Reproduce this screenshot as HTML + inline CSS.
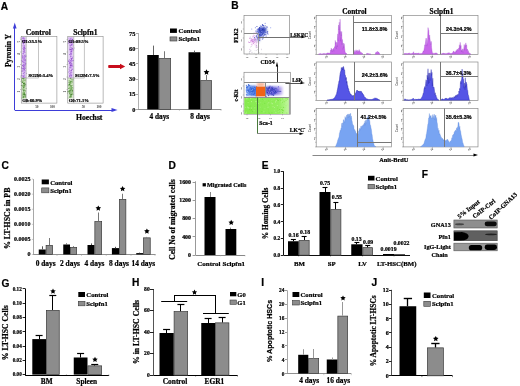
<!DOCTYPE html>
<html><head><meta charset="utf-8"><style>
html,body{margin:0;padding:0;background:#fff;}
body{width:520px;height:386px;overflow:hidden;}
svg{display:block;}
</style></head><body>
<svg width="520" height="386" viewBox="0 0 520 386">
<rect width="520" height="386" fill="#fff"/>
<defs><filter id="gb" x="0" y="0" width="100%" height="100%"><feGaussianBlur stdDeviation="0.45"/></filter></defs><g filter="url(#gb)">
<text x="0.8" y="9.6" font-family="'Liberation Sans', sans-serif" font-size="10.2" font-weight="bold" text-anchor="start" fill="#000" stroke="#000" stroke-width="0.22">A</text>
<text x="231.2" y="9.3" font-family="'Liberation Sans', sans-serif" font-size="10.2" font-weight="bold" text-anchor="start" fill="#000" stroke="#000" stroke-width="0.22">B</text>
<text x="1.6" y="168.8" font-family="'Liberation Sans', sans-serif" font-size="10.2" font-weight="bold" text-anchor="start" fill="#000" stroke="#000" stroke-width="0.22">C</text>
<text x="168.6" y="168.8" font-family="'Liberation Sans', sans-serif" font-size="10.2" font-weight="bold" text-anchor="start" fill="#000" stroke="#000" stroke-width="0.22">D</text>
<text x="261.8" y="168.8" font-family="'Liberation Sans', sans-serif" font-size="10.2" font-weight="bold" text-anchor="start" fill="#000" stroke="#000" stroke-width="0.22">E</text>
<text x="421.8" y="177.6" font-family="'Liberation Sans', sans-serif" font-size="10.2" font-weight="bold" text-anchor="start" fill="#000" stroke="#000" stroke-width="0.22">F</text>
<text x="1.6" y="287.2" font-family="'Liberation Sans', sans-serif" font-size="10.2" font-weight="bold" text-anchor="start" fill="#000" stroke="#000" stroke-width="0.22">G</text>
<text x="132" y="286.4" font-family="'Liberation Sans', sans-serif" font-size="10.2" font-weight="bold" text-anchor="start" fill="#000" stroke="#000" stroke-width="0.22">H</text>
<text x="261.2" y="285.8" font-family="'Liberation Sans', sans-serif" font-size="10.2" font-weight="bold" text-anchor="start" fill="#000" stroke="#000" stroke-width="0.22">I</text>
<text x="371.6" y="286.4" font-family="'Liberation Sans', sans-serif" font-size="10.2" font-weight="bold" text-anchor="start" fill="#000" stroke="#000" stroke-width="0.22">J</text>
<line x1="14.5" y1="110" x2="14.5" y2="27" stroke="#3c3cd8" stroke-width="1"/>
<polygon points="14.75,22.5 12.9,28.5 16.6,28.5" fill="#3c3cd8"/>
<line x1="14.75" y1="110.5" x2="112" y2="110.5" stroke="#3c3cd8" stroke-width="1"/>
<polygon points="117.5,110 111.5,108.1 111.5,111.9" fill="#3c3cd8"/>
<text x="10.8" y="50.5" font-family="'Liberation Serif', serif" font-size="7.6" font-weight="bold" text-anchor="middle" fill="#000" transform="rotate(-90 10.8 50.5)" stroke="#000" stroke-width="0.22">Pyronin Y</text>
<text x="89.2" y="120.4" font-family="'Liberation Serif', serif" font-size="7.7" font-weight="bold" text-anchor="middle" fill="#000" stroke="#000" stroke-width="0.22">Hoechst</text>
<text x="38.3" y="34.6" font-family="'Liberation Serif', serif" font-size="7.6" font-weight="bold" text-anchor="middle" fill="#000" stroke="#000" stroke-width="0.22">Control</text>
<text x="85.4" y="34.6" font-family="'Liberation Serif', serif" font-size="7.6" font-weight="bold" text-anchor="middle" fill="#000" stroke="#000" stroke-width="0.22">Sclpfn1</text>
<rect x="21.75" y="37.2" width="4.3" height="40.8" fill="#e4d0f4"/>
<rect x="21.75" y="78" width="4.3" height="20.5" fill="#d4e6c8"/>
<circle cx="24.68" cy="50.62" r="0.5" fill="#a060d8"/>
<circle cx="25.05" cy="70.76" r="0.5" fill="#a060d8"/>
<circle cx="24.97" cy="52.31" r="0.5" fill="#a060d8"/>
<circle cx="24.22" cy="40.98" r="0.5" fill="#c8a0ec"/>
<circle cx="24.72" cy="40.33" r="0.5" fill="#a060d8"/>
<circle cx="24.37" cy="75.87" r="0.5" fill="#a060d8"/>
<circle cx="21.35" cy="60.87" r="0.5" fill="#a060d8"/>
<circle cx="25.57" cy="60.04" r="0.5" fill="#b880e4"/>
<circle cx="24.09" cy="49.23" r="0.5" fill="#8840c0"/>
<circle cx="24.18" cy="60.19" r="0.5" fill="#b880e4"/>
<circle cx="23.11" cy="41.67" r="0.5" fill="#a060d8"/>
<circle cx="23.44" cy="59.68" r="0.5" fill="#a060d8"/>
<circle cx="22.81" cy="60.36" r="0.5" fill="#c8a0ec"/>
<circle cx="22.87" cy="68.98" r="0.5" fill="#c8a0ec"/>
<circle cx="22.86" cy="61.22" r="0.5" fill="#b880e4"/>
<circle cx="24.02" cy="65.81" r="0.5" fill="#b880e4"/>
<circle cx="23.35" cy="40.82" r="0.5" fill="#8840c0"/>
<circle cx="24.97" cy="67.04" r="0.5" fill="#8840c0"/>
<circle cx="24.93" cy="62.16" r="0.5" fill="#b880e4"/>
<circle cx="24.33" cy="68.16" r="0.5" fill="#b880e4"/>
<circle cx="21.27" cy="75.3" r="0.5" fill="#a060d8"/>
<circle cx="25.08" cy="68.47" r="0.5" fill="#8840c0"/>
<circle cx="22.99" cy="51.27" r="0.5" fill="#c8a0ec"/>
<circle cx="24.79" cy="40.28" r="0.5" fill="#a060d8"/>
<circle cx="22.15" cy="75.76" r="0.5" fill="#a060d8"/>
<circle cx="24.01" cy="67.11" r="0.5" fill="#8840c0"/>
<circle cx="25.79" cy="63.71" r="0.5" fill="#8840c0"/>
<circle cx="23.66" cy="66.52" r="0.5" fill="#8840c0"/>
<circle cx="23.1" cy="38.41" r="0.5" fill="#a060d8"/>
<circle cx="23.91" cy="57.49" r="0.5" fill="#b880e4"/>
<circle cx="24.32" cy="68.61" r="0.5" fill="#c8a0ec"/>
<circle cx="24.35" cy="74.63" r="0.5" fill="#c8a0ec"/>
<circle cx="22.43" cy="40.76" r="0.5" fill="#b880e4"/>
<circle cx="24.19" cy="70.68" r="0.5" fill="#8840c0"/>
<circle cx="25.41" cy="66.11" r="0.5" fill="#c8a0ec"/>
<circle cx="23.61" cy="76.29" r="0.5" fill="#b880e4"/>
<circle cx="24.69" cy="40.86" r="0.5" fill="#a060d8"/>
<circle cx="25.06" cy="57.14" r="0.5" fill="#b880e4"/>
<circle cx="24.9" cy="48.14" r="0.5" fill="#8840c0"/>
<circle cx="23.78" cy="62.2" r="0.5" fill="#8840c0"/>
<circle cx="23.27" cy="76.1" r="0.5" fill="#a060d8"/>
<circle cx="22.52" cy="55.99" r="0.5" fill="#c8a0ec"/>
<circle cx="22.76" cy="53.62" r="0.5" fill="#c8a0ec"/>
<circle cx="24.53" cy="40.02" r="0.5" fill="#a060d8"/>
<circle cx="23.26" cy="77.38" r="0.5" fill="#a060d8"/>
<circle cx="23.94" cy="41.65" r="0.5" fill="#b880e4"/>
<circle cx="25.19" cy="59.23" r="0.5" fill="#a060d8"/>
<circle cx="23.27" cy="72.91" r="0.5" fill="#c8a0ec"/>
<circle cx="23.74" cy="43.52" r="0.5" fill="#8840c0"/>
<circle cx="24.77" cy="56.7" r="0.5" fill="#a060d8"/>
<circle cx="24.98" cy="71.88" r="0.5" fill="#c8a0ec"/>
<circle cx="23.7" cy="50.13" r="0.5" fill="#b880e4"/>
<circle cx="23.28" cy="41.64" r="0.5" fill="#b880e4"/>
<circle cx="24.47" cy="58.41" r="0.5" fill="#b880e4"/>
<circle cx="23.14" cy="76.01" r="0.5" fill="#a060d8"/>
<circle cx="23.64" cy="68.2" r="0.5" fill="#8840c0"/>
<circle cx="24.86" cy="77.13" r="0.5" fill="#8840c0"/>
<circle cx="22.46" cy="58.5" r="0.5" fill="#b880e4"/>
<circle cx="23.98" cy="51.91" r="0.5" fill="#8840c0"/>
<circle cx="25.1" cy="63.28" r="0.5" fill="#b880e4"/>
<circle cx="24.5" cy="70.15" r="0.5" fill="#b880e4"/>
<circle cx="22.11" cy="45.6" r="0.5" fill="#c8a0ec"/>
<circle cx="24.01" cy="51.9" r="0.5" fill="#8840c0"/>
<circle cx="23.8" cy="56.63" r="0.5" fill="#b880e4"/>
<circle cx="24.9" cy="65.55" r="0.5" fill="#8840c0"/>
<circle cx="23.43" cy="76.18" r="0.5" fill="#8840c0"/>
<circle cx="24.74" cy="40.76" r="0.5" fill="#8840c0"/>
<circle cx="24.49" cy="45.78" r="0.5" fill="#a060d8"/>
<circle cx="22.62" cy="56.92" r="0.5" fill="#a060d8"/>
<circle cx="22.13" cy="71.3" r="0.5" fill="#a060d8"/>
<circle cx="24.12" cy="74.35" r="0.5" fill="#c8a0ec"/>
<circle cx="21.96" cy="73.5" r="0.5" fill="#c8a0ec"/>
<circle cx="22.77" cy="69.46" r="0.5" fill="#c8a0ec"/>
<circle cx="25.47" cy="56.26" r="0.5" fill="#a060d8"/>
<circle cx="24.03" cy="66.85" r="0.5" fill="#b880e4"/>
<circle cx="24.25" cy="61.43" r="0.5" fill="#c8a0ec"/>
<circle cx="25" cy="70.16" r="0.5" fill="#c8a0ec"/>
<circle cx="25.39" cy="64.12" r="0.5" fill="#8840c0"/>
<circle cx="23.53" cy="43.81" r="0.5" fill="#a060d8"/>
<circle cx="23.68" cy="58.83" r="0.5" fill="#b880e4"/>
<circle cx="25.17" cy="55.07" r="0.5" fill="#b880e4"/>
<circle cx="22.27" cy="38.63" r="0.5" fill="#b880e4"/>
<circle cx="23.84" cy="49.37" r="0.5" fill="#8840c0"/>
<circle cx="25.21" cy="59.55" r="0.5" fill="#b880e4"/>
<circle cx="23.6" cy="39.97" r="0.5" fill="#c8a0ec"/>
<circle cx="21.41" cy="71" r="0.5" fill="#b880e4"/>
<circle cx="23.54" cy="59.04" r="0.5" fill="#c8a0ec"/>
<circle cx="23.72" cy="68.95" r="0.5" fill="#a060d8"/>
<circle cx="24.11" cy="68.93" r="0.5" fill="#a060d8"/>
<circle cx="24.24" cy="60.04" r="0.5" fill="#8840c0"/>
<circle cx="22.51" cy="65.13" r="0.5" fill="#a060d8"/>
<circle cx="23.51" cy="73.27" r="0.5" fill="#a060d8"/>
<circle cx="23.43" cy="47.56" r="0.5" fill="#c8a0ec"/>
<circle cx="25.62" cy="60.25" r="0.5" fill="#a060d8"/>
<circle cx="22.76" cy="55.45" r="0.5" fill="#b880e4"/>
<circle cx="22.9" cy="65.56" r="0.5" fill="#c8a0ec"/>
<circle cx="24.21" cy="58.08" r="0.5" fill="#b880e4"/>
<circle cx="22.52" cy="65.82" r="0.5" fill="#8840c0"/>
<circle cx="24.33" cy="74.87" r="0.5" fill="#c8a0ec"/>
<circle cx="23.29" cy="43.05" r="0.5" fill="#a060d8"/>
<circle cx="23.09" cy="53.39" r="0.5" fill="#c8a0ec"/>
<circle cx="25.25" cy="40.46" r="0.5" fill="#8840c0"/>
<circle cx="24.26" cy="69.25" r="0.5" fill="#8840c0"/>
<circle cx="23.37" cy="43.29" r="0.5" fill="#b880e4"/>
<circle cx="24.27" cy="76.69" r="0.5" fill="#c8a0ec"/>
<circle cx="26.42" cy="73.34" r="0.5" fill="#b880e4"/>
<circle cx="24.07" cy="77.59" r="0.5" fill="#c8a0ec"/>
<circle cx="23.18" cy="77.76" r="0.5" fill="#c8a0ec"/>
<circle cx="24.07" cy="51.23" r="0.5" fill="#8840c0"/>
<circle cx="24.66" cy="38.29" r="0.5" fill="#c8a0ec"/>
<circle cx="24.73" cy="55.34" r="0.5" fill="#8840c0"/>
<circle cx="23.86" cy="58.25" r="0.5" fill="#a060d8"/>
<circle cx="24.44" cy="42.07" r="0.5" fill="#a060d8"/>
<circle cx="23.36" cy="40.9" r="0.5" fill="#8840c0"/>
<circle cx="23.91" cy="39.1" r="0.5" fill="#b880e4"/>
<circle cx="22.89" cy="70.7" r="0.5" fill="#8840c0"/>
<circle cx="22.46" cy="53.94" r="0.5" fill="#c8a0ec"/>
<circle cx="23.45" cy="65.87" r="0.5" fill="#a060d8"/>
<circle cx="23.96" cy="48.8" r="0.5" fill="#a060d8"/>
<circle cx="23.08" cy="48.39" r="0.5" fill="#a060d8"/>
<circle cx="23.9" cy="63.19" r="0.5" fill="#b880e4"/>
<circle cx="23.31" cy="40.2" r="0.5" fill="#a060d8"/>
<circle cx="23.01" cy="55.88" r="0.5" fill="#8840c0"/>
<circle cx="24.93" cy="62.68" r="0.5" fill="#a060d8"/>
<circle cx="23.79" cy="58.84" r="0.5" fill="#b880e4"/>
<circle cx="24.28" cy="48.11" r="0.5" fill="#b880e4"/>
<circle cx="23.39" cy="45.67" r="0.5" fill="#b880e4"/>
<circle cx="24.62" cy="49.24" r="0.5" fill="#b880e4"/>
<circle cx="24.92" cy="48.46" r="0.5" fill="#a060d8"/>
<circle cx="20.4" cy="38.12" r="0.5" fill="#b880e4"/>
<circle cx="23.78" cy="58.33" r="0.5" fill="#c8a0ec"/>
<circle cx="24.95" cy="64.09" r="0.5" fill="#c8a0ec"/>
<circle cx="23.48" cy="76.8" r="0.5" fill="#b880e4"/>
<circle cx="24.47" cy="51.38" r="0.5" fill="#b880e4"/>
<circle cx="23.54" cy="53.89" r="0.5" fill="#b880e4"/>
<circle cx="24.05" cy="38.08" r="0.5" fill="#8840c0"/>
<circle cx="25.28" cy="54.94" r="0.5" fill="#c8a0ec"/>
<circle cx="24.31" cy="72.76" r="0.5" fill="#8840c0"/>
<circle cx="23.63" cy="61.75" r="0.5" fill="#b880e4"/>
<circle cx="23.44" cy="43.88" r="0.5" fill="#c8a0ec"/>
<circle cx="23.1" cy="37.65" r="0.5" fill="#8840c0"/>
<circle cx="24.49" cy="47.4" r="0.5" fill="#8840c0"/>
<circle cx="24.16" cy="46.32" r="0.5" fill="#a060d8"/>
<circle cx="24.66" cy="56.72" r="0.5" fill="#b880e4"/>
<circle cx="23.83" cy="47.55" r="0.5" fill="#a060d8"/>
<circle cx="23.28" cy="43.33" r="0.5" fill="#a060d8"/>
<circle cx="23.27" cy="53.46" r="0.5" fill="#a060d8"/>
<circle cx="25.23" cy="61.22" r="0.5" fill="#b880e4"/>
<circle cx="23.27" cy="64.13" r="0.5" fill="#c8a0ec"/>
<circle cx="21.54" cy="68.45" r="0.5" fill="#c8a0ec"/>
<circle cx="23.49" cy="43.55" r="0.5" fill="#a060d8"/>
<circle cx="22.19" cy="70.91" r="0.5" fill="#c8a0ec"/>
<circle cx="23.98" cy="67.22" r="0.5" fill="#a060d8"/>
<circle cx="23.19" cy="70.97" r="0.5" fill="#b880e4"/>
<circle cx="25.26" cy="40.95" r="0.5" fill="#a060d8"/>
<circle cx="24.16" cy="52.75" r="0.5" fill="#c8a0ec"/>
<circle cx="22.68" cy="60.12" r="0.5" fill="#b880e4"/>
<circle cx="22.64" cy="57.32" r="0.5" fill="#a060d8"/>
<circle cx="26.06" cy="56.01" r="0.5" fill="#a060d8"/>
<circle cx="24.84" cy="64.2" r="0.5" fill="#a060d8"/>
<circle cx="21.77" cy="67.7" r="0.5" fill="#8840c0"/>
<circle cx="24.08" cy="47.01" r="0.5" fill="#b880e4"/>
<circle cx="23.03" cy="46.84" r="0.5" fill="#c8a0ec"/>
<circle cx="22.76" cy="40.61" r="0.5" fill="#8840c0"/>
<circle cx="22.58" cy="68.56" r="0.5" fill="#a060d8"/>
<circle cx="22.69" cy="61.79" r="0.5" fill="#8840c0"/>
<circle cx="23.71" cy="47.78" r="0.5" fill="#b880e4"/>
<circle cx="22.81" cy="38.01" r="0.5" fill="#a060d8"/>
<circle cx="24.25" cy="57.17" r="0.5" fill="#b880e4"/>
<circle cx="23.66" cy="64.87" r="0.5" fill="#8840c0"/>
<circle cx="23.48" cy="92.32" r="0.5" fill="#5a9a40"/>
<circle cx="24.95" cy="97.87" r="0.5" fill="#88b870"/>
<circle cx="24.82" cy="84.58" r="0.5" fill="#3f7a2a"/>
<circle cx="24.39" cy="87.45" r="0.5" fill="#a8cc90"/>
<circle cx="21.89" cy="97.88" r="0.5" fill="#88b870"/>
<circle cx="25.35" cy="79.95" r="0.5" fill="#5a9a40"/>
<circle cx="21.06" cy="81.26" r="0.5" fill="#88b870"/>
<circle cx="23.34" cy="90.27" r="0.5" fill="#3f7a2a"/>
<circle cx="23.52" cy="95.79" r="0.5" fill="#a8cc90"/>
<circle cx="22.99" cy="86.18" r="0.5" fill="#88b870"/>
<circle cx="22.55" cy="78.57" r="0.5" fill="#3f7a2a"/>
<circle cx="23.81" cy="92.68" r="0.5" fill="#a8cc90"/>
<circle cx="22.9" cy="85.21" r="0.5" fill="#5a9a40"/>
<circle cx="25.68" cy="84.83" r="0.5" fill="#3f7a2a"/>
<circle cx="25.58" cy="94.86" r="0.5" fill="#5a9a40"/>
<circle cx="25.47" cy="96.08" r="0.5" fill="#3f7a2a"/>
<circle cx="24.75" cy="83.44" r="0.5" fill="#5a9a40"/>
<circle cx="24.18" cy="85.53" r="0.5" fill="#a8cc90"/>
<circle cx="24.29" cy="93.24" r="0.5" fill="#5a9a40"/>
<circle cx="23.04" cy="94.78" r="0.5" fill="#3f7a2a"/>
<circle cx="25.49" cy="90.88" r="0.5" fill="#a8cc90"/>
<circle cx="26.11" cy="88.46" r="0.5" fill="#88b870"/>
<circle cx="24" cy="93.58" r="0.5" fill="#5a9a40"/>
<circle cx="22.62" cy="94.33" r="0.5" fill="#a8cc90"/>
<circle cx="25.04" cy="96.31" r="0.5" fill="#5a9a40"/>
<circle cx="23.24" cy="79.46" r="0.5" fill="#a8cc90"/>
<circle cx="23.78" cy="87.29" r="0.5" fill="#3f7a2a"/>
<circle cx="22.17" cy="87.97" r="0.5" fill="#88b870"/>
<circle cx="22.98" cy="81.83" r="0.5" fill="#3f7a2a"/>
<circle cx="24.21" cy="92.91" r="0.5" fill="#3f7a2a"/>
<circle cx="23.84" cy="86.42" r="0.5" fill="#a8cc90"/>
<circle cx="25.01" cy="80.83" r="0.5" fill="#88b870"/>
<circle cx="21.74" cy="79.97" r="0.5" fill="#88b870"/>
<circle cx="23.74" cy="87.33" r="0.5" fill="#3f7a2a"/>
<circle cx="23.18" cy="97.93" r="0.5" fill="#88b870"/>
<circle cx="23.94" cy="83.26" r="0.5" fill="#88b870"/>
<circle cx="24.43" cy="85.17" r="0.5" fill="#3f7a2a"/>
<circle cx="24.19" cy="94.28" r="0.5" fill="#88b870"/>
<circle cx="23.75" cy="95.8" r="0.5" fill="#a8cc90"/>
<circle cx="22.61" cy="93.04" r="0.5" fill="#88b870"/>
<circle cx="23.54" cy="85.85" r="0.5" fill="#3f7a2a"/>
<circle cx="24.08" cy="89.7" r="0.5" fill="#3f7a2a"/>
<circle cx="22.2" cy="80.95" r="0.5" fill="#88b870"/>
<circle cx="23.72" cy="80.31" r="0.5" fill="#88b870"/>
<circle cx="23.04" cy="86" r="0.5" fill="#3f7a2a"/>
<circle cx="22.82" cy="95.05" r="0.5" fill="#5a9a40"/>
<circle cx="22.08" cy="80.98" r="0.5" fill="#a8cc90"/>
<circle cx="24.6" cy="97.38" r="0.5" fill="#a8cc90"/>
<circle cx="21.8" cy="78.5" r="0.5" fill="#a8cc90"/>
<circle cx="25.33" cy="97.46" r="0.5" fill="#88b870"/>
<circle cx="23.85" cy="93.77" r="0.5" fill="#5a9a40"/>
<circle cx="24.37" cy="96.86" r="0.5" fill="#a8cc90"/>
<circle cx="23.76" cy="80.16" r="0.5" fill="#88b870"/>
<circle cx="23.69" cy="83.04" r="0.5" fill="#5a9a40"/>
<circle cx="23.56" cy="91.09" r="0.5" fill="#3f7a2a"/>
<circle cx="24.29" cy="88.8" r="0.5" fill="#a8cc90"/>
<circle cx="24.07" cy="92.12" r="0.5" fill="#88b870"/>
<circle cx="24.02" cy="86.07" r="0.5" fill="#88b870"/>
<circle cx="25.12" cy="93.91" r="0.5" fill="#a8cc90"/>
<circle cx="23.76" cy="83.93" r="0.5" fill="#3f7a2a"/>
<circle cx="24.68" cy="91.07" r="0.5" fill="#88b870"/>
<circle cx="22.92" cy="89.17" r="0.5" fill="#5a9a40"/>
<circle cx="23.48" cy="97.23" r="0.5" fill="#5a9a40"/>
<circle cx="22.85" cy="82.29" r="0.5" fill="#a8cc90"/>
<circle cx="23.91" cy="80.08" r="0.5" fill="#3f7a2a"/>
<circle cx="24.89" cy="82.92" r="0.5" fill="#5a9a40"/>
<circle cx="23.54" cy="92.07" r="0.5" fill="#a8cc90"/>
<circle cx="22.73" cy="82.36" r="0.5" fill="#3f7a2a"/>
<circle cx="23" cy="92.91" r="0.5" fill="#88b870"/>
<circle cx="23.73" cy="84.58" r="0.5" fill="#88b870"/>
<circle cx="24.08" cy="83" r="0.5" fill="#3f7a2a"/>
<circle cx="25.58" cy="80.63" r="0.5" fill="#a8cc90"/>
<circle cx="24.76" cy="90.4" r="0.5" fill="#5a9a40"/>
<circle cx="22.98" cy="97" r="0.5" fill="#88b870"/>
<circle cx="23.98" cy="96.48" r="0.5" fill="#88b870"/>
<circle cx="23.83" cy="86.6" r="0.5" fill="#5a9a40"/>
<circle cx="22.1" cy="82.09" r="0.5" fill="#3f7a2a"/>
<circle cx="24.29" cy="92.79" r="0.5" fill="#5a9a40"/>
<circle cx="23.41" cy="96.67" r="0.5" fill="#a8cc90"/>
<circle cx="24.37" cy="79.12" r="0.5" fill="#a8cc90"/>
<circle cx="24.93" cy="94.86" r="0.5" fill="#5a9a40"/>
<circle cx="23.64" cy="78.56" r="0.5" fill="#3f7a2a"/>
<circle cx="21.74" cy="80.07" r="0.5" fill="#88b870"/>
<circle cx="24.85" cy="85.91" r="0.5" fill="#3f7a2a"/>
<circle cx="23.43" cy="94.53" r="0.5" fill="#a8cc90"/>
<circle cx="23.89" cy="82.32" r="0.5" fill="#a8cc90"/>
<circle cx="22.21" cy="82.26" r="0.5" fill="#5a9a40"/>
<circle cx="25.52" cy="90.82" r="0.5" fill="#88b870"/>
<circle cx="23.78" cy="94.33" r="0.5" fill="#5a9a40"/>
<circle cx="23.43" cy="87.55" r="0.5" fill="#5a9a40"/>
<circle cx="23.71" cy="83.51" r="0.5" fill="#3f7a2a"/>
<circle cx="21.4" cy="85.58" r="0.5" fill="#3f7a2a"/>
<circle cx="23.11" cy="97.17" r="0.5" fill="#3f7a2a"/>
<circle cx="23.17" cy="96.52" r="0.5" fill="#3f7a2a"/>
<circle cx="23.84" cy="78.57" r="0.5" fill="#5a9a40"/>
<circle cx="21.3" cy="78.97" r="0.5" fill="#88b870"/>
<circle cx="23.49" cy="80.59" r="0.5" fill="#a8cc90"/>
<circle cx="22.55" cy="93.9" r="0.5" fill="#a8cc90"/>
<circle cx="24.62" cy="94.39" r="0.5" fill="#5a9a40"/>
<circle cx="24.7" cy="94.15" r="0.5" fill="#3f7a2a"/>
<circle cx="23.96" cy="94.54" r="0.5" fill="#3f7a2a"/>
<circle cx="22.26" cy="95.29" r="0.5" fill="#a8cc90"/>
<circle cx="23.84" cy="85.56" r="0.5" fill="#88b870"/>
<circle cx="23.31" cy="86.14" r="0.5" fill="#88b870"/>
<circle cx="24.02" cy="83.32" r="0.5" fill="#3f7a2a"/>
<circle cx="23.86" cy="81.63" r="0.5" fill="#a8cc90"/>
<circle cx="24.61" cy="95.73" r="0.5" fill="#5a9a40"/>
<circle cx="23.68" cy="82.56" r="0.5" fill="#a8cc90"/>
<circle cx="23.45" cy="88.22" r="0.5" fill="#88b870"/>
<circle cx="22.59" cy="81.09" r="0.5" fill="#a8cc90"/>
<rect x="21.25" y="36.5" width="35.65" height="66.6" fill="none" stroke="#8a8a8a" stroke-width="0.6"/>
<line x1="26.25" y1="36.5" x2="26.25" y2="103.1" stroke="#8a8a8a" stroke-width="0.5"/>
<line x1="21.25" y1="78" x2="38.5" y2="78" stroke="#8a8a8a" stroke-width="0.5"/>
<line x1="38.5" y1="36.5" x2="38.5" y2="78" stroke="#8a8a8a" stroke-width="0.5"/>
<text x="21.95" y="43.2" font-family="'Liberation Serif', serif" font-size="4.6" font-weight="bold" text-anchor="start" fill="#000" stroke="#000" stroke-width="0.22">G1:35.5%</text>
<text x="28.45" y="76.5" font-family="'Liberation Serif', serif" font-size="4.6" font-weight="bold" text-anchor="start" fill="#000" stroke="#000" stroke-width="0.22">SG2M:3.4%</text>
<text x="22.25" y="102.2" font-family="'Liberation Serif', serif" font-size="4.6" font-weight="bold" text-anchor="start" fill="#000" stroke="#000" stroke-width="0.22">G0:60.9%</text>
<line x1="20.05" y1="39.5" x2="21.25" y2="39.5" stroke="#777" stroke-width="0.4"/>
<text x="19.65" y="40.7" font-family="'Liberation Serif', serif" font-size="3.4" font-weight="bold" text-anchor="end" fill="#444" transform="rotate(-90 19.65 40.7)">5</text>
<line x1="20.05" y1="52" x2="21.25" y2="52" stroke="#777" stroke-width="0.4"/>
<text x="19.65" y="53.2" font-family="'Liberation Serif', serif" font-size="3.4" font-weight="bold" text-anchor="end" fill="#444" transform="rotate(-90 19.65 53.2)">4</text>
<line x1="20.05" y1="64.5" x2="21.25" y2="64.5" stroke="#777" stroke-width="0.4"/>
<text x="19.65" y="65.7" font-family="'Liberation Serif', serif" font-size="3.4" font-weight="bold" text-anchor="end" fill="#444" transform="rotate(-90 19.65 65.7)">3</text>
<line x1="20.05" y1="77" x2="21.25" y2="77" stroke="#777" stroke-width="0.4"/>
<text x="19.65" y="78.2" font-family="'Liberation Serif', serif" font-size="3.4" font-weight="bold" text-anchor="end" fill="#444" transform="rotate(-90 19.65 78.2)">2</text>
<line x1="20.05" y1="89.5" x2="21.25" y2="89.5" stroke="#777" stroke-width="0.4"/>
<text x="19.65" y="90.7" font-family="'Liberation Serif', serif" font-size="3.4" font-weight="bold" text-anchor="end" fill="#444" transform="rotate(-90 19.65 90.7)">1</text>
<text x="36.85" y="107.8" font-family="'Liberation Serif', serif" font-size="3.4" font-weight="bold" text-anchor="middle" fill="#444">50</text>
<text x="52.45" y="107.8" font-family="'Liberation Serif', serif" font-size="3.4" font-weight="bold" text-anchor="middle" fill="#444">100</text>
<rect x="68.25" y="37.2" width="5.3" height="40.8" fill="#e4d0f4"/>
<rect x="68.25" y="78" width="5.3" height="20.5" fill="#d4e6c8"/>
<circle cx="69.91" cy="62.62" r="0.5" fill="#a060d8"/>
<circle cx="69.13" cy="69.08" r="0.5" fill="#8840c0"/>
<circle cx="69.78" cy="49.4" r="0.5" fill="#8840c0"/>
<circle cx="70.32" cy="45.57" r="0.5" fill="#b880e4"/>
<circle cx="70.83" cy="45.02" r="0.5" fill="#b880e4"/>
<circle cx="71.64" cy="50.72" r="0.5" fill="#c8a0ec"/>
<circle cx="70.78" cy="47.69" r="0.5" fill="#a060d8"/>
<circle cx="72.09" cy="63.96" r="0.5" fill="#a060d8"/>
<circle cx="68.74" cy="41.64" r="0.5" fill="#c8a0ec"/>
<circle cx="71.07" cy="74.53" r="0.5" fill="#a060d8"/>
<circle cx="70.79" cy="73.01" r="0.5" fill="#b880e4"/>
<circle cx="71.1" cy="75.17" r="0.5" fill="#8840c0"/>
<circle cx="71.41" cy="58.26" r="0.5" fill="#a060d8"/>
<circle cx="72.09" cy="41.78" r="0.5" fill="#8840c0"/>
<circle cx="70.34" cy="46.31" r="0.5" fill="#b880e4"/>
<circle cx="71.2" cy="77.99" r="0.5" fill="#a060d8"/>
<circle cx="70.32" cy="61.78" r="0.5" fill="#a060d8"/>
<circle cx="70.15" cy="70.66" r="0.5" fill="#c8a0ec"/>
<circle cx="71.13" cy="64.97" r="0.5" fill="#b880e4"/>
<circle cx="71.62" cy="38.77" r="0.5" fill="#c8a0ec"/>
<circle cx="71.22" cy="59.7" r="0.5" fill="#c8a0ec"/>
<circle cx="70.95" cy="64.39" r="0.5" fill="#b880e4"/>
<circle cx="71.3" cy="63.39" r="0.5" fill="#8840c0"/>
<circle cx="71.11" cy="54.1" r="0.5" fill="#8840c0"/>
<circle cx="70.44" cy="64.55" r="0.5" fill="#8840c0"/>
<circle cx="70.93" cy="54.27" r="0.5" fill="#a060d8"/>
<circle cx="71.8" cy="72.5" r="0.5" fill="#b880e4"/>
<circle cx="70.73" cy="53.32" r="0.5" fill="#c8a0ec"/>
<circle cx="73.12" cy="45.75" r="0.5" fill="#c8a0ec"/>
<circle cx="70.84" cy="42.1" r="0.5" fill="#a060d8"/>
<circle cx="71.66" cy="53.95" r="0.5" fill="#b880e4"/>
<circle cx="69.93" cy="42.76" r="0.5" fill="#a060d8"/>
<circle cx="69.22" cy="59.84" r="0.5" fill="#a060d8"/>
<circle cx="68.88" cy="60.7" r="0.5" fill="#8840c0"/>
<circle cx="71.23" cy="67.36" r="0.5" fill="#b880e4"/>
<circle cx="71.65" cy="58.61" r="0.5" fill="#a060d8"/>
<circle cx="68.77" cy="41.91" r="0.5" fill="#b880e4"/>
<circle cx="70.87" cy="49.72" r="0.5" fill="#a060d8"/>
<circle cx="70.39" cy="77.01" r="0.5" fill="#c8a0ec"/>
<circle cx="70.79" cy="40.99" r="0.5" fill="#b880e4"/>
<circle cx="71.7" cy="63.43" r="0.5" fill="#b880e4"/>
<circle cx="69.55" cy="71.08" r="0.5" fill="#b880e4"/>
<circle cx="73.26" cy="60.4" r="0.5" fill="#b880e4"/>
<circle cx="71.42" cy="53.03" r="0.5" fill="#a060d8"/>
<circle cx="72.74" cy="43.55" r="0.5" fill="#b880e4"/>
<circle cx="70.38" cy="39.16" r="0.5" fill="#a060d8"/>
<circle cx="70.26" cy="64.55" r="0.5" fill="#c8a0ec"/>
<circle cx="71.73" cy="59.78" r="0.5" fill="#8840c0"/>
<circle cx="70.45" cy="63.79" r="0.5" fill="#c8a0ec"/>
<circle cx="71.53" cy="64.18" r="0.5" fill="#c8a0ec"/>
<circle cx="70.79" cy="57.89" r="0.5" fill="#c8a0ec"/>
<circle cx="70.83" cy="56.34" r="0.5" fill="#c8a0ec"/>
<circle cx="70.98" cy="68.42" r="0.5" fill="#b880e4"/>
<circle cx="69.55" cy="70.33" r="0.5" fill="#c8a0ec"/>
<circle cx="71.56" cy="41.84" r="0.5" fill="#a060d8"/>
<circle cx="71.59" cy="69.99" r="0.5" fill="#a060d8"/>
<circle cx="72.45" cy="39.15" r="0.5" fill="#8840c0"/>
<circle cx="72.56" cy="68.99" r="0.5" fill="#a060d8"/>
<circle cx="69.68" cy="39.7" r="0.5" fill="#b880e4"/>
<circle cx="70.72" cy="38.55" r="0.5" fill="#a060d8"/>
<circle cx="70.52" cy="77.84" r="0.5" fill="#b880e4"/>
<circle cx="68.74" cy="42.83" r="0.5" fill="#c8a0ec"/>
<circle cx="71.48" cy="49.16" r="0.5" fill="#b880e4"/>
<circle cx="68.93" cy="40.15" r="0.5" fill="#8840c0"/>
<circle cx="70.74" cy="62.22" r="0.5" fill="#8840c0"/>
<circle cx="71.72" cy="74.16" r="0.5" fill="#c8a0ec"/>
<circle cx="68.28" cy="43.31" r="0.5" fill="#b880e4"/>
<circle cx="70.72" cy="61.47" r="0.5" fill="#b880e4"/>
<circle cx="71.43" cy="50.42" r="0.5" fill="#b880e4"/>
<circle cx="70.91" cy="63.28" r="0.5" fill="#8840c0"/>
<circle cx="71.28" cy="65.03" r="0.5" fill="#8840c0"/>
<circle cx="70.34" cy="42.16" r="0.5" fill="#a060d8"/>
<circle cx="69.33" cy="63.27" r="0.5" fill="#a060d8"/>
<circle cx="72.47" cy="47.71" r="0.5" fill="#c8a0ec"/>
<circle cx="70.01" cy="67.39" r="0.5" fill="#8840c0"/>
<circle cx="71.52" cy="60.88" r="0.5" fill="#8840c0"/>
<circle cx="71.44" cy="50.9" r="0.5" fill="#a060d8"/>
<circle cx="71.14" cy="49.5" r="0.5" fill="#8840c0"/>
<circle cx="72.92" cy="50.06" r="0.5" fill="#8840c0"/>
<circle cx="70.28" cy="67.19" r="0.5" fill="#a060d8"/>
<circle cx="70.36" cy="46.48" r="0.5" fill="#c8a0ec"/>
<circle cx="72.24" cy="58.26" r="0.5" fill="#a060d8"/>
<circle cx="70.98" cy="42.85" r="0.5" fill="#a060d8"/>
<circle cx="72.33" cy="39.7" r="0.5" fill="#8840c0"/>
<circle cx="69.4" cy="49.8" r="0.5" fill="#c8a0ec"/>
<circle cx="70.55" cy="61.14" r="0.5" fill="#b880e4"/>
<circle cx="69.86" cy="45.77" r="0.5" fill="#b880e4"/>
<circle cx="69.87" cy="38.07" r="0.5" fill="#b880e4"/>
<circle cx="70.37" cy="66.15" r="0.5" fill="#b880e4"/>
<circle cx="70.87" cy="72.79" r="0.5" fill="#8840c0"/>
<circle cx="70.74" cy="53.78" r="0.5" fill="#8840c0"/>
<circle cx="70.92" cy="61.59" r="0.5" fill="#c8a0ec"/>
<circle cx="69.48" cy="61.88" r="0.5" fill="#b880e4"/>
<circle cx="70.61" cy="74.09" r="0.5" fill="#a060d8"/>
<circle cx="71.45" cy="39.99" r="0.5" fill="#b880e4"/>
<circle cx="70.86" cy="39.86" r="0.5" fill="#a060d8"/>
<circle cx="68.27" cy="38" r="0.5" fill="#b880e4"/>
<circle cx="69.93" cy="54.23" r="0.5" fill="#c8a0ec"/>
<circle cx="71.18" cy="70.44" r="0.5" fill="#8840c0"/>
<circle cx="71.59" cy="62.85" r="0.5" fill="#c8a0ec"/>
<circle cx="72.87" cy="66.47" r="0.5" fill="#c8a0ec"/>
<circle cx="70.83" cy="40.76" r="0.5" fill="#c8a0ec"/>
<circle cx="71.61" cy="44.6" r="0.5" fill="#a060d8"/>
<circle cx="70.73" cy="42.49" r="0.5" fill="#8840c0"/>
<circle cx="70.61" cy="66.32" r="0.5" fill="#c8a0ec"/>
<circle cx="72.14" cy="65.27" r="0.5" fill="#8840c0"/>
<circle cx="72.85" cy="49.47" r="0.5" fill="#a060d8"/>
<circle cx="69.74" cy="73.14" r="0.5" fill="#a060d8"/>
<circle cx="72.49" cy="44.38" r="0.5" fill="#b880e4"/>
<circle cx="69.56" cy="75.76" r="0.5" fill="#8840c0"/>
<circle cx="69.61" cy="45.27" r="0.5" fill="#c8a0ec"/>
<circle cx="71.71" cy="74.26" r="0.5" fill="#c8a0ec"/>
<circle cx="70.63" cy="56.62" r="0.5" fill="#a060d8"/>
<circle cx="70.73" cy="55.21" r="0.5" fill="#b880e4"/>
<circle cx="70.48" cy="60.6" r="0.5" fill="#a060d8"/>
<circle cx="71.46" cy="60.39" r="0.5" fill="#b880e4"/>
<circle cx="71.27" cy="43.36" r="0.5" fill="#b880e4"/>
<circle cx="70.84" cy="51.47" r="0.5" fill="#b880e4"/>
<circle cx="71.34" cy="65.88" r="0.5" fill="#a060d8"/>
<circle cx="70.87" cy="65.73" r="0.5" fill="#a060d8"/>
<circle cx="69.87" cy="40.16" r="0.5" fill="#a060d8"/>
<circle cx="70.19" cy="73.13" r="0.5" fill="#c8a0ec"/>
<circle cx="70.9" cy="41.84" r="0.5" fill="#a060d8"/>
<circle cx="71.27" cy="75.94" r="0.5" fill="#a060d8"/>
<circle cx="70.14" cy="70.91" r="0.5" fill="#a060d8"/>
<circle cx="70.08" cy="42.87" r="0.5" fill="#b880e4"/>
<circle cx="70.31" cy="49.43" r="0.5" fill="#8840c0"/>
<circle cx="71.48" cy="47.9" r="0.5" fill="#8840c0"/>
<circle cx="70.9" cy="39.46" r="0.5" fill="#c8a0ec"/>
<circle cx="68.34" cy="71.98" r="0.5" fill="#a060d8"/>
<circle cx="72.05" cy="69.46" r="0.5" fill="#a060d8"/>
<circle cx="71.01" cy="51.54" r="0.5" fill="#a060d8"/>
<circle cx="71.21" cy="59.28" r="0.5" fill="#a060d8"/>
<circle cx="72.89" cy="60.77" r="0.5" fill="#8840c0"/>
<circle cx="71.49" cy="44.4" r="0.5" fill="#a060d8"/>
<circle cx="70.76" cy="37.68" r="0.5" fill="#c8a0ec"/>
<circle cx="70.06" cy="41.38" r="0.5" fill="#c8a0ec"/>
<circle cx="68.82" cy="61.5" r="0.5" fill="#8840c0"/>
<circle cx="71.85" cy="60.91" r="0.5" fill="#b880e4"/>
<circle cx="72.45" cy="57.68" r="0.5" fill="#a060d8"/>
<circle cx="70.88" cy="75.52" r="0.5" fill="#a060d8"/>
<circle cx="69.48" cy="62.93" r="0.5" fill="#8840c0"/>
<circle cx="72.84" cy="41.35" r="0.5" fill="#a060d8"/>
<circle cx="69.74" cy="54.6" r="0.5" fill="#a060d8"/>
<circle cx="70.37" cy="52.56" r="0.5" fill="#b880e4"/>
<circle cx="71.85" cy="52.86" r="0.5" fill="#b880e4"/>
<circle cx="71.78" cy="75.73" r="0.5" fill="#a060d8"/>
<circle cx="71.81" cy="51.61" r="0.5" fill="#8840c0"/>
<circle cx="71.56" cy="58.63" r="0.5" fill="#8840c0"/>
<circle cx="69.86" cy="44.37" r="0.5" fill="#c8a0ec"/>
<circle cx="70.71" cy="65.41" r="0.5" fill="#8840c0"/>
<circle cx="71.55" cy="56.21" r="0.5" fill="#b880e4"/>
<circle cx="70.55" cy="58.06" r="0.5" fill="#b880e4"/>
<circle cx="72.58" cy="66.8" r="0.5" fill="#b880e4"/>
<circle cx="69.94" cy="66.79" r="0.5" fill="#b880e4"/>
<circle cx="70.14" cy="50.79" r="0.5" fill="#b880e4"/>
<circle cx="74.18" cy="47.98" r="0.5" fill="#b880e4"/>
<circle cx="69.75" cy="76.48" r="0.5" fill="#a060d8"/>
<circle cx="71.11" cy="45.41" r="0.5" fill="#8840c0"/>
<circle cx="71.26" cy="67.2" r="0.5" fill="#c8a0ec"/>
<circle cx="72.62" cy="48.59" r="0.5" fill="#8840c0"/>
<circle cx="72.29" cy="45.86" r="0.5" fill="#c8a0ec"/>
<circle cx="72.9" cy="56.29" r="0.5" fill="#c8a0ec"/>
<circle cx="70.92" cy="65.58" r="0.5" fill="#8840c0"/>
<circle cx="71.69" cy="56.26" r="0.5" fill="#c8a0ec"/>
<circle cx="71.91" cy="37.72" r="0.5" fill="#b880e4"/>
<circle cx="69.45" cy="74.27" r="0.5" fill="#c8a0ec"/>
<circle cx="71.36" cy="71.76" r="0.5" fill="#b880e4"/>
<circle cx="69.99" cy="65.02" r="0.5" fill="#8840c0"/>
<circle cx="69.81" cy="48.02" r="0.5" fill="#a060d8"/>
<circle cx="70.8" cy="95.95" r="0.5" fill="#88b870"/>
<circle cx="71.86" cy="83.38" r="0.5" fill="#a8cc90"/>
<circle cx="72.91" cy="87.91" r="0.5" fill="#88b870"/>
<circle cx="71.02" cy="95.94" r="0.5" fill="#3f7a2a"/>
<circle cx="69.77" cy="93.67" r="0.5" fill="#5a9a40"/>
<circle cx="71.57" cy="79.24" r="0.5" fill="#88b870"/>
<circle cx="71.27" cy="81.64" r="0.5" fill="#3f7a2a"/>
<circle cx="68.19" cy="80.47" r="0.5" fill="#a8cc90"/>
<circle cx="70.48" cy="89.05" r="0.5" fill="#3f7a2a"/>
<circle cx="69.46" cy="88.67" r="0.5" fill="#a8cc90"/>
<circle cx="67.52" cy="92.97" r="0.5" fill="#88b870"/>
<circle cx="71.65" cy="86.15" r="0.5" fill="#5a9a40"/>
<circle cx="69.57" cy="92.72" r="0.5" fill="#3f7a2a"/>
<circle cx="69.72" cy="83.85" r="0.5" fill="#a8cc90"/>
<circle cx="72.93" cy="79.7" r="0.5" fill="#3f7a2a"/>
<circle cx="71.86" cy="89.81" r="0.5" fill="#5a9a40"/>
<circle cx="70.61" cy="82.88" r="0.5" fill="#88b870"/>
<circle cx="68.14" cy="97.89" r="0.5" fill="#a8cc90"/>
<circle cx="72.05" cy="87.51" r="0.5" fill="#5a9a40"/>
<circle cx="72.93" cy="94.29" r="0.5" fill="#88b870"/>
<circle cx="70.02" cy="87.65" r="0.5" fill="#88b870"/>
<circle cx="70.45" cy="85.39" r="0.5" fill="#a8cc90"/>
<circle cx="70.37" cy="87.63" r="0.5" fill="#88b870"/>
<circle cx="72.08" cy="93.71" r="0.5" fill="#a8cc90"/>
<circle cx="71.26" cy="85.42" r="0.5" fill="#a8cc90"/>
<circle cx="70.05" cy="91.91" r="0.5" fill="#a8cc90"/>
<circle cx="68.77" cy="91.74" r="0.5" fill="#3f7a2a"/>
<circle cx="70.98" cy="85.48" r="0.5" fill="#3f7a2a"/>
<circle cx="69.22" cy="84.75" r="0.5" fill="#5a9a40"/>
<circle cx="70.9" cy="91.36" r="0.5" fill="#3f7a2a"/>
<circle cx="70.39" cy="81.48" r="0.5" fill="#5a9a40"/>
<circle cx="71.77" cy="94.64" r="0.5" fill="#3f7a2a"/>
<circle cx="72.07" cy="93.79" r="0.5" fill="#5a9a40"/>
<circle cx="72.35" cy="91.32" r="0.5" fill="#88b870"/>
<circle cx="70.29" cy="97.06" r="0.5" fill="#5a9a40"/>
<circle cx="70.06" cy="89.78" r="0.5" fill="#88b870"/>
<circle cx="68.91" cy="82.12" r="0.5" fill="#88b870"/>
<circle cx="71.32" cy="96.13" r="0.5" fill="#88b870"/>
<circle cx="69.6" cy="90.39" r="0.5" fill="#5a9a40"/>
<circle cx="67.95" cy="91.53" r="0.5" fill="#3f7a2a"/>
<circle cx="70.27" cy="82.35" r="0.5" fill="#a8cc90"/>
<circle cx="69.48" cy="91.59" r="0.5" fill="#5a9a40"/>
<circle cx="70.68" cy="89.32" r="0.5" fill="#88b870"/>
<circle cx="71.55" cy="87.73" r="0.5" fill="#5a9a40"/>
<circle cx="72.17" cy="87.95" r="0.5" fill="#88b870"/>
<circle cx="69.79" cy="88.21" r="0.5" fill="#5a9a40"/>
<circle cx="70.02" cy="81.63" r="0.5" fill="#a8cc90"/>
<circle cx="72.28" cy="91.47" r="0.5" fill="#a8cc90"/>
<circle cx="68.31" cy="85.81" r="0.5" fill="#5a9a40"/>
<circle cx="72.12" cy="82.02" r="0.5" fill="#3f7a2a"/>
<circle cx="72.23" cy="90.9" r="0.5" fill="#3f7a2a"/>
<circle cx="71.02" cy="94.27" r="0.5" fill="#5a9a40"/>
<circle cx="68.41" cy="88.46" r="0.5" fill="#5a9a40"/>
<circle cx="70.98" cy="82.66" r="0.5" fill="#a8cc90"/>
<circle cx="69.59" cy="90.69" r="0.5" fill="#3f7a2a"/>
<circle cx="72.61" cy="85.16" r="0.5" fill="#88b870"/>
<circle cx="70.29" cy="84.04" r="0.5" fill="#5a9a40"/>
<circle cx="71.45" cy="94.62" r="0.5" fill="#3f7a2a"/>
<circle cx="69.76" cy="85.43" r="0.5" fill="#3f7a2a"/>
<circle cx="70.79" cy="95.52" r="0.5" fill="#3f7a2a"/>
<circle cx="69.65" cy="97.51" r="0.5" fill="#3f7a2a"/>
<circle cx="69.14" cy="82.25" r="0.5" fill="#3f7a2a"/>
<circle cx="71.21" cy="80.99" r="0.5" fill="#5a9a40"/>
<circle cx="70.67" cy="86.28" r="0.5" fill="#a8cc90"/>
<circle cx="71.63" cy="89.14" r="0.5" fill="#5a9a40"/>
<circle cx="71.04" cy="79.4" r="0.5" fill="#a8cc90"/>
<circle cx="69.69" cy="90.37" r="0.5" fill="#a8cc90"/>
<circle cx="69.12" cy="90.53" r="0.5" fill="#5a9a40"/>
<circle cx="70.14" cy="82.64" r="0.5" fill="#88b870"/>
<circle cx="69.69" cy="80.48" r="0.5" fill="#88b870"/>
<circle cx="70.3" cy="95.45" r="0.5" fill="#5a9a40"/>
<circle cx="70.99" cy="85.69" r="0.5" fill="#88b870"/>
<circle cx="69.96" cy="93.84" r="0.5" fill="#3f7a2a"/>
<circle cx="70.43" cy="82.1" r="0.5" fill="#5a9a40"/>
<circle cx="69.32" cy="84.71" r="0.5" fill="#5a9a40"/>
<circle cx="71.42" cy="88.21" r="0.5" fill="#5a9a40"/>
<circle cx="70.92" cy="94.58" r="0.5" fill="#a8cc90"/>
<circle cx="69.61" cy="87.21" r="0.5" fill="#5a9a40"/>
<circle cx="67.86" cy="91.76" r="0.5" fill="#88b870"/>
<circle cx="68.82" cy="87.77" r="0.5" fill="#a8cc90"/>
<circle cx="71.83" cy="89.2" r="0.5" fill="#88b870"/>
<circle cx="71.37" cy="90.72" r="0.5" fill="#a8cc90"/>
<circle cx="70.52" cy="78.59" r="0.5" fill="#5a9a40"/>
<circle cx="70.24" cy="82.76" r="0.5" fill="#5a9a40"/>
<circle cx="72.49" cy="81.01" r="0.5" fill="#88b870"/>
<circle cx="70.95" cy="87.29" r="0.5" fill="#88b870"/>
<circle cx="69.54" cy="96.49" r="0.5" fill="#88b870"/>
<circle cx="72.11" cy="92.73" r="0.5" fill="#5a9a40"/>
<circle cx="69.54" cy="84.22" r="0.5" fill="#3f7a2a"/>
<circle cx="70.29" cy="96.31" r="0.5" fill="#5a9a40"/>
<circle cx="70.94" cy="92.49" r="0.5" fill="#5a9a40"/>
<circle cx="70.76" cy="86.08" r="0.5" fill="#3f7a2a"/>
<circle cx="71.85" cy="92.72" r="0.5" fill="#a8cc90"/>
<circle cx="72.64" cy="90.37" r="0.5" fill="#3f7a2a"/>
<circle cx="69.7" cy="85.67" r="0.5" fill="#88b870"/>
<circle cx="70.21" cy="81.33" r="0.5" fill="#5a9a40"/>
<circle cx="69.8" cy="85.58" r="0.5" fill="#a8cc90"/>
<circle cx="69.53" cy="87.8" r="0.5" fill="#a8cc90"/>
<circle cx="71.06" cy="96.93" r="0.5" fill="#3f7a2a"/>
<circle cx="69.36" cy="83.96" r="0.5" fill="#3f7a2a"/>
<circle cx="70.72" cy="95.46" r="0.5" fill="#88b870"/>
<circle cx="70.56" cy="90.22" r="0.5" fill="#3f7a2a"/>
<circle cx="71.57" cy="89.9" r="0.5" fill="#a8cc90"/>
<circle cx="70.63" cy="91.85" r="0.5" fill="#88b870"/>
<circle cx="70.74" cy="94.25" r="0.5" fill="#3f7a2a"/>
<circle cx="70.81" cy="83.73" r="0.5" fill="#88b870"/>
<circle cx="71.68" cy="89.94" r="0.5" fill="#5a9a40"/>
<circle cx="68.65" cy="84.13" r="0.5" fill="#88b870"/>
<circle cx="71.71" cy="94.33" r="0.5" fill="#3f7a2a"/>
<circle cx="69.69" cy="97.52" r="0.5" fill="#a8cc90"/>
<rect x="67.75" y="36.5" width="35.35" height="66.6" fill="none" stroke="#8a8a8a" stroke-width="0.6"/>
<line x1="73.75" y1="36.5" x2="73.75" y2="103.1" stroke="#8a8a8a" stroke-width="0.5"/>
<line x1="67.75" y1="78" x2="84.4" y2="78" stroke="#8a8a8a" stroke-width="0.5"/>
<line x1="84.4" y1="36.5" x2="84.4" y2="78" stroke="#8a8a8a" stroke-width="0.5"/>
<text x="68.45" y="43.2" font-family="'Liberation Serif', serif" font-size="4.6" font-weight="bold" text-anchor="start" fill="#000" stroke="#000" stroke-width="0.22">G1:09.5%</text>
<text x="74.95" y="76.5" font-family="'Liberation Serif', serif" font-size="4.6" font-weight="bold" text-anchor="start" fill="#000" stroke="#000" stroke-width="0.22">SG2M:7.5%</text>
<text x="68.75" y="102.2" font-family="'Liberation Serif', serif" font-size="4.6" font-weight="bold" text-anchor="start" fill="#000" stroke="#000" stroke-width="0.22">G0:71.1%</text>
<line x1="66.55" y1="39.5" x2="67.75" y2="39.5" stroke="#777" stroke-width="0.4"/>
<text x="66.15" y="40.7" font-family="'Liberation Serif', serif" font-size="3.4" font-weight="bold" text-anchor="end" fill="#444" transform="rotate(-90 66.15 40.7)">5</text>
<line x1="66.55" y1="52" x2="67.75" y2="52" stroke="#777" stroke-width="0.4"/>
<text x="66.15" y="53.2" font-family="'Liberation Serif', serif" font-size="3.4" font-weight="bold" text-anchor="end" fill="#444" transform="rotate(-90 66.15 53.2)">4</text>
<line x1="66.55" y1="64.5" x2="67.75" y2="64.5" stroke="#777" stroke-width="0.4"/>
<text x="66.15" y="65.7" font-family="'Liberation Serif', serif" font-size="3.4" font-weight="bold" text-anchor="end" fill="#444" transform="rotate(-90 66.15 65.7)">3</text>
<line x1="66.55" y1="77" x2="67.75" y2="77" stroke="#777" stroke-width="0.4"/>
<text x="66.15" y="78.2" font-family="'Liberation Serif', serif" font-size="3.4" font-weight="bold" text-anchor="end" fill="#444" transform="rotate(-90 66.15 78.2)">2</text>
<line x1="66.55" y1="89.5" x2="67.75" y2="89.5" stroke="#777" stroke-width="0.4"/>
<text x="66.15" y="90.7" font-family="'Liberation Serif', serif" font-size="3.4" font-weight="bold" text-anchor="end" fill="#444" transform="rotate(-90 66.15 90.7)">1</text>
<text x="83.35" y="107.8" font-family="'Liberation Serif', serif" font-size="3.4" font-weight="bold" text-anchor="middle" fill="#444">50</text>
<text x="98.95" y="107.8" font-family="'Liberation Serif', serif" font-size="3.4" font-weight="bold" text-anchor="middle" fill="#444">100</text>
<rect x="108.2" y="65.0" width="12.5" height="3.0" rx="0.8" fill="#c8101a"/>
<polygon points="125.2,66.5 120,63.8 120,69.2" fill="#c8101a"/>
<line x1="138.5" y1="33" x2="138.5" y2="109.4" stroke="#b0b0b0" stroke-width="1"/>
<line x1="136.5" y1="109.5" x2="221.3" y2="109.5" stroke="#909090" stroke-width="1"/>
<line x1="135.8" y1="109.5" x2="138" y2="109.5" stroke="#aaa" stroke-width="1"/>
<text x="135.3" y="111.5" font-family="'Liberation Serif', serif" font-size="6.3" font-weight="bold" text-anchor="end" fill="#000" stroke="#000" stroke-width="0.22">0</text>
<line x1="135.8" y1="94.5" x2="138" y2="94.5" stroke="#aaa" stroke-width="1"/>
<text x="135.3" y="96.32" font-family="'Liberation Serif', serif" font-size="6.3" font-weight="bold" text-anchor="end" fill="#000" stroke="#000" stroke-width="0.22">15</text>
<line x1="135.8" y1="79.5" x2="138" y2="79.5" stroke="#aaa" stroke-width="1"/>
<text x="135.3" y="81.14" font-family="'Liberation Serif', serif" font-size="6.3" font-weight="bold" text-anchor="end" fill="#000" stroke="#000" stroke-width="0.22">30</text>
<line x1="135.8" y1="63.5" x2="138" y2="63.5" stroke="#aaa" stroke-width="1"/>
<text x="135.3" y="65.96" font-family="'Liberation Serif', serif" font-size="6.3" font-weight="bold" text-anchor="end" fill="#000" stroke="#000" stroke-width="0.22">45</text>
<line x1="135.8" y1="48.5" x2="138" y2="48.5" stroke="#aaa" stroke-width="1"/>
<text x="135.3" y="50.78" font-family="'Liberation Serif', serif" font-size="6.3" font-weight="bold" text-anchor="end" fill="#000" stroke="#000" stroke-width="0.22">60</text>
<line x1="135.8" y1="33.5" x2="138" y2="33.5" stroke="#aaa" stroke-width="1"/>
<text x="135.3" y="35.6" font-family="'Liberation Serif', serif" font-size="6.3" font-weight="bold" text-anchor="end" fill="#000" stroke="#000" stroke-width="0.22">75</text>
<line x1="179.4" y1="109.4" x2="179.4" y2="110.8" stroke="#999" stroke-width="0.5"/>
<line x1="221" y1="109.4" x2="221" y2="110.8" stroke="#999" stroke-width="0.5"/>
<rect x="147.25" y="55" width="11.5" height="54.4" fill="#000"/>
<line x1="153.5" y1="55" x2="153.5" y2="45.6" stroke="#666" stroke-width="1"/>
<rect x="159.1" y="58.45" width="11.55" height="50.95" fill="#8c8c8c" stroke="#3a3a3a" stroke-width="0.7"/>
<line x1="164.5" y1="58.1" x2="164.5" y2="51.25" stroke="#777" stroke-width="1"/>
<rect x="188.5" y="52.25" width="11.9" height="57.15" fill="#000"/>
<line x1="194.5" y1="52.25" x2="194.5" y2="50.6" stroke="#666" stroke-width="1"/>
<rect x="200.75" y="80.6" width="10.8" height="28.8" fill="#8c8c8c" stroke="#3a3a3a" stroke-width="0.7"/>
<line x1="206.5" y1="80.25" x2="206.5" y2="75" stroke="#777" stroke-width="1"/>
<polygon points="206.5,69.18 207.39,70.98 209.38,71.27 207.94,72.67 208.28,74.65 206.5,73.71 204.72,74.65 205.06,72.67 203.62,71.27 205.61,70.98" fill="#000"/>
<rect x="170" y="28.5" width="6.9" height="4.4" fill="#000"/>
<rect x="170" y="36.9" width="6.9" height="4.1" fill="#8c8c8c" stroke="#3a3a3a" stroke-width="0.6"/>
<text x="178.6" y="33.4" font-family="'Liberation Serif', serif" font-size="6.7" font-weight="bold" text-anchor="start" fill="#000" stroke="#000" stroke-width="0.22">Control</text>
<text x="178.6" y="40.8" font-family="'Liberation Serif', serif" font-size="6.7" font-weight="bold" text-anchor="start" fill="#000" stroke="#000" stroke-width="0.22">Sclpfn1</text>
<text x="159.3" y="119.3" font-family="'Liberation Serif', serif" font-size="7.3" font-weight="bold" text-anchor="middle" fill="#000" stroke="#000" stroke-width="0.22">4 days</text>
<text x="200.1" y="119.3" font-family="'Liberation Serif', serif" font-size="7.3" font-weight="bold" text-anchor="middle" fill="#000" stroke="#000" stroke-width="0.22">8 days</text>
<defs><filter id="bl1" x="-50%" y="-50%" width="200%" height="200%"><feGaussianBlur stdDeviation="0.9"/></filter><filter id="bl2" x="-50%" y="-50%" width="200%" height="200%"><feGaussianBlur stdDeviation="0.5"/></filter><linearGradient id="gg" x1="0" y1="0" x2="1" y2="0"><stop offset="0" stop-color="#86ea4e"/><stop offset="0.75" stop-color="#92ee5c"/><stop offset="1" stop-color="#c8f6a8"/></linearGradient><linearGradient id="pp" x1="0" y1="0" x2="1" y2="0"><stop offset="0" stop-color="#3848c0"/><stop offset="0.45" stop-color="#5a58d8"/><stop offset="0.8" stop-color="#a898ec"/><stop offset="1" stop-color="#e8e0fa"/></linearGradient><linearGradient id="lb" x1="0" y1="0" x2="1" y2="0"><stop offset="0" stop-color="#8cb0f0"/><stop offset="0.35" stop-color="#4a7ae2"/><stop offset="1" stop-color="#3a68d8"/></linearGradient></defs>
<g filter="url(#bl2)">
<circle cx="253.4" cy="41.61" r="0.5" fill="#c098e0"/>
<circle cx="251.56" cy="40.8" r="0.5" fill="#e8b0ec"/>
<circle cx="253.69" cy="41.53" r="0.5" fill="#d8a8e4"/>
<circle cx="252.34" cy="40.97" r="0.5" fill="#cc78d8"/>
<circle cx="253.71" cy="40.27" r="0.5" fill="#d8a8e4"/>
<circle cx="252.96" cy="40.84" r="0.5" fill="#cc78d8"/>
<circle cx="254.25" cy="38.19" r="0.5" fill="#c098e0"/>
<circle cx="252.08" cy="40.17" r="0.5" fill="#c098e0"/>
<circle cx="252.72" cy="43.93" r="0.5" fill="#e8b0ec"/>
<circle cx="254.61" cy="42.44" r="0.5" fill="#e8b0ec"/>
<circle cx="254.71" cy="38.01" r="0.5" fill="#c098e0"/>
<circle cx="251.67" cy="39.22" r="0.5" fill="#c098e0"/>
<circle cx="255.17" cy="38.62" r="0.5" fill="#d8a8e4"/>
<circle cx="253.17" cy="41.58" r="0.5" fill="#d8a8e4"/>
<circle cx="254.34" cy="38.69" r="0.5" fill="#c098e0"/>
<circle cx="255.99" cy="40.99" r="0.5" fill="#c098e0"/>
<circle cx="254.65" cy="40.61" r="0.5" fill="#c098e0"/>
<circle cx="250.78" cy="40.86" r="0.5" fill="#cc78d8"/>
<circle cx="255.81" cy="39.33" r="0.5" fill="#d888d8"/>
<circle cx="258.03" cy="38.7" r="0.5" fill="#c098e0"/>
<circle cx="255.86" cy="39.94" r="0.5" fill="#d888d8"/>
<circle cx="249.72" cy="49.27" r="0.5" fill="#d8a8e4"/>
<circle cx="254.7" cy="41.02" r="0.5" fill="#c098e0"/>
<circle cx="251.33" cy="44.16" r="0.5" fill="#d8a8e4"/>
<circle cx="259.19" cy="38.21" r="0.5" fill="#d888d8"/>
<circle cx="256.33" cy="37.03" r="0.5" fill="#d888d8"/>
<circle cx="253.71" cy="39.16" r="0.5" fill="#cc78d8"/>
<circle cx="250.71" cy="38.7" r="0.5" fill="#c098e0"/>
<circle cx="251.87" cy="42.67" r="0.5" fill="#e8b0ec"/>
<circle cx="252.74" cy="42.2" r="0.5" fill="#e8b0ec"/>
<circle cx="256.8" cy="47.23" r="0.5" fill="#cc78d8"/>
<circle cx="256.95" cy="41.98" r="0.5" fill="#d888d8"/>
<circle cx="254.4" cy="39.65" r="0.5" fill="#c098e0"/>
<circle cx="253.09" cy="36.03" r="0.5" fill="#d8a8e4"/>
<circle cx="255.31" cy="41.11" r="0.5" fill="#d888d8"/>
<circle cx="257.49" cy="38.71" r="0.5" fill="#cc78d8"/>
<circle cx="251.72" cy="38.65" r="0.5" fill="#d888d8"/>
<circle cx="251.63" cy="41.06" r="0.5" fill="#d8a8e4"/>
<circle cx="256.04" cy="43.08" r="0.5" fill="#e8b0ec"/>
<circle cx="249.77" cy="42.59" r="0.5" fill="#d888d8"/>
<circle cx="248.59" cy="41.92" r="0.5" fill="#d888d8"/>
<circle cx="256.61" cy="45.55" r="0.5" fill="#d888d8"/>
<circle cx="258.59" cy="37.91" r="0.5" fill="#e8b0ec"/>
<circle cx="255.11" cy="32.57" r="0.5" fill="#d8a8e4"/>
<circle cx="255.93" cy="36.73" r="0.5" fill="#d8a8e4"/>
<circle cx="256.17" cy="40.01" r="0.5" fill="#e8b0ec"/>
<circle cx="250.52" cy="41.13" r="0.5" fill="#e8b0ec"/>
<circle cx="251.99" cy="45.05" r="0.5" fill="#e8b0ec"/>
<circle cx="253.28" cy="36.54" r="0.5" fill="#e8b0ec"/>
<circle cx="252.68" cy="41.18" r="0.5" fill="#d8a8e4"/>
<circle cx="252.76" cy="41.48" r="0.5" fill="#cc78d8"/>
<circle cx="252.11" cy="39.34" r="0.5" fill="#e8b0ec"/>
<circle cx="253.92" cy="42.04" r="0.5" fill="#d8a8e4"/>
<circle cx="255.01" cy="39.6" r="0.5" fill="#c098e0"/>
<circle cx="258.97" cy="42.88" r="0.5" fill="#e8b0ec"/>
<circle cx="249.58" cy="38.26" r="0.5" fill="#d888d8"/>
<circle cx="253.92" cy="42.64" r="0.5" fill="#cc78d8"/>
<circle cx="252.23" cy="41.53" r="0.5" fill="#e8b0ec"/>
<circle cx="255.01" cy="39.84" r="0.5" fill="#cc78d8"/>
<circle cx="252.72" cy="41.46" r="0.5" fill="#cc78d8"/>
<circle cx="256.2" cy="44.1" r="0.5" fill="#d8a8e4"/>
<circle cx="254.8" cy="37.76" r="0.5" fill="#e8b0ec"/>
<circle cx="249.87" cy="42.48" r="0.5" fill="#c098e0"/>
<circle cx="253.46" cy="43.45" r="0.5" fill="#d888d8"/>
<circle cx="255.49" cy="39.32" r="0.5" fill="#c098e0"/>
<circle cx="256.03" cy="46.09" r="0.5" fill="#c098e0"/>
<circle cx="254.51" cy="35.5" r="0.5" fill="#e8b0ec"/>
<circle cx="250.21" cy="36.95" r="0.5" fill="#c098e0"/>
<circle cx="253.49" cy="35.12" r="0.5" fill="#e8b0ec"/>
<circle cx="254.94" cy="44.74" r="0.5" fill="#e8b0ec"/>
<circle cx="252.54" cy="39.43" r="0.5" fill="#d888d8"/>
<circle cx="252.93" cy="36.88" r="0.5" fill="#d888d8"/>
<circle cx="251.7" cy="40.16" r="0.5" fill="#cc78d8"/>
<circle cx="256.73" cy="35.14" r="0.5" fill="#d8a8e4"/>
<circle cx="256.16" cy="42.27" r="0.5" fill="#d8a8e4"/>
<circle cx="250.73" cy="50.99" r="0.45" fill="#c0c0c8"/>
<circle cx="251.42" cy="52.24" r="0.45" fill="#d8c8e0"/>
<circle cx="249.48" cy="51.27" r="0.45" fill="#b8b8c8"/>
<circle cx="256.73" cy="46.03" r="0.45" fill="#b8b8c8"/>
<circle cx="261.12" cy="53.27" r="0.45" fill="#c0c0c8"/>
<circle cx="250.57" cy="51.36" r="0.45" fill="#d8c8e0"/>
<circle cx="259.13" cy="52.51" r="0.45" fill="#b8b8c8"/>
<circle cx="258.77" cy="46.46" r="0.45" fill="#c0c0c8"/>
<circle cx="261.4" cy="49.71" r="0.45" fill="#b8b8c8"/>
<circle cx="249.33" cy="52.03" r="0.45" fill="#c0c0c8"/>
<circle cx="249.27" cy="53.26" r="0.45" fill="#c0c0c8"/>
<circle cx="257.05" cy="47.26" r="0.45" fill="#d8c8e0"/>
<circle cx="252.26" cy="52.13" r="0.45" fill="#c0c0c8"/>
<circle cx="249.25" cy="52.95" r="0.45" fill="#b8b8c8"/>
<circle cx="251.54" cy="46.13" r="0.45" fill="#b8b8c8"/>
<circle cx="257.28" cy="49.48" r="0.45" fill="#c0c0c8"/>
<circle cx="258.13" cy="46.77" r="0.45" fill="#c0c0c8"/>
<circle cx="258.32" cy="46.34" r="0.45" fill="#c0c0c8"/>
<circle cx="255.04" cy="50.39" r="0.45" fill="#d8c8e0"/>
<circle cx="250.43" cy="46.91" r="0.45" fill="#c0c0c8"/>
<circle cx="256.04" cy="47.71" r="0.45" fill="#c0c0c8"/>
<circle cx="250.91" cy="50.3" r="0.45" fill="#b8b8c8"/>
<circle cx="254.16" cy="53.11" r="0.45" fill="#c0c0c8"/>
<circle cx="261.19" cy="48.92" r="0.45" fill="#d8c8e0"/>
<circle cx="256.76" cy="50.52" r="0.45" fill="#c0c0c8"/>
</g>
<g filter="url(#bl1)">
<ellipse cx="262.3" cy="30.6" rx="4.6" ry="3.2" transform="rotate(-25 262.3 30.6)" fill="#3a4cc0" fill-opacity="0.85"/>
<ellipse cx="259" cy="37.5" rx="1.6" ry="4" transform="rotate(15 259 37.5)" fill="#5060c8" fill-opacity="0.8"/>
<ellipse cx="262.6" cy="30.2" rx="2.8" ry="2.0" transform="rotate(-25 262.6 30.2)" fill="#1c2a90" fill-opacity="0.8"/>
</g>
<g filter="url(#bl2)">
<circle cx="256.22" cy="35.86" r="0.5" fill="#3444b8"/>
<circle cx="260.4" cy="33.39" r="0.5" fill="#3444b8"/>
<circle cx="260.34" cy="25.86" r="0.5" fill="#8090e8"/>
<circle cx="263.57" cy="25.26" r="0.5" fill="#6070d8"/>
<circle cx="262.03" cy="30.69" r="0.5" fill="#8090e8"/>
<circle cx="264.06" cy="35.11" r="0.5" fill="#3444b8"/>
<circle cx="261.51" cy="34.64" r="0.5" fill="#2a38a8"/>
<circle cx="259.23" cy="34.28" r="0.5" fill="#2a38a8"/>
<circle cx="260.66" cy="33.29" r="0.5" fill="#2a38a8"/>
<circle cx="261.95" cy="34.6" r="0.5" fill="#6070d8"/>
<circle cx="262.59" cy="24.55" r="0.5" fill="#2a38a8"/>
<circle cx="263.62" cy="25.7" r="0.5" fill="#2a38a8"/>
<circle cx="265.42" cy="32.42" r="0.5" fill="#3444b8"/>
<circle cx="264.9" cy="29.43" r="0.5" fill="#8090e8"/>
<circle cx="261.76" cy="30.74" r="0.5" fill="#2a38a8"/>
<circle cx="261.49" cy="35.14" r="0.5" fill="#6070d8"/>
<circle cx="261.57" cy="32.35" r="0.5" fill="#2a38a8"/>
<circle cx="260.12" cy="35.57" r="0.5" fill="#2a38a8"/>
<circle cx="268.08" cy="34.31" r="0.5" fill="#8090e8"/>
<circle cx="262.46" cy="30.77" r="0.5" fill="#8090e8"/>
<circle cx="259.95" cy="31.14" r="0.5" fill="#2a38a8"/>
<circle cx="255.69" cy="31.04" r="0.5" fill="#6070d8"/>
<circle cx="259.52" cy="30.38" r="0.5" fill="#2a38a8"/>
<circle cx="261.36" cy="29.04" r="0.5" fill="#6070d8"/>
<circle cx="258.7" cy="29.02" r="0.5" fill="#6070d8"/>
<circle cx="262.83" cy="36" r="0.5" fill="#6070d8"/>
<circle cx="263.35" cy="29.9" r="0.5" fill="#6070d8"/>
<circle cx="259.13" cy="32" r="0.5" fill="#4050c8"/>
<circle cx="260.59" cy="33.18" r="0.5" fill="#8090e8"/>
<circle cx="258.74" cy="34.17" r="0.5" fill="#2a38a8"/>
<circle cx="262.98" cy="30.68" r="0.5" fill="#4050c8"/>
<circle cx="260.39" cy="33.88" r="0.5" fill="#3444b8"/>
<circle cx="259.7" cy="40.17" r="0.5" fill="#3444b8"/>
<circle cx="262.05" cy="31.72" r="0.5" fill="#8090e8"/>
<circle cx="266.68" cy="33.98" r="0.5" fill="#6070d8"/>
<circle cx="259.65" cy="28.47" r="0.5" fill="#6070d8"/>
<circle cx="258.61" cy="35.54" r="0.5" fill="#8090e8"/>
<circle cx="262.6" cy="39" r="0.5" fill="#4050c8"/>
<circle cx="257.9" cy="33.73" r="0.5" fill="#4050c8"/>
<circle cx="259.75" cy="27.8" r="0.5" fill="#3444b8"/>
<circle cx="262.96" cy="28.23" r="0.5" fill="#6070d8"/>
<circle cx="261.04" cy="35.71" r="0.5" fill="#4050c8"/>
<circle cx="260.38" cy="32.23" r="0.5" fill="#6070d8"/>
<circle cx="261.87" cy="27.54" r="0.5" fill="#6070d8"/>
<circle cx="254.45" cy="37.17" r="0.5" fill="#4050c8"/>
<circle cx="257.24" cy="34.09" r="0.5" fill="#8090e8"/>
<circle cx="259.36" cy="29.67" r="0.5" fill="#6070d8"/>
<circle cx="260.69" cy="29.19" r="0.5" fill="#3444b8"/>
<circle cx="260.76" cy="34.38" r="0.5" fill="#8090e8"/>
<circle cx="258.16" cy="29.05" r="0.5" fill="#2a38a8"/>
<circle cx="262.76" cy="25.82" r="0.5" fill="#6070d8"/>
<circle cx="259.77" cy="33.23" r="0.5" fill="#8090e8"/>
<circle cx="260.98" cy="33.08" r="0.5" fill="#8090e8"/>
<circle cx="260.04" cy="33.02" r="0.5" fill="#3444b8"/>
<circle cx="259.09" cy="36.67" r="0.5" fill="#4050c8"/>
<circle cx="263.33" cy="30.98" r="0.5" fill="#6070d8"/>
<circle cx="266.93" cy="26.77" r="0.5" fill="#2a38a8"/>
<circle cx="264.95" cy="32.64" r="0.5" fill="#6070d8"/>
<circle cx="260.43" cy="35.04" r="0.5" fill="#3444b8"/>
<circle cx="251.78" cy="28.93" r="0.5" fill="#8090e8"/>
<circle cx="263.57" cy="27.2" r="0.5" fill="#6070d8"/>
<circle cx="259.48" cy="33.31" r="0.5" fill="#8090e8"/>
<circle cx="260.12" cy="28.55" r="0.5" fill="#2a38a8"/>
<circle cx="259.98" cy="28.22" r="0.5" fill="#2a38a8"/>
<circle cx="258.72" cy="33.4" r="0.5" fill="#8090e8"/>
<circle cx="262.96" cy="30.75" r="0.5" fill="#4050c8"/>
<circle cx="264.65" cy="30.73" r="0.5" fill="#6070d8"/>
<circle cx="262.15" cy="25.11" r="0.5" fill="#8090e8"/>
<circle cx="259.6" cy="34.57" r="0.5" fill="#2a38a8"/>
<circle cx="262.67" cy="33.81" r="0.5" fill="#2a38a8"/>
<circle cx="263.04" cy="28.31" r="0.5" fill="#2a38a8"/>
<circle cx="260.2" cy="29.42" r="0.5" fill="#3444b8"/>
<circle cx="265.15" cy="23.25" r="0.5" fill="#6070d8"/>
<circle cx="259.18" cy="28.82" r="0.5" fill="#8090e8"/>
<circle cx="263.05" cy="37.62" r="0.5" fill="#6070d8"/>
<circle cx="263.13" cy="35.36" r="0.5" fill="#8090e8"/>
<circle cx="264.35" cy="33.92" r="0.5" fill="#2a38a8"/>
<circle cx="261.35" cy="31.09" r="0.5" fill="#2a38a8"/>
<circle cx="260" cy="35.81" r="0.5" fill="#2a38a8"/>
<circle cx="263.94" cy="30" r="0.5" fill="#2a38a8"/>
<circle cx="257.94" cy="29.2" r="0.5" fill="#4050c8"/>
<circle cx="263.67" cy="36.08" r="0.5" fill="#8090e8"/>
<circle cx="261.09" cy="35.81" r="0.5" fill="#8090e8"/>
<circle cx="259.95" cy="31.35" r="0.5" fill="#4050c8"/>
<circle cx="260.29" cy="32.31" r="0.5" fill="#4050c8"/>
<circle cx="258.18" cy="31.09" r="0.5" fill="#2a38a8"/>
<circle cx="262.88" cy="32.58" r="0.5" fill="#8090e8"/>
<circle cx="258.36" cy="31.7" r="0.5" fill="#6070d8"/>
<circle cx="261.85" cy="30.49" r="0.5" fill="#2a38a8"/>
<circle cx="260.03" cy="27.88" r="0.5" fill="#4050c8"/>
<circle cx="260.94" cy="28.76" r="0.5" fill="#4050c8"/>
<circle cx="265.36" cy="32.37" r="0.5" fill="#8090e8"/>
<circle cx="263.19" cy="32.25" r="0.5" fill="#8090e8"/>
<circle cx="260.79" cy="32.16" r="0.5" fill="#6070d8"/>
<circle cx="255.34" cy="27.73" r="0.5" fill="#6070d8"/>
<circle cx="263.45" cy="32.24" r="0.5" fill="#4050c8"/>
<circle cx="267.73" cy="33.39" r="0.5" fill="#4050c8"/>
<circle cx="259.13" cy="37.4" r="0.5" fill="#6070d8"/>
<circle cx="260.24" cy="35.35" r="0.5" fill="#6070d8"/>
<circle cx="262.54" cy="31.36" r="0.5" fill="#6070d8"/>
<circle cx="259.81" cy="27.96" r="0.5" fill="#6070d8"/>
<circle cx="259.42" cy="37.2" r="0.5" fill="#6070d8"/>
<circle cx="267.08" cy="32.35" r="0.5" fill="#2a38a8"/>
<circle cx="262.72" cy="34.01" r="0.5" fill="#4050c8"/>
<circle cx="267.29" cy="31.8" r="0.5" fill="#6070d8"/>
<circle cx="260.22" cy="30.94" r="0.5" fill="#8090e8"/>
<circle cx="263.25" cy="29.54" r="0.5" fill="#2a38a8"/>
<circle cx="264.35" cy="30.74" r="0.5" fill="#3444b8"/>
<circle cx="258.89" cy="30.51" r="0.5" fill="#6070d8"/>
<circle cx="261.07" cy="33.66" r="0.5" fill="#2a38a8"/>
<circle cx="261.38" cy="32.17" r="0.5" fill="#4050c8"/>
<circle cx="261.58" cy="33.08" r="0.5" fill="#4050c8"/>
<circle cx="260.84" cy="37.15" r="0.5" fill="#4050c8"/>
<circle cx="258.54" cy="30.36" r="0.5" fill="#4050c8"/>
<circle cx="262.91" cy="33.86" r="0.5" fill="#6070d8"/>
<circle cx="256.45" cy="36.79" r="0.5" fill="#4050c8"/>
<circle cx="260.57" cy="34.76" r="0.5" fill="#4050c8"/>
<circle cx="261.94" cy="34.76" r="0.5" fill="#4050c8"/>
<circle cx="270.7" cy="27.75" r="0.5" fill="#8090e8"/>
<circle cx="264.51" cy="29.15" r="0.5" fill="#3444b8"/>
<circle cx="258.72" cy="30.84" r="0.5" fill="#8090e8"/>
<circle cx="262.82" cy="37.42" r="0.5" fill="#2a38a8"/>
<circle cx="260.96" cy="30.32" r="0.5" fill="#3444b8"/>
<circle cx="261.08" cy="26.42" r="0.5" fill="#2a38a8"/>
<circle cx="259.51" cy="28.25" r="0.5" fill="#3444b8"/>
<circle cx="265.89" cy="31.94" r="0.5" fill="#4050c8"/>
<circle cx="261.83" cy="29.35" r="0.5" fill="#4050c8"/>
<circle cx="260.8" cy="30.27" r="0.5" fill="#8090e8"/>
<circle cx="265.84" cy="28.7" r="0.5" fill="#3444b8"/>
<circle cx="263.07" cy="35.97" r="0.5" fill="#2a38a8"/>
<circle cx="261.71" cy="33.04" r="0.5" fill="#6070d8"/>
<circle cx="260.93" cy="34.49" r="0.5" fill="#6070d8"/>
<circle cx="262.41" cy="25.36" r="0.5" fill="#4050c8"/>
<circle cx="263.11" cy="30.78" r="0.5" fill="#3444b8"/>
<circle cx="259.73" cy="27.5" r="0.5" fill="#3444b8"/>
<circle cx="262.01" cy="31.09" r="0.5" fill="#6070d8"/>
<circle cx="261.55" cy="37.31" r="0.5" fill="#3444b8"/>
<circle cx="262.55" cy="30.74" r="0.5" fill="#3444b8"/>
<circle cx="266.13" cy="35.89" r="0.5" fill="#4050c8"/>
<circle cx="261.31" cy="30.66" r="0.5" fill="#2a38a8"/>
<circle cx="259.19" cy="29.49" r="0.5" fill="#3444b8"/>
<circle cx="264.05" cy="35.58" r="0.5" fill="#8090e8"/>
<circle cx="260.01" cy="35.47" r="0.5" fill="#4050c8"/>
<circle cx="259.65" cy="30.65" r="0.5" fill="#6070d8"/>
<circle cx="261.05" cy="29.25" r="0.5" fill="#6070d8"/>
<circle cx="259.74" cy="28.06" r="0.5" fill="#2a38a8"/>
<circle cx="265.13" cy="34.79" r="0.5" fill="#3444b8"/>
<circle cx="266.14" cy="27.94" r="0.5" fill="#8090e8"/>
<circle cx="260.82" cy="30.92" r="0.5" fill="#4050c8"/>
<circle cx="261.18" cy="30.75" r="0.5" fill="#3444b8"/>
<circle cx="263.04" cy="37.95" r="0.5" fill="#2a38a8"/>
<circle cx="257.49" cy="33.96" r="0.5" fill="#8090e8"/>
<circle cx="262.58" cy="29.35" r="0.5" fill="#2a38a8"/>
<circle cx="257.51" cy="37.46" r="0.5" fill="#6070d8"/>
<circle cx="265.39" cy="29.55" r="0.5" fill="#6070d8"/>
<circle cx="257.3" cy="31.25" r="0.5" fill="#4050c8"/>
<circle cx="258.48" cy="33.06" r="0.5" fill="#4050c8"/>
<circle cx="259.69" cy="31.63" r="0.5" fill="#8090e8"/>
<circle cx="261.25" cy="35.26" r="0.5" fill="#4050c8"/>
<circle cx="259.46" cy="30.88" r="0.5" fill="#2a38a8"/>
<circle cx="262.77" cy="33.91" r="0.5" fill="#2a38a8"/>
<circle cx="262.23" cy="33.97" r="0.5" fill="#4050c8"/>
<circle cx="260.24" cy="28.31" r="0.5" fill="#6070d8"/>
<circle cx="261.66" cy="33.73" r="0.5" fill="#8090e8"/>
<circle cx="260.96" cy="30" r="0.5" fill="#3444b8"/>
<circle cx="261.02" cy="29.98" r="0.5" fill="#4050c8"/>
<circle cx="259.73" cy="30.34" r="0.5" fill="#2a38a8"/>
<circle cx="256.98" cy="29.99" r="0.5" fill="#4050c8"/>
<circle cx="260.78" cy="29.94" r="0.5" fill="#6070d8"/>
<circle cx="263.02" cy="28.91" r="0.5" fill="#4050c8"/>
<circle cx="263.24" cy="33.13" r="0.5" fill="#3444b8"/>
<circle cx="260.67" cy="31.58" r="0.5" fill="#3444b8"/>
<circle cx="261.05" cy="32.87" r="0.5" fill="#3444b8"/>
<circle cx="260.2" cy="31.97" r="0.5" fill="#3444b8"/>
<circle cx="258.08" cy="32.82" r="0.5" fill="#3444b8"/>
<circle cx="262.03" cy="32.51" r="0.5" fill="#2a38a8"/>
<circle cx="253.83" cy="33.15" r="0.5" fill="#6070d8"/>
<circle cx="265.34" cy="33.9" r="0.5" fill="#8090e8"/>
<circle cx="261.14" cy="35.8" r="0.5" fill="#6070d8"/>
<circle cx="256.61" cy="31.88" r="0.5" fill="#3444b8"/>
<circle cx="267.78" cy="31.85" r="0.5" fill="#3444b8"/>
<circle cx="256.95" cy="26.45" r="0.5" fill="#3444b8"/>
<circle cx="260.85" cy="30.51" r="0.5" fill="#2a38a8"/>
<circle cx="264.27" cy="31.98" r="0.5" fill="#4050c8"/>
<circle cx="260.99" cy="33.34" r="0.5" fill="#8090e8"/>
<circle cx="265.12" cy="25.85" r="0.5" fill="#4050c8"/>
<circle cx="265.07" cy="34.36" r="0.5" fill="#3444b8"/>
<circle cx="261.38" cy="28.83" r="0.5" fill="#4050c8"/>
<circle cx="259.92" cy="29.25" r="0.5" fill="#4050c8"/>
<circle cx="259.1" cy="34.29" r="0.5" fill="#3444b8"/>
<circle cx="262.62" cy="29.55" r="0.5" fill="#2a38a8"/>
<circle cx="265" cy="32.49" r="0.5" fill="#6070d8"/>
<circle cx="267.08" cy="27.45" r="0.5" fill="#6070d8"/>
<circle cx="257.48" cy="33.76" r="0.5" fill="#3444b8"/>
<circle cx="258.36" cy="28.97" r="0.5" fill="#4050c8"/>
<circle cx="260.86" cy="29.84" r="0.5" fill="#6070d8"/>
<circle cx="259.65" cy="29.2" r="0.5" fill="#2a38a8"/>
<circle cx="263.39" cy="28.74" r="0.5" fill="#4050c8"/>
<circle cx="261.46" cy="31.28" r="0.5" fill="#8090e8"/>
<circle cx="264.53" cy="27.34" r="0.5" fill="#6070d8"/>
</g>
<rect x="244" y="15.6" width="45.4" height="38.4" fill="none" stroke="#8a8a8a" stroke-width="0.7"/>
<line x1="244" y1="33.5" x2="258.2" y2="33.5" stroke="#8a8a8a" stroke-width="1"/>
<line x1="258.5" y1="33.3" x2="258.5" y2="54" stroke="#a0a0a0" stroke-width="1"/>
<line x1="258.2" y1="37.5" x2="302" y2="37.5" stroke="#707070" stroke-width="1"/>
<polygon points="306,37 301.5,35.7 301.5,38.3" fill="#000"/>
<text x="290.3" y="36.8" font-family="'Liberation Serif', serif" font-size="5.3" font-weight="bold" text-anchor="start" fill="#000" stroke="#000" stroke-width="0.22">LSKFC</text>
<text x="238.2" y="35.6" font-family="'Liberation Serif', serif" font-size="5.6" font-weight="bold" text-anchor="middle" fill="#000" transform="rotate(-90 238.2 35.6)" stroke="#000" stroke-width="0.22">FLK2</text>
<line x1="242.8" y1="20" x2="244" y2="20" stroke="#777" stroke-width="0.4"/>
<text x="241.8" y="21" font-family="'Liberation Serif', serif" font-size="2.8" font-weight="bold" text-anchor="end" fill="#555" transform="rotate(-90 241.8 21)">10</text>
<line x1="242.8" y1="29" x2="244" y2="29" stroke="#777" stroke-width="0.4"/>
<text x="241.8" y="30" font-family="'Liberation Serif', serif" font-size="2.8" font-weight="bold" text-anchor="end" fill="#555" transform="rotate(-90 241.8 30)">10</text>
<line x1="242.8" y1="38" x2="244" y2="38" stroke="#777" stroke-width="0.4"/>
<text x="241.8" y="39" font-family="'Liberation Serif', serif" font-size="2.8" font-weight="bold" text-anchor="end" fill="#555" transform="rotate(-90 241.8 39)">10</text>
<line x1="242.8" y1="47" x2="244" y2="47" stroke="#777" stroke-width="0.4"/>
<text x="241.8" y="48" font-family="'Liberation Serif', serif" font-size="2.8" font-weight="bold" text-anchor="end" fill="#555" transform="rotate(-90 241.8 48)">10</text>
<line x1="247" y1="54" x2="247" y2="55.2" stroke="#777" stroke-width="0.4"/>
<text x="247" y="58.2" font-family="'Liberation Serif', serif" font-size="2.8" font-weight="bold" text-anchor="middle" fill="#555">10</text>
<line x1="256" y1="54" x2="256" y2="55.2" stroke="#777" stroke-width="0.4"/>
<text x="256" y="58.2" font-family="'Liberation Serif', serif" font-size="2.8" font-weight="bold" text-anchor="middle" fill="#555">10</text>
<line x1="266" y1="54" x2="266" y2="55.2" stroke="#777" stroke-width="0.4"/>
<text x="266" y="58.2" font-family="'Liberation Serif', serif" font-size="2.8" font-weight="bold" text-anchor="middle" fill="#555">10</text>
<line x1="277" y1="54" x2="277" y2="55.2" stroke="#777" stroke-width="0.4"/>
<text x="277" y="58.2" font-family="'Liberation Serif', serif" font-size="2.8" font-weight="bold" text-anchor="middle" fill="#555">10</text>
<line x1="287" y1="54" x2="287" y2="55.2" stroke="#777" stroke-width="0.4"/>
<text x="287" y="58.2" font-family="'Liberation Serif', serif" font-size="2.8" font-weight="bold" text-anchor="middle" fill="#555">10</text>
<text x="267.5" y="64.2" font-family="'Liberation Serif', serif" font-size="5.8" font-weight="bold" text-anchor="middle" fill="#000" stroke="#000" stroke-width="0.22">CD34</text>
<line x1="277.5" y1="83" x2="277.5" y2="66" stroke="#333" stroke-width="1"/>
<polygon points="277,61.8 275.8,66.5 278.2,66.5" fill="#000"/>
<rect x="244" y="72.3" width="46.6" height="41.9" fill="none" stroke="#8a8a8a" stroke-width="0.7"/>
<rect x="244.3" y="97.5" width="45.5" height="16.5" fill="url(#gg)"/>
<g filter="url(#bl2)">
<circle cx="251.16" cy="99.58" r="0.55" fill="#78e040"/>
<circle cx="267.13" cy="104.82" r="0.55" fill="#8ae850"/>
<circle cx="247.7" cy="98.63" r="0.55" fill="#a0f070"/>
<circle cx="283.87" cy="100.97" r="0.55" fill="#8ae850"/>
<circle cx="245.18" cy="110.56" r="0.55" fill="#8ae850"/>
<circle cx="269.4" cy="105.53" r="0.55" fill="#8ae850"/>
<circle cx="267.22" cy="104.93" r="0.55" fill="#a0f070"/>
<circle cx="286.9" cy="112.93" r="0.55" fill="#78e040"/>
<circle cx="279.88" cy="99.4" r="0.55" fill="#8ae850"/>
<circle cx="271.19" cy="102.96" r="0.55" fill="#b8f490"/>
<circle cx="285.97" cy="105.71" r="0.55" fill="#a0f070"/>
<circle cx="257.87" cy="103.65" r="0.55" fill="#78e040"/>
<circle cx="281.47" cy="101.84" r="0.55" fill="#b8f490"/>
<circle cx="274.73" cy="100.7" r="0.55" fill="#8ae850"/>
<circle cx="268.86" cy="112.65" r="0.55" fill="#8ae850"/>
<circle cx="267.79" cy="106.97" r="0.55" fill="#b8f490"/>
<circle cx="256.23" cy="101.91" r="0.55" fill="#a0f070"/>
<circle cx="268.57" cy="100.18" r="0.55" fill="#8ae850"/>
<circle cx="272.94" cy="101.31" r="0.55" fill="#8ae850"/>
<circle cx="275.49" cy="101.9" r="0.55" fill="#b8f490"/>
<circle cx="254.74" cy="107.09" r="0.55" fill="#78e040"/>
<circle cx="276.63" cy="112.14" r="0.55" fill="#78e040"/>
<circle cx="281.62" cy="108.69" r="0.55" fill="#b8f490"/>
<circle cx="250.77" cy="106.05" r="0.55" fill="#78e040"/>
<circle cx="271.94" cy="112.91" r="0.55" fill="#78e040"/>
<circle cx="264.78" cy="108.79" r="0.55" fill="#a0f070"/>
<circle cx="286.62" cy="101.37" r="0.55" fill="#b8f490"/>
<circle cx="278.32" cy="100.55" r="0.55" fill="#78e040"/>
<circle cx="262.39" cy="99.21" r="0.55" fill="#78e040"/>
<circle cx="245.65" cy="107.41" r="0.55" fill="#a0f070"/>
<circle cx="264.77" cy="100.31" r="0.55" fill="#a0f070"/>
<circle cx="263.32" cy="111.83" r="0.55" fill="#a0f070"/>
<circle cx="269.21" cy="112.26" r="0.55" fill="#8ae850"/>
<circle cx="252.22" cy="109.68" r="0.55" fill="#8ae850"/>
<circle cx="279.58" cy="109.54" r="0.55" fill="#78e040"/>
<circle cx="280.5" cy="100.34" r="0.55" fill="#8ae850"/>
<circle cx="267.07" cy="106.37" r="0.55" fill="#8ae850"/>
<circle cx="276.04" cy="99.15" r="0.55" fill="#8ae850"/>
<circle cx="249.28" cy="106.73" r="0.55" fill="#78e040"/>
<circle cx="246.47" cy="112.15" r="0.55" fill="#a0f070"/>
<circle cx="255.95" cy="101.4" r="0.55" fill="#b8f490"/>
<circle cx="245.92" cy="113.33" r="0.55" fill="#b8f490"/>
<circle cx="249.88" cy="98.81" r="0.55" fill="#78e040"/>
<circle cx="248.17" cy="102.38" r="0.55" fill="#a0f070"/>
<circle cx="268.83" cy="102.85" r="0.55" fill="#b8f490"/>
<circle cx="280.96" cy="107.32" r="0.55" fill="#8ae850"/>
<circle cx="268.15" cy="108.84" r="0.55" fill="#8ae850"/>
<circle cx="285.8" cy="98.71" r="0.55" fill="#8ae850"/>
<circle cx="287.76" cy="105.81" r="0.55" fill="#b8f490"/>
<circle cx="282.54" cy="110.51" r="0.55" fill="#78e040"/>
<circle cx="248.21" cy="107.81" r="0.55" fill="#b8f490"/>
<circle cx="281.25" cy="113.01" r="0.55" fill="#b8f490"/>
<circle cx="261.92" cy="111.6" r="0.55" fill="#78e040"/>
<circle cx="260.52" cy="106.42" r="0.55" fill="#8ae850"/>
<circle cx="283.44" cy="107.34" r="0.55" fill="#78e040"/>
<circle cx="254.09" cy="110.79" r="0.55" fill="#b8f490"/>
<circle cx="259.25" cy="105.53" r="0.55" fill="#8ae850"/>
<circle cx="258.52" cy="103.53" r="0.55" fill="#b8f490"/>
<circle cx="259.35" cy="98.81" r="0.55" fill="#b8f490"/>
<circle cx="282.68" cy="107.63" r="0.55" fill="#a0f070"/>
<circle cx="276.26" cy="100.65" r="0.55" fill="#b8f490"/>
<circle cx="256.75" cy="106" r="0.55" fill="#8ae850"/>
<circle cx="260.34" cy="107.1" r="0.55" fill="#a0f070"/>
<circle cx="287.66" cy="99.01" r="0.55" fill="#78e040"/>
<circle cx="282.51" cy="110.11" r="0.55" fill="#78e040"/>
<circle cx="260.61" cy="102.72" r="0.55" fill="#a0f070"/>
<circle cx="282.53" cy="112.58" r="0.55" fill="#78e040"/>
<circle cx="258.07" cy="109.95" r="0.55" fill="#8ae850"/>
<circle cx="266.88" cy="108.03" r="0.55" fill="#8ae850"/>
<circle cx="282.53" cy="109.24" r="0.55" fill="#8ae850"/>
<circle cx="247.6" cy="103.56" r="0.55" fill="#8ae850"/>
<circle cx="283" cy="110.24" r="0.55" fill="#8ae850"/>
<circle cx="283.45" cy="110.64" r="0.55" fill="#8ae850"/>
<circle cx="251.48" cy="101.58" r="0.55" fill="#b8f490"/>
<circle cx="262.41" cy="104.44" r="0.55" fill="#8ae850"/>
<circle cx="284.97" cy="107.3" r="0.55" fill="#a0f070"/>
<circle cx="257.96" cy="103.13" r="0.55" fill="#8ae850"/>
<circle cx="248.16" cy="101.35" r="0.55" fill="#78e040"/>
<circle cx="270.15" cy="103.06" r="0.55" fill="#8ae850"/>
<circle cx="287.46" cy="103.85" r="0.55" fill="#b8f490"/>
<circle cx="276.01" cy="112.33" r="0.55" fill="#b8f490"/>
<circle cx="258.73" cy="101.13" r="0.55" fill="#8ae850"/>
<circle cx="268.5" cy="109.88" r="0.55" fill="#8ae850"/>
<circle cx="255.19" cy="98.8" r="0.55" fill="#78e040"/>
<circle cx="262.18" cy="101.51" r="0.55" fill="#8ae850"/>
<circle cx="282.16" cy="108.22" r="0.55" fill="#a0f070"/>
<circle cx="255.39" cy="99.35" r="0.55" fill="#a0f070"/>
<circle cx="270.84" cy="99.69" r="0.55" fill="#8ae850"/>
<circle cx="275.92" cy="98.58" r="0.55" fill="#8ae850"/>
<circle cx="268.09" cy="111.63" r="0.55" fill="#8ae850"/>
<circle cx="284.68" cy="101.68" r="0.55" fill="#8ae850"/>
<circle cx="282.31" cy="98.91" r="0.55" fill="#b8f490"/>
<circle cx="262.43" cy="108.68" r="0.55" fill="#8ae850"/>
<circle cx="252.5" cy="111.45" r="0.55" fill="#78e040"/>
<circle cx="248.75" cy="107.69" r="0.55" fill="#b8f490"/>
<circle cx="287.48" cy="104.49" r="0.55" fill="#b8f490"/>
<circle cx="282.55" cy="98.89" r="0.55" fill="#8ae850"/>
<circle cx="269.26" cy="113.31" r="0.55" fill="#78e040"/>
<circle cx="262.85" cy="109.15" r="0.55" fill="#8ae850"/>
<circle cx="251.74" cy="98.78" r="0.55" fill="#a0f070"/>
<circle cx="251.13" cy="110.01" r="0.55" fill="#78e040"/>
<circle cx="260.39" cy="103.93" r="0.55" fill="#8ae850"/>
<circle cx="268.16" cy="107.33" r="0.55" fill="#a0f070"/>
<circle cx="273.27" cy="107.52" r="0.55" fill="#8ae850"/>
<circle cx="254.89" cy="107.78" r="0.55" fill="#b8f490"/>
<circle cx="277.82" cy="110.14" r="0.55" fill="#8ae850"/>
<circle cx="273.02" cy="106.74" r="0.55" fill="#b8f490"/>
<circle cx="269.05" cy="103.92" r="0.55" fill="#8ae850"/>
<circle cx="250.67" cy="98.64" r="0.55" fill="#b8f490"/>
<circle cx="249.29" cy="110.64" r="0.55" fill="#8ae850"/>
<circle cx="251.48" cy="107.93" r="0.55" fill="#b8f490"/>
<circle cx="277.53" cy="99.85" r="0.55" fill="#78e040"/>
<circle cx="271.86" cy="100.33" r="0.55" fill="#a0f070"/>
<circle cx="268.88" cy="101.23" r="0.55" fill="#8ae850"/>
<circle cx="276.72" cy="112.04" r="0.55" fill="#a0f070"/>
<circle cx="267.73" cy="103.76" r="0.55" fill="#a0f070"/>
<circle cx="263.99" cy="111.4" r="0.55" fill="#a0f070"/>
<circle cx="272.35" cy="103.66" r="0.55" fill="#b8f490"/>
<circle cx="264.78" cy="103.36" r="0.55" fill="#78e040"/>
<circle cx="249.64" cy="109.5" r="0.55" fill="#78e040"/>
<circle cx="279.69" cy="112.2" r="0.55" fill="#8ae850"/>
<circle cx="247.58" cy="106.96" r="0.55" fill="#b8f490"/>
<circle cx="284" cy="104.13" r="0.55" fill="#a0f070"/>
<circle cx="246.32" cy="98.81" r="0.55" fill="#b8f490"/>
<circle cx="255.4" cy="103.81" r="0.55" fill="#8ae850"/>
<circle cx="277.64" cy="108.14" r="0.55" fill="#8ae850"/>
<circle cx="282.82" cy="105.98" r="0.55" fill="#a0f070"/>
<circle cx="265.53" cy="112.51" r="0.55" fill="#8ae850"/>
<circle cx="286.03" cy="100.55" r="0.55" fill="#8ae850"/>
<circle cx="257.15" cy="103.47" r="0.55" fill="#b8f490"/>
<circle cx="282.5" cy="102.25" r="0.55" fill="#8ae850"/>
<circle cx="274.36" cy="107.46" r="0.55" fill="#b8f490"/>
<circle cx="254.12" cy="99.28" r="0.55" fill="#a0f070"/>
<circle cx="281.61" cy="109.53" r="0.55" fill="#78e040"/>
<circle cx="278.53" cy="111.45" r="0.55" fill="#a0f070"/>
<circle cx="263.7" cy="100.6" r="0.55" fill="#8ae850"/>
<circle cx="274.46" cy="110.58" r="0.55" fill="#a0f070"/>
<circle cx="286.9" cy="98.64" r="0.55" fill="#8ae850"/>
<circle cx="251.48" cy="109.54" r="0.55" fill="#78e040"/>
<circle cx="277.31" cy="105.47" r="0.55" fill="#b8f490"/>
</g>
<g filter="url(#bl1)">
<rect x="247.2" y="85.8" width="9.3" height="10" fill="url(#lb)"/>
<rect x="265.8" y="86.6" width="17.2" height="8.4" fill="url(#pp)"/>
<rect x="257" y="82.8" width="7.5" height="3.7" fill="#f8b090"/>
</g>
<g filter="url(#bl2)">
<circle cx="246.99" cy="87.69" r="0.55" fill="#7aa0f0"/>
<circle cx="255.7" cy="95.72" r="0.55" fill="#4070e0"/>
<circle cx="252.44" cy="91.9" r="0.55" fill="#4070e0"/>
<circle cx="246.42" cy="94.28" r="0.55" fill="#3a62d0"/>
<circle cx="252.55" cy="87.21" r="0.55" fill="#4070e0"/>
<circle cx="246.53" cy="88.98" r="0.55" fill="#3060d0"/>
<circle cx="246.71" cy="95.82" r="0.55" fill="#5a88f0"/>
<circle cx="251.78" cy="94.97" r="0.55" fill="#4070e0"/>
<circle cx="247.97" cy="90.22" r="0.55" fill="#3a62d0"/>
<circle cx="251.51" cy="89.45" r="0.55" fill="#4070e0"/>
<circle cx="251.83" cy="94.28" r="0.55" fill="#4070e0"/>
<circle cx="249.84" cy="85.28" r="0.55" fill="#5a88f0"/>
<circle cx="255.38" cy="92.62" r="0.55" fill="#4070e0"/>
<circle cx="249" cy="90.48" r="0.55" fill="#5a88f0"/>
<circle cx="246.17" cy="89.99" r="0.55" fill="#5a88f0"/>
<circle cx="250.49" cy="88.49" r="0.55" fill="#4070e0"/>
<circle cx="249.58" cy="89.94" r="0.55" fill="#4070e0"/>
<circle cx="253.18" cy="87.64" r="0.55" fill="#7aa0f0"/>
<circle cx="256.81" cy="89.91" r="0.55" fill="#3060d0"/>
<circle cx="250.39" cy="89.67" r="0.55" fill="#5a88f0"/>
<circle cx="250.26" cy="93.26" r="0.55" fill="#7aa0f0"/>
<circle cx="255.7" cy="92.64" r="0.55" fill="#4070e0"/>
<circle cx="248.63" cy="85.56" r="0.55" fill="#3a62d0"/>
<circle cx="256.19" cy="90.7" r="0.55" fill="#7aa0f0"/>
<circle cx="256.9" cy="94.37" r="0.55" fill="#5a88f0"/>
<circle cx="253.3" cy="93.9" r="0.55" fill="#4070e0"/>
<circle cx="255.99" cy="92.68" r="0.55" fill="#4070e0"/>
<circle cx="250.46" cy="87.11" r="0.55" fill="#7aa0f0"/>
<circle cx="252.04" cy="89.38" r="0.55" fill="#3060d0"/>
<circle cx="251.01" cy="88.2" r="0.55" fill="#7aa0f0"/>
<circle cx="251.61" cy="89.42" r="0.55" fill="#3a62d0"/>
<circle cx="252.01" cy="87.26" r="0.55" fill="#7aa0f0"/>
<circle cx="249.91" cy="94.13" r="0.55" fill="#4070e0"/>
<circle cx="250.33" cy="87.27" r="0.55" fill="#3060d0"/>
<circle cx="246.79" cy="90.21" r="0.55" fill="#3a62d0"/>
<circle cx="253.31" cy="94.73" r="0.55" fill="#3060d0"/>
<circle cx="256" cy="88.76" r="0.55" fill="#7aa0f0"/>
<circle cx="255.43" cy="88.8" r="0.55" fill="#3a62d0"/>
<circle cx="248.43" cy="93.64" r="0.55" fill="#5a88f0"/>
<circle cx="246.72" cy="90.91" r="0.55" fill="#5a88f0"/>
<circle cx="251.8" cy="88.33" r="0.55" fill="#3060d0"/>
<circle cx="248.63" cy="93.06" r="0.55" fill="#7aa0f0"/>
<circle cx="247.95" cy="95.07" r="0.55" fill="#4070e0"/>
<circle cx="249.54" cy="87.45" r="0.55" fill="#7aa0f0"/>
<circle cx="247.35" cy="94.76" r="0.55" fill="#5a88f0"/>
<circle cx="253.73" cy="89.05" r="0.55" fill="#3a62d0"/>
<circle cx="251.73" cy="92.55" r="0.55" fill="#7aa0f0"/>
<circle cx="253.28" cy="90.46" r="0.55" fill="#7aa0f0"/>
<circle cx="253.65" cy="92.93" r="0.55" fill="#7aa0f0"/>
<circle cx="252.98" cy="90.61" r="0.55" fill="#3a62d0"/>
<circle cx="247.65" cy="89.2" r="0.55" fill="#5a88f0"/>
<circle cx="250.04" cy="88.9" r="0.55" fill="#3060d0"/>
<circle cx="251.76" cy="90.55" r="0.55" fill="#7aa0f0"/>
<circle cx="248.78" cy="90.7" r="0.55" fill="#3060d0"/>
<circle cx="246.64" cy="90.76" r="0.55" fill="#5a88f0"/>
<circle cx="249.37" cy="85.23" r="0.55" fill="#3060d0"/>
<circle cx="248.66" cy="89.19" r="0.55" fill="#7aa0f0"/>
<circle cx="247" cy="87.43" r="0.55" fill="#5a88f0"/>
<circle cx="247.41" cy="86.92" r="0.55" fill="#3060d0"/>
<circle cx="252.8" cy="90.26" r="0.55" fill="#7aa0f0"/>
<circle cx="250.13" cy="91.36" r="0.55" fill="#4070e0"/>
<circle cx="253.84" cy="90.05" r="0.55" fill="#3a62d0"/>
<circle cx="254.92" cy="93.36" r="0.55" fill="#3060d0"/>
<circle cx="248.62" cy="91.6" r="0.55" fill="#3a62d0"/>
<circle cx="248.11" cy="89.69" r="0.55" fill="#3a62d0"/>
<circle cx="250.1" cy="89.62" r="0.55" fill="#4070e0"/>
<circle cx="246.88" cy="88.79" r="0.55" fill="#7aa0f0"/>
<circle cx="250.17" cy="87.79" r="0.55" fill="#4070e0"/>
<circle cx="247.19" cy="90.31" r="0.55" fill="#3a62d0"/>
<circle cx="251.09" cy="85.97" r="0.55" fill="#7aa0f0"/>
<circle cx="256.94" cy="91.97" r="0.55" fill="#5a88f0"/>
<circle cx="255.79" cy="87.99" r="0.55" fill="#3a62d0"/>
<circle cx="254.28" cy="91.92" r="0.55" fill="#4070e0"/>
<circle cx="253.37" cy="90.64" r="0.55" fill="#4070e0"/>
<circle cx="256.18" cy="88.17" r="0.55" fill="#3060d0"/>
<circle cx="252.09" cy="91.34" r="0.55" fill="#4070e0"/>
<circle cx="246.99" cy="86.38" r="0.55" fill="#4070e0"/>
<circle cx="252.28" cy="93.83" r="0.55" fill="#5a88f0"/>
<circle cx="252.21" cy="91.1" r="0.55" fill="#4070e0"/>
<circle cx="255.06" cy="91.53" r="0.55" fill="#4070e0"/>
<circle cx="252.05" cy="93.04" r="0.55" fill="#7aa0f0"/>
<circle cx="255.28" cy="92.49" r="0.55" fill="#4070e0"/>
<circle cx="255.59" cy="92.85" r="0.55" fill="#5a88f0"/>
<circle cx="249.53" cy="93.51" r="0.55" fill="#5a88f0"/>
<circle cx="249.02" cy="90.63" r="0.55" fill="#3060d0"/>
<circle cx="253.3" cy="93.05" r="0.55" fill="#3060d0"/>
<circle cx="252.11" cy="88.09" r="0.55" fill="#4070e0"/>
<circle cx="249.38" cy="90.61" r="0.55" fill="#5a88f0"/>
<circle cx="255.53" cy="92.44" r="0.55" fill="#3060d0"/>
<circle cx="249.35" cy="85.95" r="0.55" fill="#5a88f0"/>
<circle cx="246.57" cy="88.35" r="0.55" fill="#7aa0f0"/>
<circle cx="253.22" cy="90.22" r="0.55" fill="#3a62d0"/>
<circle cx="247.55" cy="92.95" r="0.55" fill="#7aa0f0"/>
<circle cx="256.11" cy="89.79" r="0.55" fill="#3a62d0"/>
<circle cx="253.3" cy="90.76" r="0.55" fill="#4070e0"/>
<circle cx="250.5" cy="90.46" r="0.55" fill="#3a62d0"/>
<circle cx="255.06" cy="92.59" r="0.55" fill="#7aa0f0"/>
<circle cx="249.21" cy="91.2" r="0.55" fill="#5a88f0"/>
<circle cx="254.83" cy="88.4" r="0.55" fill="#7aa0f0"/>
<circle cx="248.24" cy="89.23" r="0.55" fill="#5a88f0"/>
<circle cx="246.63" cy="87.4" r="0.55" fill="#4070e0"/>
<circle cx="247.51" cy="92.3" r="0.55" fill="#4070e0"/>
<circle cx="254.96" cy="90.36" r="0.55" fill="#3a62d0"/>
<circle cx="254.11" cy="90.81" r="0.55" fill="#5a88f0"/>
<circle cx="251.48" cy="89.01" r="0.55" fill="#3060d0"/>
<circle cx="254.82" cy="87.34" r="0.55" fill="#3a62d0"/>
<circle cx="255.22" cy="94.34" r="0.55" fill="#5a88f0"/>
<circle cx="251.68" cy="95.41" r="0.55" fill="#7aa0f0"/>
<circle cx="247.05" cy="92.16" r="0.55" fill="#7aa0f0"/>
<circle cx="248.46" cy="84.56" r="0.55" fill="#3060d0"/>
<circle cx="253.77" cy="88.24" r="0.55" fill="#4070e0"/>
<circle cx="256.16" cy="91.77" r="0.55" fill="#5a88f0"/>
<circle cx="246.46" cy="91.92" r="0.55" fill="#5a88f0"/>
<circle cx="255.62" cy="88.94" r="0.55" fill="#3060d0"/>
<circle cx="253.78" cy="90.37" r="0.55" fill="#3060d0"/>
<circle cx="249.57" cy="88.6" r="0.55" fill="#5a88f0"/>
<circle cx="247.67" cy="93.02" r="0.55" fill="#7aa0f0"/>
<circle cx="249.6" cy="92" r="0.55" fill="#3a62d0"/>
<circle cx="253.64" cy="92.59" r="0.55" fill="#5a88f0"/>
<circle cx="251.11" cy="90.42" r="0.55" fill="#7aa0f0"/>
<circle cx="247.26" cy="88.07" r="0.55" fill="#3060d0"/>
<circle cx="256.33" cy="86.78" r="0.55" fill="#3a62d0"/>
<circle cx="246.8" cy="90.31" r="0.55" fill="#7aa0f0"/>
<circle cx="255.78" cy="90.83" r="0.55" fill="#4070e0"/>
<circle cx="248.21" cy="90.39" r="0.55" fill="#3a62d0"/>
<circle cx="251.95" cy="92.97" r="0.55" fill="#4070e0"/>
<circle cx="248.21" cy="86.43" r="0.55" fill="#5a88f0"/>
<circle cx="252.37" cy="91.62" r="0.55" fill="#3060d0"/>
<circle cx="246.36" cy="85.27" r="0.55" fill="#3060d0"/>
<circle cx="248.14" cy="86.84" r="0.55" fill="#5a88f0"/>
<circle cx="253.22" cy="93.03" r="0.55" fill="#7aa0f0"/>
<circle cx="251.29" cy="91.52" r="0.55" fill="#3060d0"/>
<circle cx="254.17" cy="92.78" r="0.55" fill="#3060d0"/>
<circle cx="254.9" cy="94.93" r="0.55" fill="#3a62d0"/>
<circle cx="251" cy="90.78" r="0.55" fill="#5a88f0"/>
<circle cx="252.55" cy="89.53" r="0.55" fill="#7aa0f0"/>
<circle cx="271.25" cy="90.95" r="0.55" fill="#9a88e8"/>
<circle cx="275.32" cy="92.7" r="0.55" fill="#4848c8"/>
<circle cx="276.44" cy="92.51" r="0.55" fill="#4848c8"/>
<circle cx="270.38" cy="90.92" r="0.55" fill="#2838a8"/>
<circle cx="268.85" cy="92.49" r="0.55" fill="#3040b0"/>
<circle cx="271.63" cy="90.01" r="0.55" fill="#2838a8"/>
<circle cx="269.28" cy="93.65" r="0.55" fill="#6a5ad8"/>
<circle cx="267.36" cy="91.08" r="0.55" fill="#9a88e8"/>
<circle cx="273.34" cy="91.26" r="0.55" fill="#4848c8"/>
<circle cx="268.8" cy="93.66" r="0.55" fill="#4848c8"/>
<circle cx="276.08" cy="88.78" r="0.55" fill="#9a88e8"/>
<circle cx="280.73" cy="91.32" r="0.55" fill="#2838a8"/>
<circle cx="271.81" cy="87.35" r="0.55" fill="#4848c8"/>
<circle cx="268.78" cy="89.26" r="0.55" fill="#4848c8"/>
<circle cx="272.01" cy="92.28" r="0.55" fill="#3040b0"/>
<circle cx="274.51" cy="92.7" r="0.55" fill="#3040b0"/>
<circle cx="275.1" cy="92.33" r="0.55" fill="#4848c8"/>
<circle cx="270.31" cy="94.77" r="0.55" fill="#9a88e8"/>
<circle cx="269.61" cy="90" r="0.55" fill="#4848c8"/>
<circle cx="273.66" cy="91.72" r="0.55" fill="#3040b0"/>
<circle cx="276.04" cy="91.62" r="0.55" fill="#4848c8"/>
<circle cx="271.63" cy="88.87" r="0.55" fill="#2838a8"/>
<circle cx="267.6" cy="90" r="0.55" fill="#6a5ad8"/>
<circle cx="274.31" cy="89.93" r="0.55" fill="#2838a8"/>
<circle cx="277.77" cy="91.62" r="0.55" fill="#4848c8"/>
<circle cx="269.31" cy="87.35" r="0.55" fill="#4848c8"/>
<circle cx="272.28" cy="87.03" r="0.55" fill="#4848c8"/>
<circle cx="271.01" cy="92.33" r="0.55" fill="#6a5ad8"/>
<circle cx="269.57" cy="89.97" r="0.55" fill="#3040b0"/>
<circle cx="271.33" cy="88.26" r="0.55" fill="#2838a8"/>
<circle cx="266.02" cy="90.47" r="0.55" fill="#3040b0"/>
<circle cx="270.06" cy="87.53" r="0.55" fill="#4848c8"/>
<circle cx="270.97" cy="90.25" r="0.55" fill="#6a5ad8"/>
<circle cx="270.45" cy="89.81" r="0.55" fill="#6a5ad8"/>
<circle cx="266.51" cy="90.84" r="0.55" fill="#6a5ad8"/>
<circle cx="276.15" cy="88.66" r="0.55" fill="#9a88e8"/>
<circle cx="272.27" cy="92.75" r="0.55" fill="#9a88e8"/>
<circle cx="266.53" cy="96.38" r="0.55" fill="#9a88e8"/>
<circle cx="266.43" cy="88.11" r="0.55" fill="#3040b0"/>
<circle cx="277.76" cy="90" r="0.55" fill="#6a5ad8"/>
<circle cx="270.04" cy="86.34" r="0.55" fill="#4848c8"/>
<circle cx="271.6" cy="93.21" r="0.55" fill="#4848c8"/>
<circle cx="274.23" cy="88.71" r="0.55" fill="#3040b0"/>
<circle cx="271.85" cy="87.44" r="0.55" fill="#6a5ad8"/>
<circle cx="272.11" cy="88.71" r="0.55" fill="#3040b0"/>
<circle cx="270.91" cy="94.2" r="0.55" fill="#6a5ad8"/>
<circle cx="266.56" cy="91.67" r="0.55" fill="#6a5ad8"/>
<circle cx="269.18" cy="90.83" r="0.55" fill="#3040b0"/>
<circle cx="273.69" cy="88.99" r="0.55" fill="#2838a8"/>
<circle cx="266.06" cy="89.24" r="0.55" fill="#6a5ad8"/>
<circle cx="268.2" cy="90.53" r="0.55" fill="#2838a8"/>
<circle cx="273.5" cy="88.15" r="0.55" fill="#6a5ad8"/>
<circle cx="273.63" cy="95.26" r="0.55" fill="#2838a8"/>
<circle cx="274.95" cy="93.2" r="0.55" fill="#3040b0"/>
<circle cx="266.89" cy="92.12" r="0.55" fill="#4848c8"/>
<circle cx="267.92" cy="92.05" r="0.55" fill="#9a88e8"/>
<circle cx="278.44" cy="86.85" r="0.55" fill="#6a5ad8"/>
<circle cx="273.15" cy="94.82" r="0.55" fill="#4848c8"/>
<circle cx="269.53" cy="91" r="0.55" fill="#4848c8"/>
<circle cx="272.69" cy="91.85" r="0.55" fill="#9a88e8"/>
<circle cx="271.25" cy="89.17" r="0.55" fill="#6a5ad8"/>
<circle cx="269.27" cy="86.97" r="0.55" fill="#2838a8"/>
<circle cx="274.98" cy="93.69" r="0.55" fill="#6a5ad8"/>
<circle cx="269.1" cy="90.01" r="0.55" fill="#9a88e8"/>
<circle cx="268.27" cy="92.38" r="0.55" fill="#6a5ad8"/>
<circle cx="267.05" cy="89.15" r="0.55" fill="#9a88e8"/>
<circle cx="270.57" cy="90.05" r="0.55" fill="#2838a8"/>
<circle cx="279.12" cy="91.33" r="0.55" fill="#3040b0"/>
<circle cx="270.06" cy="85.96" r="0.55" fill="#9a88e8"/>
<circle cx="270" cy="90.19" r="0.55" fill="#6a5ad8"/>
<circle cx="269.47" cy="90.83" r="0.55" fill="#6a5ad8"/>
<circle cx="273.68" cy="93.21" r="0.55" fill="#9a88e8"/>
<circle cx="272.77" cy="93.52" r="0.55" fill="#6a5ad8"/>
<circle cx="267.67" cy="89.57" r="0.55" fill="#9a88e8"/>
<circle cx="275.6" cy="91.27" r="0.55" fill="#2838a8"/>
<circle cx="268.04" cy="88.79" r="0.55" fill="#6a5ad8"/>
<circle cx="268.68" cy="89.07" r="0.55" fill="#4848c8"/>
<circle cx="272.64" cy="88.47" r="0.55" fill="#3040b0"/>
<circle cx="271.13" cy="88.76" r="0.55" fill="#4848c8"/>
<circle cx="272.49" cy="94.78" r="0.55" fill="#3040b0"/>
<circle cx="273.86" cy="94.01" r="0.55" fill="#4848c8"/>
<circle cx="270.72" cy="88.66" r="0.55" fill="#4848c8"/>
<circle cx="268.67" cy="95.6" r="0.55" fill="#2838a8"/>
<circle cx="271.29" cy="92.71" r="0.55" fill="#2838a8"/>
<circle cx="267.45" cy="92.34" r="0.55" fill="#2838a8"/>
<circle cx="269.68" cy="92.34" r="0.55" fill="#9a88e8"/>
<circle cx="268.98" cy="92.01" r="0.55" fill="#9a88e8"/>
<circle cx="266.4" cy="87.42" r="0.55" fill="#6a5ad8"/>
<circle cx="271.36" cy="89.86" r="0.55" fill="#2838a8"/>
<circle cx="270.17" cy="90.14" r="0.55" fill="#9a88e8"/>
<circle cx="267.91" cy="93.73" r="0.55" fill="#6a5ad8"/>
<circle cx="269.67" cy="92.51" r="0.55" fill="#3040b0"/>
<circle cx="271.44" cy="90.07" r="0.55" fill="#9a88e8"/>
<circle cx="267.97" cy="88.67" r="0.55" fill="#3040b0"/>
<circle cx="272.45" cy="90.21" r="0.55" fill="#4848c8"/>
<circle cx="276.25" cy="90.13" r="0.55" fill="#3040b0"/>
<circle cx="270.69" cy="88.52" r="0.55" fill="#6a5ad8"/>
<circle cx="269.41" cy="89.56" r="0.55" fill="#9a88e8"/>
<circle cx="269.25" cy="92.35" r="0.55" fill="#3040b0"/>
<circle cx="271.49" cy="90.41" r="0.55" fill="#3040b0"/>
<circle cx="273.99" cy="88.06" r="0.55" fill="#9a88e8"/>
<circle cx="267.15" cy="91.46" r="0.55" fill="#6a5ad8"/>
<circle cx="271.49" cy="87.41" r="0.55" fill="#4848c8"/>
<circle cx="273.91" cy="93.59" r="0.55" fill="#4848c8"/>
<circle cx="275.97" cy="88.55" r="0.55" fill="#2838a8"/>
<circle cx="271.73" cy="89.96" r="0.55" fill="#2838a8"/>
<circle cx="267.25" cy="89.6" r="0.55" fill="#3040b0"/>
<circle cx="270.83" cy="87.69" r="0.55" fill="#9a88e8"/>
<circle cx="269.55" cy="92.38" r="0.55" fill="#4848c8"/>
<circle cx="268.45" cy="92.82" r="0.55" fill="#9a88e8"/>
<circle cx="278" cy="90.15" r="0.55" fill="#6a5ad8"/>
<circle cx="275.37" cy="91.21" r="0.55" fill="#3040b0"/>
<circle cx="272.11" cy="89.07" r="0.55" fill="#3040b0"/>
<circle cx="275.95" cy="90.36" r="0.55" fill="#9a88e8"/>
<circle cx="270.45" cy="90.19" r="0.55" fill="#2838a8"/>
<circle cx="272.47" cy="91.85" r="0.55" fill="#6a5ad8"/>
<circle cx="275.4" cy="90.18" r="0.55" fill="#4848c8"/>
<circle cx="271.6" cy="94.8" r="0.55" fill="#4848c8"/>
<circle cx="270.47" cy="92.2" r="0.55" fill="#9a88e8"/>
<circle cx="269.51" cy="93.01" r="0.55" fill="#6a5ad8"/>
<circle cx="269.05" cy="87.79" r="0.55" fill="#2838a8"/>
<circle cx="271.11" cy="90.28" r="0.55" fill="#6a5ad8"/>
<circle cx="273.9" cy="90.31" r="0.55" fill="#6a5ad8"/>
</g>
<rect x="256" y="86.6" width="9.2" height="9.8" fill="#f06414"/>
<line x1="244" y1="82.5" x2="289.6" y2="82.5" stroke="#8a8a8a" stroke-width="1"/>
<line x1="289.5" y1="82.3" x2="289.5" y2="114.2" stroke="#a0a0a0" stroke-width="1.2"/>
<line x1="265.5" y1="82.3" x2="265.5" y2="97.4" stroke="#8a8a8a" stroke-width="1"/>
<line x1="244" y1="97.5" x2="289.6" y2="97.5" stroke="#909090" stroke-width="1"/>
<line x1="285.4" y1="83.5" x2="301" y2="83.5" stroke="#555" stroke-width="1"/>
<polygon points="305,83 300.5,81.7 300.5,84.3" fill="#000"/>
<text x="292.2" y="81.8" font-family="'Liberation Serif', serif" font-size="5.2" font-weight="bold" text-anchor="start" fill="#000" stroke="#000" stroke-width="0.22">LSK</text>
<text x="237.9" y="95.5" font-family="'Liberation Serif', serif" font-size="5.6" font-weight="bold" text-anchor="middle" fill="#000" transform="rotate(-90 237.9 95.5)" stroke="#000" stroke-width="0.22">c-Kit</text>
<line x1="242.8" y1="77" x2="244" y2="77" stroke="#777" stroke-width="0.4"/>
<text x="241.8" y="78" font-family="'Liberation Serif', serif" font-size="2.8" font-weight="bold" text-anchor="end" fill="#555" transform="rotate(-90 241.8 78)">10</text>
<line x1="242.8" y1="86" x2="244" y2="86" stroke="#777" stroke-width="0.4"/>
<text x="241.8" y="87" font-family="'Liberation Serif', serif" font-size="2.8" font-weight="bold" text-anchor="end" fill="#555" transform="rotate(-90 241.8 87)">10</text>
<line x1="242.8" y1="95" x2="244" y2="95" stroke="#777" stroke-width="0.4"/>
<text x="241.8" y="96" font-family="'Liberation Serif', serif" font-size="2.8" font-weight="bold" text-anchor="end" fill="#555" transform="rotate(-90 241.8 96)">10</text>
<line x1="242.8" y1="104" x2="244" y2="104" stroke="#777" stroke-width="0.4"/>
<text x="241.8" y="105" font-family="'Liberation Serif', serif" font-size="2.8" font-weight="bold" text-anchor="end" fill="#555" transform="rotate(-90 241.8 105)">10</text>
<line x1="242.8" y1="111" x2="244" y2="111" stroke="#777" stroke-width="0.4"/>
<text x="241.8" y="112" font-family="'Liberation Serif', serif" font-size="2.8" font-weight="bold" text-anchor="end" fill="#555" transform="rotate(-90 241.8 112)">10</text>
<line x1="247" y1="114.2" x2="247" y2="115.4" stroke="#777" stroke-width="0.4"/>
<text x="247" y="118.6" font-family="'Liberation Serif', serif" font-size="2.8" font-weight="bold" text-anchor="middle" fill="#555">10</text>
<line x1="259" y1="114.2" x2="259" y2="115.4" stroke="#777" stroke-width="0.4"/>
<text x="259" y="118.6" font-family="'Liberation Serif', serif" font-size="2.8" font-weight="bold" text-anchor="middle" fill="#555">10</text>
<line x1="270.5" y1="114.2" x2="270.5" y2="115.4" stroke="#777" stroke-width="0.4"/>
<text x="270.5" y="118.6" font-family="'Liberation Serif', serif" font-size="2.8" font-weight="bold" text-anchor="middle" fill="#555">10</text>
<line x1="282.5" y1="114.2" x2="282.5" y2="115.4" stroke="#777" stroke-width="0.4"/>
<text x="282.5" y="118.6" font-family="'Liberation Serif', serif" font-size="2.8" font-weight="bold" text-anchor="middle" fill="#555">10</text>
<text x="266" y="124.8" font-family="'Liberation Serif', serif" font-size="5.8" font-weight="bold" text-anchor="middle" fill="#000" stroke="#000" stroke-width="0.22">Sca-1</text>
<line x1="257.5" y1="97.5" x2="257.5" y2="133.8" stroke="#4a7a3a" stroke-width="1"/>
<line x1="257.2" y1="133.5" x2="300" y2="133.5" stroke="#888" stroke-width="1"/>
<polygon points="303.8,133.8 299.5,132.6 299.5,135" fill="#000"/>
<text x="289.8" y="132" font-family="'Liberation Serif', serif" font-size="5.6" font-weight="bold" text-anchor="start" fill="#000" stroke="#000" stroke-width="0.22">LK<tspan font-size="3.8" dy="-2">+</tspan><tspan dy="2">C</tspan><tspan font-size="3.8" dy="-2">-</tspan></text>
<rect x="316.2" y="15.6" width="75.2" height="38.8" fill="none" stroke="#8a8a8a" stroke-width="0.7"/>
<line x1="315.1" y1="54.4" x2="316.2" y2="54.4" stroke="#666" stroke-width="0.4"/>
<line x1="315.1" y1="49.74" x2="316.2" y2="49.74" stroke="#666" stroke-width="0.4"/>
<line x1="315.1" y1="45.08" x2="316.2" y2="45.08" stroke="#666" stroke-width="0.4"/>
<text x="314.6" y="45.98" font-family="'Liberation Serif', serif" font-size="2.6" font-weight="bold" text-anchor="middle" fill="#444" transform="rotate(-90 314.6 45.98)">20</text>
<line x1="315.1" y1="40.41" x2="316.2" y2="40.41" stroke="#666" stroke-width="0.4"/>
<line x1="315.1" y1="35.75" x2="316.2" y2="35.75" stroke="#666" stroke-width="0.4"/>
<text x="314.6" y="36.65" font-family="'Liberation Serif', serif" font-size="2.6" font-weight="bold" text-anchor="middle" fill="#444" transform="rotate(-90 314.6 36.65)">40</text>
<line x1="315.1" y1="31.09" x2="316.2" y2="31.09" stroke="#666" stroke-width="0.4"/>
<line x1="315.1" y1="26.43" x2="316.2" y2="26.43" stroke="#666" stroke-width="0.4"/>
<text x="314.6" y="27.32" font-family="'Liberation Serif', serif" font-size="2.6" font-weight="bold" text-anchor="middle" fill="#444" transform="rotate(-90 314.6 27.32)">60</text>
<line x1="315.1" y1="21.76" x2="316.2" y2="21.76" stroke="#666" stroke-width="0.4"/>
<line x1="315.1" y1="17.1" x2="316.2" y2="17.1" stroke="#666" stroke-width="0.4"/>
<text x="314.6" y="18" font-family="'Liberation Serif', serif" font-size="2.6" font-weight="bold" text-anchor="middle" fill="#444" transform="rotate(-90 314.6 18)">80</text>
<line x1="326.73" y1="54.4" x2="326.73" y2="55.4" stroke="#666" stroke-width="0.4"/>
<text x="326.73" y="57.8" font-family="'Liberation Serif', serif" font-size="2.9" font-weight="bold" text-anchor="middle" fill="#333" transform="rotate(-30 326.73 57.8)">10</text>
<line x1="345.53" y1="54.4" x2="345.53" y2="55.4" stroke="#666" stroke-width="0.4"/>
<text x="345.53" y="57.8" font-family="'Liberation Serif', serif" font-size="2.9" font-weight="bold" text-anchor="middle" fill="#333" transform="rotate(-30 345.53 57.8)">10</text>
<line x1="364.33" y1="54.4" x2="364.33" y2="55.4" stroke="#666" stroke-width="0.4"/>
<text x="364.33" y="57.8" font-family="'Liberation Serif', serif" font-size="2.9" font-weight="bold" text-anchor="middle" fill="#333" transform="rotate(-30 364.33 57.8)">10</text>
<line x1="383.13" y1="54.4" x2="383.13" y2="55.4" stroke="#666" stroke-width="0.4"/>
<text x="383.13" y="57.8" font-family="'Liberation Serif', serif" font-size="2.9" font-weight="bold" text-anchor="middle" fill="#333" transform="rotate(-30 383.13 57.8)">10</text>
<polygon points="318.5,54.2 318.5,54.2 318.9,54.09 319.3,53.92 319.7,53.87 320.1,53.52 320.5,53.75 320.9,53.72 321.3,53.95 321.7,53.89 322.1,53.99 322.5,53.81 322.9,53.94 323.3,53.49 323.7,53.7 324.1,53.44 324.5,53.86 324.9,53.48 325.3,53.92 325.7,53.73 326.1,53.83 326.5,53.45 326.9,53.37 327.3,53.08 327.7,53.08 328.1,52.69 328.5,53.28 328.9,53.1 329.3,53.86 329.7,53.05 330.1,53.32 330.5,50.02 330.9,50.41 331.3,48.1 331.7,51.21 332.1,49.22 332.5,51.91 332.9,49.24 333.3,48.77 333.7,48.19 334.1,51.22 334.5,46.61 334.9,48.24 335.3,40.45 335.7,43.65 336.1,41.96 336.5,48.8 336.9,42.48 337.3,46.91 337.7,33.89 338.1,40.77 338.5,25.04 338.9,29.92 339.3,22.2 339.7,34.4 340.1,19.14 340.5,41.32 340.9,31.2 341.3,35.91 341.7,31.62 342.1,44.68 342.5,39.44 342.9,49.39 343.3,42.98 343.7,47.86 344.1,43.52 344.5,47.62 344.9,50.71 345.3,52.66 345.7,52.86 346.1,53.34 346.5,53.56 346.9,54.15 347,54.2" fill="#c868ea" stroke="#9a3ac8" stroke-width="0.3" stroke-linejoin="round"/>
<polygon points="353.6,54.2 353.6,54.2 354,52.97 354.4,50.41 354.8,52.18 355.2,51.83 355.6,51.41 356,49.81 356.4,51.24 356.8,50.8 357.2,50.5 357.6,50.57 358,52.82 358.4,50.77 358.8,51.16 359.2,49.56 359.6,51.97 360,51.18 360.4,53.03 360.8,52.32 361.2,52.42 361.6,52.67 362,53.63 362.4,53.35 362.8,54.08 363,54.2" fill="#c868ea" stroke="#9a3ac8" stroke-width="0.3" stroke-linejoin="round"/>
<polygon points="366,54.2 366,54.2 366.4,53.95 366.8,53.4 367.2,53.5 367.6,53.27 368,53.72 368.4,53.67 368.8,53.71 369.2,53.81 369.6,53.94 370,53.93 370.4,54.07 370.8,54.14 371,54.2" fill="#c868ea" stroke="#9a3ac8" stroke-width="0.3" stroke-linejoin="round"/>
<polygon points="375,54.2 375,54.2 375.4,53.58 375.8,52.45 376.2,52.62 376.6,52.11 377,51.66 377.4,51.22 377.8,53.14 378.2,52.03 378.6,51.95 379,52.64 379.4,53.55 379.8,53.79 380,54.2" fill="#c868ea" stroke="#9a3ac8" stroke-width="0.3" stroke-linejoin="round"/>
<line x1="353.5" y1="15.6" x2="353.5" y2="54.4" stroke="#777" stroke-width="1"/>
<line x1="353.4" y1="22.5" x2="391.4" y2="22.5" stroke="#777" stroke-width="1"/>
<text x="374.6" y="30.6" font-family="'Liberation Sans', sans-serif" font-size="5.4" font-weight="bold" text-anchor="middle" fill="#000" stroke="#000" stroke-width="0.22">11.8&#177;3.8%</text>
<text x="310.6" y="35" font-family="'Liberation Sans', sans-serif" font-size="3.1" font-weight="normal" text-anchor="middle" fill="#333" transform="rotate(-90 310.6 35)">Count</text>
<rect x="403.2" y="15.6" width="74.8" height="38.8" fill="none" stroke="#8a8a8a" stroke-width="0.7"/>
<line x1="402.1" y1="54.4" x2="403.2" y2="54.4" stroke="#666" stroke-width="0.4"/>
<line x1="402.1" y1="49.74" x2="403.2" y2="49.74" stroke="#666" stroke-width="0.4"/>
<line x1="402.1" y1="45.08" x2="403.2" y2="45.08" stroke="#666" stroke-width="0.4"/>
<text x="401.6" y="45.98" font-family="'Liberation Serif', serif" font-size="2.6" font-weight="bold" text-anchor="middle" fill="#444" transform="rotate(-90 401.6 45.98)">20</text>
<line x1="402.1" y1="40.41" x2="403.2" y2="40.41" stroke="#666" stroke-width="0.4"/>
<line x1="402.1" y1="35.75" x2="403.2" y2="35.75" stroke="#666" stroke-width="0.4"/>
<text x="401.6" y="36.65" font-family="'Liberation Serif', serif" font-size="2.6" font-weight="bold" text-anchor="middle" fill="#444" transform="rotate(-90 401.6 36.65)">40</text>
<line x1="402.1" y1="31.09" x2="403.2" y2="31.09" stroke="#666" stroke-width="0.4"/>
<line x1="402.1" y1="26.43" x2="403.2" y2="26.43" stroke="#666" stroke-width="0.4"/>
<text x="401.6" y="27.32" font-family="'Liberation Serif', serif" font-size="2.6" font-weight="bold" text-anchor="middle" fill="#444" transform="rotate(-90 401.6 27.32)">60</text>
<line x1="402.1" y1="21.76" x2="403.2" y2="21.76" stroke="#666" stroke-width="0.4"/>
<line x1="402.1" y1="17.1" x2="403.2" y2="17.1" stroke="#666" stroke-width="0.4"/>
<text x="401.6" y="18" font-family="'Liberation Serif', serif" font-size="2.6" font-weight="bold" text-anchor="middle" fill="#444" transform="rotate(-90 401.6 18)">80</text>
<line x1="413.67" y1="54.4" x2="413.67" y2="55.4" stroke="#666" stroke-width="0.4"/>
<text x="413.67" y="57.8" font-family="'Liberation Serif', serif" font-size="2.9" font-weight="bold" text-anchor="middle" fill="#333" transform="rotate(-30 413.67 57.8)">10</text>
<line x1="432.37" y1="54.4" x2="432.37" y2="55.4" stroke="#666" stroke-width="0.4"/>
<text x="432.37" y="57.8" font-family="'Liberation Serif', serif" font-size="2.9" font-weight="bold" text-anchor="middle" fill="#333" transform="rotate(-30 432.37 57.8)">10</text>
<line x1="451.07" y1="54.4" x2="451.07" y2="55.4" stroke="#666" stroke-width="0.4"/>
<text x="451.07" y="57.8" font-family="'Liberation Serif', serif" font-size="2.9" font-weight="bold" text-anchor="middle" fill="#333" transform="rotate(-30 451.07 57.8)">10</text>
<line x1="469.77" y1="54.4" x2="469.77" y2="55.4" stroke="#666" stroke-width="0.4"/>
<text x="469.77" y="57.8" font-family="'Liberation Serif', serif" font-size="2.9" font-weight="bold" text-anchor="middle" fill="#333" transform="rotate(-30 469.77 57.8)">10</text>
<polygon points="404,54.2 404,54.2 404.4,53.86 404.8,53.2 405.2,53.8 405.6,53.44 406,53.37 406.4,53.36 406.8,53.97 407.2,53.73 407.6,53.84 408,53.23 408.4,53.76 408.8,53.12 409.2,53.25 409.6,53.22 410,53.4 410.4,53.53 410.8,53.89 411.2,53.69 411.6,53.57 412,53.54 412.4,53.33 412.8,53.14 413.2,52.6 413.6,51.69 414,53.77 414.4,53.28 414.8,53.83 415.2,53.22 415.6,53.43 416,53.23 416.4,53.9 416.8,53.11 417.2,53.49 417.6,52.97 418,53.44 418.4,53.1 418.8,53.49 419.2,53.19 419.6,53.88 420,53.64 420.4,53.64 420.8,53.43 421.2,53.63 421.6,53.44 422,53.3 422.4,53.07 422.8,52.24 423.2,50.83 423.6,51.84 424,49.79 424.4,47.77 424.8,44.75 425.2,45.76 425.6,41.49 426,38.08 426.4,38.66 426.8,46.09 427.2,42.91 427.6,39.05 428,27.59 428.4,29.71 428.8,30.57 429.2,39.29 429.6,34.96 430,38.89 430.4,41.75 430.8,44.65 431.2,41.31 431.6,47.81 432,50.56 432.4,53.12 432.8,53.32 433.2,53.4 433.6,53.26 434,53.65 434.4,53.32 434.8,53.59 435.2,53.05 435.6,53.29 436,52.65 436.4,53.35 436.8,53.32 437.2,53.72 437.6,53.9 438,54.2 438,54.2" fill="#c868ea" stroke="#9a3ac8" stroke-width="0.3" stroke-linejoin="round"/>
<polygon points="441,54.2 441,54.2 441.4,54.02 441.8,53.67 442.2,53.78 442.6,53.13 443,53.68 443.4,52.9 443.8,53.55 444.2,53.14 444.6,53.73 445,53.43 445.4,53.74 445.8,53.52 446.2,53.89 446.6,53.39 447,53.3 447.4,53.14 447.8,53.19 448.2,52.92 448.6,53.12 449,52.6 449.4,53.18 449.8,53.18 450.2,53.64 450.6,53.22 451,53.85 451.4,53.42 451.8,53.43 452.2,52.88 452.6,53.26 453,51.66 453.4,51.8 453.8,50.95 454.2,52.12 454.6,52.09 455,53.46 455.4,51.41 455.8,52.52 456.2,50.29 456.6,51.66 457,49.15 457.4,49.25 457.8,49.9 458.2,50.53 458.6,48.15 459,49.53 459.4,44.78 459.8,48.8 460.2,42.32 460.6,47.44 461,45.46 461.4,51.87 461.8,49.82 462.2,51.62 462.6,48.81 463,52.71 463.4,49.46 463.8,48.8 464.2,44.43 464.6,50.21 465,45.31 465.4,46.43 465.8,42.88 466.2,46.21 466.6,44.77 467,50.54 467.4,49 467.8,52.49 468.2,50.52 468.6,52.93 469,52.54 469.4,53.08 469.8,53.38 470.2,53.82 470.6,53.92 471,54.2 471,54.2" fill="#c868ea" stroke="#9a3ac8" stroke-width="0.3" stroke-linejoin="round"/>
<line x1="440.5" y1="15.6" x2="440.5" y2="54.4" stroke="#777" stroke-width="1"/>
<line x1="440.3" y1="33.5" x2="478" y2="33.5" stroke="#777" stroke-width="1"/>
<text x="458.8" y="30.6" font-family="'Liberation Sans', sans-serif" font-size="5.4" font-weight="bold" text-anchor="middle" fill="#000" stroke="#000" stroke-width="0.22">24.3&#177;4.2%</text>
<text x="397.6" y="35" font-family="'Liberation Sans', sans-serif" font-size="3.1" font-weight="normal" text-anchor="middle" fill="#333" transform="rotate(-90 397.6 35)">Count</text>
<rect x="316.2" y="62" width="75.2" height="38.4" fill="none" stroke="#8a8a8a" stroke-width="0.7"/>
<line x1="315.1" y1="100.4" x2="316.2" y2="100.4" stroke="#666" stroke-width="0.4"/>
<line x1="315.1" y1="95.79" x2="316.2" y2="95.79" stroke="#666" stroke-width="0.4"/>
<line x1="315.1" y1="91.18" x2="316.2" y2="91.18" stroke="#666" stroke-width="0.4"/>
<text x="314.6" y="92.08" font-family="'Liberation Serif', serif" font-size="2.6" font-weight="bold" text-anchor="middle" fill="#444" transform="rotate(-90 314.6 92.08)">20</text>
<line x1="315.1" y1="86.56" x2="316.2" y2="86.56" stroke="#666" stroke-width="0.4"/>
<line x1="315.1" y1="81.95" x2="316.2" y2="81.95" stroke="#666" stroke-width="0.4"/>
<text x="314.6" y="82.85" font-family="'Liberation Serif', serif" font-size="2.6" font-weight="bold" text-anchor="middle" fill="#444" transform="rotate(-90 314.6 82.85)">40</text>
<line x1="315.1" y1="77.34" x2="316.2" y2="77.34" stroke="#666" stroke-width="0.4"/>
<line x1="315.1" y1="72.72" x2="316.2" y2="72.72" stroke="#666" stroke-width="0.4"/>
<text x="314.6" y="73.62" font-family="'Liberation Serif', serif" font-size="2.6" font-weight="bold" text-anchor="middle" fill="#444" transform="rotate(-90 314.6 73.62)">60</text>
<line x1="315.1" y1="68.11" x2="316.2" y2="68.11" stroke="#666" stroke-width="0.4"/>
<line x1="315.1" y1="63.5" x2="316.2" y2="63.5" stroke="#666" stroke-width="0.4"/>
<text x="314.6" y="64.4" font-family="'Liberation Serif', serif" font-size="2.6" font-weight="bold" text-anchor="middle" fill="#444" transform="rotate(-90 314.6 64.4)">80</text>
<line x1="326.73" y1="100.4" x2="326.73" y2="101.4" stroke="#666" stroke-width="0.4"/>
<text x="326.73" y="103.8" font-family="'Liberation Serif', serif" font-size="2.9" font-weight="bold" text-anchor="middle" fill="#333" transform="rotate(-30 326.73 103.8)">10</text>
<line x1="345.53" y1="100.4" x2="345.53" y2="101.4" stroke="#666" stroke-width="0.4"/>
<text x="345.53" y="103.8" font-family="'Liberation Serif', serif" font-size="2.9" font-weight="bold" text-anchor="middle" fill="#333" transform="rotate(-30 345.53 103.8)">10</text>
<line x1="364.33" y1="100.4" x2="364.33" y2="101.4" stroke="#666" stroke-width="0.4"/>
<text x="364.33" y="103.8" font-family="'Liberation Serif', serif" font-size="2.9" font-weight="bold" text-anchor="middle" fill="#333" transform="rotate(-30 364.33 103.8)">10</text>
<line x1="383.13" y1="100.4" x2="383.13" y2="101.4" stroke="#666" stroke-width="0.4"/>
<text x="383.13" y="103.8" font-family="'Liberation Serif', serif" font-size="2.9" font-weight="bold" text-anchor="middle" fill="#333" transform="rotate(-30 383.13 103.8)">10</text>
<polygon points="327,100.2 327,100.2 327.4,100.13 327.8,100.05 328.2,100 328.6,99.91 329,99.85 329.4,99.76 329.8,99.73 330.2,99.59 330.6,99.52 331,99.42 331.4,99.45 331.8,99.26 332.2,99.32 332.6,99.18 333,99.17 333.4,98.69 333.8,98.38 334.2,97.93 334.6,97.64 335,97.29 335.4,96.31 335.8,95.47 336.2,94.63 336.6,93.7 337,91.66 337.4,89.87 337.8,87.91 338.2,84.97 338.6,83.69 339,80.84 339.4,80.87 339.8,76.26 340.2,73.47 340.6,71.84 341,70.51 341.4,67.65 341.8,68.39 342.2,67.35 342.6,70.05 343,67.34 343.4,66.47 343.8,67.97 344.2,70.23 344.6,69.9 345,75.13 345.4,75.36 345.8,79.43 346.2,77.41 346.6,82.62 347,81.4 347.4,85.69 347.8,85.62 348.2,88.97 348.6,88.65 349,91.5 349.4,91.52 349.8,92.8 350.2,93.46 350.6,94.57 351,94.13 351.4,95.23 351.8,95.13 352.2,95.6 352.6,95.83 353,96.09 353.4,95.59 353.8,95.73 354.2,95.02 354.6,94.6 355,93.7 355.4,93.17 355.8,92.67 356.2,91.92 356.6,90.4 357,91.02 357.4,90.29 357.8,90.97 358.2,91.02 358.6,91.73 359,90.99 359.4,92.16 359.8,91.24 360.2,91.38 360.6,91.24 361,92.09 361.4,91.41 361.8,92.81 362.2,92.83 362.6,93.77 363,93.86 363.4,94.64 363.8,95.33 364.2,96.63 364.6,96.89 365,97.34 365.4,97.65 365.8,98.14 366.2,98.46 366.6,98.92 367,99.05 367.4,99.12 367.8,99.21 368.2,99.41 368.6,99.46 369,99.55 369.4,99.56 369.8,99.62 370.2,99.55 370.6,99.54 371,99.54 371.4,99.56 371.8,99.56 372.2,99.48 372.6,99.22 373,99.11 373.4,98.72 373.8,98.67 374.2,98.38 374.6,98.22 375,98.14 375.4,98.29 375.8,98.08 376.2,98.15 376.6,98.3 377,98.77 377.4,98.81 377.8,99.08 378.2,99.25 378.6,99.56 379,99.7 379.4,99.94 379.8,100.14 379.9,100.2" fill="#5454e6" stroke="#2020a8" stroke-width="0.45" stroke-linejoin="round"/>
<line x1="354.5" y1="62" x2="354.5" y2="100.4" stroke="#777" stroke-width="1"/>
<line x1="354.3" y1="81.5" x2="391.4" y2="81.5" stroke="#777" stroke-width="1"/>
<text x="374.6" y="77.1" font-family="'Liberation Sans', sans-serif" font-size="5.4" font-weight="bold" text-anchor="middle" fill="#000" stroke="#000" stroke-width="0.22">24.2&#177;3.6%</text>
<text x="310.6" y="81.5" font-family="'Liberation Sans', sans-serif" font-size="3.1" font-weight="normal" text-anchor="middle" fill="#333" transform="rotate(-90 310.6 81.5)">Count</text>
<rect x="403.2" y="62" width="74.8" height="38.4" fill="none" stroke="#8a8a8a" stroke-width="0.7"/>
<line x1="402.1" y1="100.4" x2="403.2" y2="100.4" stroke="#666" stroke-width="0.4"/>
<line x1="402.1" y1="95.79" x2="403.2" y2="95.79" stroke="#666" stroke-width="0.4"/>
<line x1="402.1" y1="91.18" x2="403.2" y2="91.18" stroke="#666" stroke-width="0.4"/>
<text x="401.6" y="92.08" font-family="'Liberation Serif', serif" font-size="2.6" font-weight="bold" text-anchor="middle" fill="#444" transform="rotate(-90 401.6 92.08)">20</text>
<line x1="402.1" y1="86.56" x2="403.2" y2="86.56" stroke="#666" stroke-width="0.4"/>
<line x1="402.1" y1="81.95" x2="403.2" y2="81.95" stroke="#666" stroke-width="0.4"/>
<text x="401.6" y="82.85" font-family="'Liberation Serif', serif" font-size="2.6" font-weight="bold" text-anchor="middle" fill="#444" transform="rotate(-90 401.6 82.85)">40</text>
<line x1="402.1" y1="77.34" x2="403.2" y2="77.34" stroke="#666" stroke-width="0.4"/>
<line x1="402.1" y1="72.72" x2="403.2" y2="72.72" stroke="#666" stroke-width="0.4"/>
<text x="401.6" y="73.62" font-family="'Liberation Serif', serif" font-size="2.6" font-weight="bold" text-anchor="middle" fill="#444" transform="rotate(-90 401.6 73.62)">60</text>
<line x1="402.1" y1="68.11" x2="403.2" y2="68.11" stroke="#666" stroke-width="0.4"/>
<line x1="402.1" y1="63.5" x2="403.2" y2="63.5" stroke="#666" stroke-width="0.4"/>
<text x="401.6" y="64.4" font-family="'Liberation Serif', serif" font-size="2.6" font-weight="bold" text-anchor="middle" fill="#444" transform="rotate(-90 401.6 64.4)">80</text>
<line x1="413.67" y1="100.4" x2="413.67" y2="101.4" stroke="#666" stroke-width="0.4"/>
<text x="413.67" y="103.8" font-family="'Liberation Serif', serif" font-size="2.9" font-weight="bold" text-anchor="middle" fill="#333" transform="rotate(-30 413.67 103.8)">10</text>
<line x1="432.37" y1="100.4" x2="432.37" y2="101.4" stroke="#666" stroke-width="0.4"/>
<text x="432.37" y="103.8" font-family="'Liberation Serif', serif" font-size="2.9" font-weight="bold" text-anchor="middle" fill="#333" transform="rotate(-30 432.37 103.8)">10</text>
<line x1="451.07" y1="100.4" x2="451.07" y2="101.4" stroke="#666" stroke-width="0.4"/>
<text x="451.07" y="103.8" font-family="'Liberation Serif', serif" font-size="2.9" font-weight="bold" text-anchor="middle" fill="#333" transform="rotate(-30 451.07 103.8)">10</text>
<line x1="469.77" y1="100.4" x2="469.77" y2="101.4" stroke="#666" stroke-width="0.4"/>
<text x="469.77" y="103.8" font-family="'Liberation Serif', serif" font-size="2.9" font-weight="bold" text-anchor="middle" fill="#333" transform="rotate(-30 469.77 103.8)">10</text>
<polygon points="404,100.2 404,100.2 404.4,99.67 404.8,98.86 405.2,99.09 405.6,99.2 406,99.84 406.4,99.64 406.8,99.91 407.2,99.8 407.6,99.86 408,99.75 408.4,99.98 408.8,99.88 409.2,99.99 409.6,99.77 410,99.89 410.4,99.68 410.8,99.63 411.2,99.47 411.6,99.44 412,99.38 412.4,99.1 412.8,98.76 413.2,98.07 413.6,98.75 414,99.68 414.4,99.47 414.8,99.45 415.2,99.39 415.6,99.34 416,99.25 416.4,99.59 416.8,99.09 417.2,99.54 417.6,98.93 418,99.36 418.4,99.16 418.8,99.03 419.2,99.05 419.6,99.28 420,98.97 420.4,99.06 420.8,98.81 421.2,98.56 421.6,97.61 422,96.91 422.4,96.14 422.8,95.04 423.2,93.2 423.6,93.29 424,88.52 424.4,88.36 424.8,86.49 425.2,88.85 425.6,83.64 426,79.75 426.4,80.58 426.8,85.95 427.2,75.23 427.6,79.15 428,68.81 428.4,83.65 428.8,73.09 429.2,82.76 429.6,72.88 430,80.52 430.4,73.57 430.8,72.93 431.2,69.51 431.6,75.4 432,72.36 432.4,86.01 432.8,78.29 433.2,87.65 433.6,87.15 434,86.95 434.4,89.87 434.8,94.67 435.2,92.67 435.6,96.03 436,95.25 436.4,96.96 436.8,97.64 437.2,98.77 437.6,99.05 438,99.54 438.4,99.74 438.8,100.09 439,100.2" fill="#5454e6" stroke="#2020a8" stroke-width="0.35" stroke-linejoin="round"/>
<polygon points="440.5,100.2 440.5,100.2 440.9,99.96 441.3,99.43 441.7,99.32 442.1,98.72 442.5,99.02 442.9,98.89 443.3,99.55 443.7,99.41 444.1,99.31 444.5,98.89 444.9,99.19 445.3,98.11 445.7,98.69 446.1,97.95 446.5,98.63 446.9,98.25 447.3,98.78 447.7,99.02 448.1,99.08 448.5,98.51 448.9,98.72 449.3,97.77 449.7,97.81 450.1,97.84 450.5,98.13 450.9,97.45 451.3,98.08 451.7,97.77 452.1,98.79 452.5,97.36 452.9,97.83 453.3,97.65 453.7,97.98 454.1,96.47 454.5,98 454.9,96.6 455.3,96.3 455.7,95.37 456.1,97.28 456.5,94.95 456.9,96.54 457.3,94.36 457.7,94.96 458.1,94.49 458.5,94.8 458.9,91.03 459.3,92.23 459.7,88.3 460.1,90.03 460.5,81.39 460.9,84.08 461.3,79.71 461.7,79.24 462.1,69 462.5,77.6 462.9,75.25 463.3,79.79 463.7,79.42 464.1,88.26 464.5,83.14 464.9,89.69 465.3,77.77 465.7,87.21 466.1,81.94 466.5,83.33 466.9,84.39 467.3,89.36 467.7,90.56 468.1,94.54 468.5,95.46 468.9,97.59 469.3,99.41 469.5,100.2" fill="#5454e6" stroke="#2020a8" stroke-width="0.35" stroke-linejoin="round"/>
<line x1="440.5" y1="62" x2="440.5" y2="100.4" stroke="#777" stroke-width="1"/>
<line x1="440.3" y1="76.5" x2="478" y2="76.5" stroke="#777" stroke-width="1"/>
<text x="458.5" y="75" font-family="'Liberation Sans', sans-serif" font-size="5.4" font-weight="bold" text-anchor="middle" fill="#000" stroke="#000" stroke-width="0.22">36.7&#177;4.3%</text>
<text x="397.6" y="81.5" font-family="'Liberation Sans', sans-serif" font-size="3.1" font-weight="normal" text-anchor="middle" fill="#333" transform="rotate(-90 397.6 81.5)">Count</text>
<rect x="316.2" y="108.5" width="75.2" height="38.4" fill="none" stroke="#8a8a8a" stroke-width="0.7"/>
<line x1="315.1" y1="146.9" x2="316.2" y2="146.9" stroke="#666" stroke-width="0.4"/>
<line x1="315.1" y1="142.29" x2="316.2" y2="142.29" stroke="#666" stroke-width="0.4"/>
<line x1="315.1" y1="137.68" x2="316.2" y2="137.68" stroke="#666" stroke-width="0.4"/>
<text x="314.6" y="138.58" font-family="'Liberation Serif', serif" font-size="2.6" font-weight="bold" text-anchor="middle" fill="#444" transform="rotate(-90 314.6 138.58)">20</text>
<line x1="315.1" y1="133.06" x2="316.2" y2="133.06" stroke="#666" stroke-width="0.4"/>
<line x1="315.1" y1="128.45" x2="316.2" y2="128.45" stroke="#666" stroke-width="0.4"/>
<text x="314.6" y="129.35" font-family="'Liberation Serif', serif" font-size="2.6" font-weight="bold" text-anchor="middle" fill="#444" transform="rotate(-90 314.6 129.35)">40</text>
<line x1="315.1" y1="123.84" x2="316.2" y2="123.84" stroke="#666" stroke-width="0.4"/>
<line x1="315.1" y1="119.22" x2="316.2" y2="119.22" stroke="#666" stroke-width="0.4"/>
<text x="314.6" y="120.12" font-family="'Liberation Serif', serif" font-size="2.6" font-weight="bold" text-anchor="middle" fill="#444" transform="rotate(-90 314.6 120.12)">60</text>
<line x1="315.1" y1="114.61" x2="316.2" y2="114.61" stroke="#666" stroke-width="0.4"/>
<line x1="315.1" y1="110" x2="316.2" y2="110" stroke="#666" stroke-width="0.4"/>
<text x="314.6" y="110.9" font-family="'Liberation Serif', serif" font-size="2.6" font-weight="bold" text-anchor="middle" fill="#444" transform="rotate(-90 314.6 110.9)">80</text>
<line x1="326.73" y1="146.9" x2="326.73" y2="147.9" stroke="#666" stroke-width="0.4"/>
<text x="326.73" y="150.3" font-family="'Liberation Serif', serif" font-size="2.9" font-weight="bold" text-anchor="middle" fill="#333" transform="rotate(-30 326.73 150.3)">10</text>
<line x1="345.53" y1="146.9" x2="345.53" y2="147.9" stroke="#666" stroke-width="0.4"/>
<text x="345.53" y="150.3" font-family="'Liberation Serif', serif" font-size="2.9" font-weight="bold" text-anchor="middle" fill="#333" transform="rotate(-30 345.53 150.3)">10</text>
<line x1="364.33" y1="146.9" x2="364.33" y2="147.9" stroke="#666" stroke-width="0.4"/>
<text x="364.33" y="150.3" font-family="'Liberation Serif', serif" font-size="2.9" font-weight="bold" text-anchor="middle" fill="#333" transform="rotate(-30 364.33 150.3)">10</text>
<line x1="383.13" y1="146.9" x2="383.13" y2="147.9" stroke="#666" stroke-width="0.4"/>
<text x="383.13" y="150.3" font-family="'Liberation Serif', serif" font-size="2.9" font-weight="bold" text-anchor="middle" fill="#333" transform="rotate(-30 383.13 150.3)">10</text>
<polygon points="335.4,146.7 335.4,146.7 335.8,145.89 336.2,144.92 336.6,144.03 337,142.99 337.4,141.72 337.8,139.85 338.2,139.27 338.6,137.65 339,137.33 339.4,133.53 339.8,132.37 340.2,130.28 340.6,131.04 341,127.94 341.4,128.13 341.8,123.09 342.2,126.68 342.6,122.79 343,124.28 343.4,119.68 343.8,119.83 344.2,120.89 344.6,122.77 345,116.49 345.4,117.52 345.8,117.97 346.2,119.27 346.6,115.03 347,118.14 347.4,114.29 347.8,116.26 348.2,113.86 348.6,117.9 349,114.19 349.4,116.98 349.8,113.82 350.2,114.73 350.6,113.15 351,119.17 351.4,115.99 351.8,120.22 352.2,121.37 352.6,124.47 353,124.61 353.4,125.21 353.8,126.07 354.2,130.51 354.6,129.37 355,130.46 355.4,130.85 355.8,132.34 356.2,133.14 356.6,133.86 357,133.42 357.4,136.26 357.8,133.86 358.2,134.54 358.6,130.91 359,130.52 359.4,128.29 359.8,130.59 360.2,128.52 360.6,127.91 361,125.92 361.4,128.49 361.8,125.93 362.2,126.23 362.6,125.45 363,125.33 363.4,124.34 363.8,126.06 364.2,122.88 364.6,124.03 365,120.9 365.4,125.21 365.8,119.83 366.2,123.46 366.6,119.99 367,120.19 367.4,117.04 367.8,119.01 368.2,115.34 368.6,120.59 369,117.56 369.4,120.07 369.8,120.95 370.2,125.27 370.6,125.34 371,128.08 371.4,129.43 371.8,133.54 372.2,135.01 372.6,138.71 373,140.3 373.4,142.41 373.8,143.49 374.2,145.51 374.6,145.63 375,146.1 375.4,146.37 375.8,146.7 375.8,146.7" fill="#78a4f2" stroke="#5a86d8" stroke-width="0.3" stroke-linejoin="round"/>
<line x1="357.5" y1="108.5" x2="357.5" y2="146.9" stroke="#777" stroke-width="1"/>
<line x1="357.6" y1="142.5" x2="391.4" y2="142.5" stroke="#777" stroke-width="1"/>
<text x="373.4" y="118.5" font-family="'Liberation Sans', sans-serif" font-size="5.4" font-weight="bold" text-anchor="middle" fill="#000" stroke="#000" stroke-width="0.22">41.2&#177;4.5%</text>
<text x="310.6" y="128" font-family="'Liberation Sans', sans-serif" font-size="3.1" font-weight="normal" text-anchor="middle" fill="#333" transform="rotate(-90 310.6 128)">Count</text>
<rect x="403.2" y="108.5" width="74.8" height="38.4" fill="none" stroke="#8a8a8a" stroke-width="0.7"/>
<line x1="402.1" y1="146.9" x2="403.2" y2="146.9" stroke="#666" stroke-width="0.4"/>
<line x1="402.1" y1="142.29" x2="403.2" y2="142.29" stroke="#666" stroke-width="0.4"/>
<line x1="402.1" y1="137.68" x2="403.2" y2="137.68" stroke="#666" stroke-width="0.4"/>
<text x="401.6" y="138.58" font-family="'Liberation Serif', serif" font-size="2.6" font-weight="bold" text-anchor="middle" fill="#444" transform="rotate(-90 401.6 138.58)">20</text>
<line x1="402.1" y1="133.06" x2="403.2" y2="133.06" stroke="#666" stroke-width="0.4"/>
<line x1="402.1" y1="128.45" x2="403.2" y2="128.45" stroke="#666" stroke-width="0.4"/>
<text x="401.6" y="129.35" font-family="'Liberation Serif', serif" font-size="2.6" font-weight="bold" text-anchor="middle" fill="#444" transform="rotate(-90 401.6 129.35)">40</text>
<line x1="402.1" y1="123.84" x2="403.2" y2="123.84" stroke="#666" stroke-width="0.4"/>
<line x1="402.1" y1="119.22" x2="403.2" y2="119.22" stroke="#666" stroke-width="0.4"/>
<text x="401.6" y="120.12" font-family="'Liberation Serif', serif" font-size="2.6" font-weight="bold" text-anchor="middle" fill="#444" transform="rotate(-90 401.6 120.12)">60</text>
<line x1="402.1" y1="114.61" x2="403.2" y2="114.61" stroke="#666" stroke-width="0.4"/>
<line x1="402.1" y1="110" x2="403.2" y2="110" stroke="#666" stroke-width="0.4"/>
<text x="401.6" y="110.9" font-family="'Liberation Serif', serif" font-size="2.6" font-weight="bold" text-anchor="middle" fill="#444" transform="rotate(-90 401.6 110.9)">80</text>
<line x1="413.67" y1="146.9" x2="413.67" y2="147.9" stroke="#666" stroke-width="0.4"/>
<text x="413.67" y="150.3" font-family="'Liberation Serif', serif" font-size="2.9" font-weight="bold" text-anchor="middle" fill="#333" transform="rotate(-30 413.67 150.3)">10</text>
<line x1="432.37" y1="146.9" x2="432.37" y2="147.9" stroke="#666" stroke-width="0.4"/>
<text x="432.37" y="150.3" font-family="'Liberation Serif', serif" font-size="2.9" font-weight="bold" text-anchor="middle" fill="#333" transform="rotate(-30 432.37 150.3)">10</text>
<line x1="451.07" y1="146.9" x2="451.07" y2="147.9" stroke="#666" stroke-width="0.4"/>
<text x="451.07" y="150.3" font-family="'Liberation Serif', serif" font-size="2.9" font-weight="bold" text-anchor="middle" fill="#333" transform="rotate(-30 451.07 150.3)">10</text>
<line x1="469.77" y1="146.9" x2="469.77" y2="147.9" stroke="#666" stroke-width="0.4"/>
<text x="469.77" y="150.3" font-family="'Liberation Serif', serif" font-size="2.9" font-weight="bold" text-anchor="middle" fill="#333" transform="rotate(-30 469.77 150.3)">10</text>
<polygon points="420.6,146.7 420.6,146.7 421,146.34 421.4,145.94 421.8,145.7 422.2,145.3 422.6,145.14 423,144.51 423.4,144.35 423.8,143.84 424.2,142.62 424.6,141.02 425,139.93 425.4,138.72 425.8,138.43 426.2,134.76 426.6,133.48 427,130.43 427.4,127.95 427.8,124.41 428.2,123.31 428.6,117.95 429,117.68 429.4,113.48 429.8,118.07 430.2,115.7 430.6,116.61 431,115.35 431.4,118.66 431.8,117.74 432.2,118.44 432.6,114.52 433,118.86 433.4,117.11 433.8,115.54 434.2,114.01 434.6,119.94 435,115.2 435.4,116.73 435.8,115.18 436.2,120.37 436.6,117.42 437,122.07 437.4,123.71 437.8,129 438.2,128.4 438.6,132.4 439,130.07 439.4,134.42 439.8,133.62 440.2,134.86 440.6,135.74 441,137.52 441.4,137.19 441.8,138.65 442.2,138.03 442.6,138.84 443,139.32 443.4,140.37 443.8,139.51 444.2,140.75 444.6,140.62 445,141.46 445.4,140.53 445.8,140.11 446.2,140.18 446.6,140.47 447,139.13 447.4,139.46 447.8,139.57 448.2,141.05 448.6,140.77 449,142.02 449.4,142.4 449.8,142.22 450.2,141.14 450.6,141.06 451,140.61 451.4,140.55 451.8,137.79 452.2,138.41 452.6,135.21 453,135.82 453.4,134.12 453.8,134.64 454.2,132.22 454.6,131.42 455,131.39 455.4,130.5 455.8,129.92 456.2,131.39 456.6,127.81 457,129.87 457.4,127.12 457.8,126.91 458.2,122.33 458.6,122.36 459,123.21 459.4,128.62 459.8,126.22 460.2,130.37 460.6,130.8 461,134.02 461.4,136.06 461.8,137.95 462.2,139.34 462.6,142.16 463,142.89 463.4,144.38 463.8,145.43 464.2,146.7 464.2,146.7" fill="#78a4f2" stroke="#5a86d8" stroke-width="0.3" stroke-linejoin="round"/>
<line x1="444.5" y1="108.5" x2="444.5" y2="146.9" stroke="#777" stroke-width="1"/>
<text x="458.6" y="118.8" font-family="'Liberation Sans', sans-serif" font-size="5.4" font-weight="bold" text-anchor="middle" fill="#000" stroke="#000" stroke-width="0.22">35.6&#177;5.3%</text>
<text x="397.6" y="128" font-family="'Liberation Sans', sans-serif" font-size="3.1" font-weight="normal" text-anchor="middle" fill="#333" transform="rotate(-90 397.6 128)">Count</text>
<text x="354.4" y="13.7" font-family="'Liberation Serif', serif" font-size="7.4" font-weight="bold" text-anchor="middle" fill="#000" stroke="#000" stroke-width="0.22">Control</text>
<text x="441.5" y="13.9" font-family="'Liberation Serif', serif" font-size="7.4" font-weight="bold" text-anchor="middle" fill="#000" stroke="#000" stroke-width="0.22">Sclpfn1</text>
<line x1="312.5" y1="155.5" x2="474" y2="155.5" stroke="#888" stroke-width="1"/>
<polygon points="478,155 473.5,153.6 473.5,156.4" fill="#000"/>
<text x="393.8" y="162.3" font-family="'Liberation Serif', serif" font-size="6.3" font-weight="bold" text-anchor="middle" fill="#000" stroke="#000" stroke-width="0.22">Anit-BrdU</text>
<line x1="33.5" y1="179.1" x2="33.5" y2="254.5" stroke="#a8a8a8" stroke-width="1"/>
<line x1="33.1" y1="254.5" x2="155.6" y2="254.5" stroke="#909090" stroke-width="1"/>
<line x1="31.8" y1="254.5" x2="33.1" y2="254.5" stroke="#999" stroke-width="0.5"/>
<text x="30.5" y="256.4" font-family="'Liberation Serif', serif" font-size="6" font-weight="bold" text-anchor="end" fill="#000" stroke="#000" stroke-width="0.22">0</text>
<line x1="31.8" y1="239.42" x2="33.1" y2="239.42" stroke="#999" stroke-width="0.5"/>
<text x="30.5" y="241.32" font-family="'Liberation Serif', serif" font-size="6" font-weight="bold" text-anchor="end" fill="#000" stroke="#000" stroke-width="0.22">0.0005</text>
<line x1="31.8" y1="224.34" x2="33.1" y2="224.34" stroke="#999" stroke-width="0.5"/>
<text x="30.5" y="226.24" font-family="'Liberation Serif', serif" font-size="6" font-weight="bold" text-anchor="end" fill="#000" stroke="#000" stroke-width="0.22">0.0010</text>
<line x1="31.8" y1="209.26" x2="33.1" y2="209.26" stroke="#999" stroke-width="0.5"/>
<text x="30.5" y="211.16" font-family="'Liberation Serif', serif" font-size="6" font-weight="bold" text-anchor="end" fill="#000" stroke="#000" stroke-width="0.22">0.0015</text>
<line x1="31.8" y1="194.18" x2="33.1" y2="194.18" stroke="#999" stroke-width="0.5"/>
<text x="30.5" y="196.08" font-family="'Liberation Serif', serif" font-size="6" font-weight="bold" text-anchor="end" fill="#000" stroke="#000" stroke-width="0.22">0.0020</text>
<line x1="31.8" y1="179.1" x2="33.1" y2="179.1" stroke="#999" stroke-width="0.5"/>
<text x="30.5" y="181" font-family="'Liberation Serif', serif" font-size="6" font-weight="bold" text-anchor="end" fill="#000" stroke="#000" stroke-width="0.22">0.0025</text>
<line x1="57" y1="254.5" x2="57" y2="255.9" stroke="#999" stroke-width="0.5"/>
<line x1="81.5" y1="254.5" x2="81.5" y2="255.9" stroke="#999" stroke-width="0.5"/>
<line x1="106.25" y1="254.5" x2="106.25" y2="255.9" stroke="#999" stroke-width="0.5"/>
<line x1="131" y1="254.5" x2="131" y2="255.9" stroke="#999" stroke-width="0.5"/>
<line x1="155" y1="254.5" x2="155" y2="255.9" stroke="#999" stroke-width="0.5"/>
<rect x="38.75" y="249.5" width="7" height="5" fill="#000"/>
<line x1="42.5" y1="249.5" x2="42.5" y2="246.3" stroke="#555" stroke-width="1"/>
<rect x="63.25" y="244.5" width="6.75" height="10" fill="#000"/>
<line x1="66.5" y1="244.5" x2="66.5" y2="243.4" stroke="#555" stroke-width="1"/>
<rect x="87.5" y="245" width="7" height="9.5" fill="#000"/>
<line x1="91.5" y1="245" x2="91.5" y2="243.4" stroke="#555" stroke-width="1"/>
<rect x="111.9" y="248.1" width="7.1" height="6.4" fill="#000"/>
<line x1="115.5" y1="248.1" x2="115.5" y2="246.8" stroke="#555" stroke-width="1"/>
<rect x="136.25" y="253.1" width="6.85" height="1.4" fill="#000"/>
<line x1="139.5" y1="253.1" x2="139.5" y2="252.6" stroke="#555" stroke-width="1"/>
<rect x="46.1" y="245.35" width="6.55" height="9.15" fill="#8c8c8c" stroke="#3a3a3a" stroke-width="0.7"/>
<line x1="49.5" y1="245" x2="49.5" y2="238" stroke="#777" stroke-width="1"/>
<rect x="70.35" y="247.35" width="6.3" height="7.15" fill="#8c8c8c" stroke="#3a3a3a" stroke-width="0.7"/>
<line x1="73.5" y1="247" x2="73.5" y2="246.2" stroke="#777" stroke-width="1"/>
<rect x="94.85" y="221.6" width="6.8" height="32.9" fill="#8c8c8c" stroke="#3a3a3a" stroke-width="0.7"/>
<line x1="98.5" y1="221.25" x2="98.5" y2="212.5" stroke="#777" stroke-width="1"/>
<rect x="119.35" y="199.35" width="6.5" height="55.15" fill="#8c8c8c" stroke="#3a3a3a" stroke-width="0.7"/>
<line x1="122.5" y1="199" x2="122.5" y2="193.75" stroke="#777" stroke-width="1"/>
<rect x="143.45" y="237.85" width="6.8" height="16.65" fill="#8c8c8c" stroke="#3a3a3a" stroke-width="0.7"/>
<line x1="146.5" y1="237.5" x2="146.5" y2="236.9" stroke="#777" stroke-width="1"/>
<polygon points="98.3,205.39 99.16,207.12 101.07,207.4 99.68,208.75 100.01,210.66 98.3,209.76 96.59,210.66 96.92,208.75 95.53,207.4 97.44,207.12" fill="#000"/>
<polygon points="122.6,185.99 123.46,187.72 125.37,188 123.98,189.35 124.31,191.26 122.6,190.36 120.89,191.26 121.22,189.35 119.83,188 121.74,187.72" fill="#000"/>
<polygon points="146.9,228.39 147.76,230.12 149.67,230.4 148.28,231.75 148.61,233.66 146.9,232.76 145.19,233.66 145.52,231.75 144.13,230.4 146.04,230.12" fill="#000"/>
<rect x="41.7" y="179.5" width="7.2" height="4.8" fill="#000"/>
<rect x="41.7" y="187.9" width="7.2" height="4.9" fill="#8c8c8c" stroke="#3a3a3a" stroke-width="0.6"/>
<text x="50.2" y="184.6" font-family="'Liberation Serif', serif" font-size="6.7" font-weight="bold" text-anchor="start" fill="#000" stroke="#000" stroke-width="0.22">Control</text>
<text x="50.2" y="192.6" font-family="'Liberation Serif', serif" font-size="6.7" font-weight="bold" text-anchor="start" fill="#000" stroke="#000" stroke-width="0.22">Sclpfn1</text>
<text x="45.6" y="265.6" font-family="'Liberation Serif', serif" font-size="7.4" font-weight="bold" text-anchor="middle" fill="#000" stroke="#000" stroke-width="0.22">0 days</text>
<text x="70" y="265.6" font-family="'Liberation Serif', serif" font-size="7.4" font-weight="bold" text-anchor="middle" fill="#000" stroke="#000" stroke-width="0.22">2 days</text>
<text x="94.5" y="265.6" font-family="'Liberation Serif', serif" font-size="7.4" font-weight="bold" text-anchor="middle" fill="#000" stroke="#000" stroke-width="0.22">4 days</text>
<text x="119" y="265.6" font-family="'Liberation Serif', serif" font-size="7.4" font-weight="bold" text-anchor="middle" fill="#000" stroke="#000" stroke-width="0.22">8 days</text>
<text x="143.3" y="265.6" font-family="'Liberation Serif', serif" font-size="7.4" font-weight="bold" text-anchor="middle" fill="#000" stroke="#000" stroke-width="0.22">14 days</text>
<text x="9.8" y="218.3" font-family="'Liberation Serif', serif" font-size="7.9" font-weight="bold" text-anchor="middle" fill="#000" transform="rotate(-90 9.8 218.3)" stroke="#000" stroke-width="0.22">% LT-HSCs in PB</text>
<line x1="195.5" y1="181.3" x2="195.5" y2="255" stroke="#999" stroke-width="1"/>
<line x1="195.5" y1="255.5" x2="245" y2="255.5" stroke="#888" stroke-width="1"/>
<line x1="192.6" y1="255.5" x2="195.5" y2="255.5" stroke="#999" stroke-width="1"/>
<text x="0" y="0" font-family="'Liberation Serif', serif" font-size="5.9" font-weight="bold" text-anchor="end" fill="#000" transform="translate(191 256.8) scale(1 0.92)" stroke="#000" stroke-width="0.22">0</text>
<line x1="192.6" y1="236.5" x2="195.5" y2="236.5" stroke="#999" stroke-width="1"/>
<text x="0" y="0" font-family="'Liberation Serif', serif" font-size="5.9" font-weight="bold" text-anchor="end" fill="#000" transform="translate(191 238.55) scale(1 0.92)" stroke="#000" stroke-width="0.22">400</text>
<line x1="192.6" y1="218.5" x2="195.5" y2="218.5" stroke="#999" stroke-width="1"/>
<text x="0" y="0" font-family="'Liberation Serif', serif" font-size="5.9" font-weight="bold" text-anchor="end" fill="#000" transform="translate(191 220.3) scale(1 0.92)" stroke="#000" stroke-width="0.22">800</text>
<line x1="192.6" y1="200.5" x2="195.5" y2="200.5" stroke="#999" stroke-width="1"/>
<text x="0" y="0" font-family="'Liberation Serif', serif" font-size="5.9" font-weight="bold" text-anchor="end" fill="#000" transform="translate(191 202.05) scale(1 0.92)" stroke="#000" stroke-width="0.22">1200</text>
<line x1="192.6" y1="182.5" x2="195.5" y2="182.5" stroke="#999" stroke-width="1"/>
<text x="0" y="0" font-family="'Liberation Serif', serif" font-size="5.9" font-weight="bold" text-anchor="end" fill="#000" transform="translate(191 183.8) scale(1 0.92)" stroke="#000" stroke-width="0.22">1600</text>
<line x1="220.5" y1="255" x2="220.5" y2="256.3" stroke="#999" stroke-width="0.5"/>
<line x1="245" y1="255" x2="245" y2="256.3" stroke="#999" stroke-width="0.5"/>
<rect x="204.5" y="197" width="11" height="58" fill="#000"/>
<line x1="210.5" y1="197" x2="210.5" y2="192" stroke="#888" stroke-width="1"/>
<rect x="225.5" y="229" width="10.8" height="26" fill="#000"/>
<line x1="230.5" y1="229" x2="230.5" y2="227.6" stroke="#888" stroke-width="1"/>
<polygon points="231.2,219.69 232.06,221.42 233.97,221.7 232.58,223.05 232.91,224.96 231.2,224.06 229.49,224.96 229.82,223.05 228.43,221.7 230.34,221.42" fill="#000"/>
<rect x="202.6" y="183.2" width="3.3" height="3.2" fill="#000"/>
<text x="207" y="187" font-family="'Liberation Serif', serif" font-size="6.2" font-weight="bold" text-anchor="start" fill="#000" stroke="#000" stroke-width="0.22">Migrated Cells</text>
<text x="208.9" y="266.1" font-family="'Liberation Serif', serif" font-size="7" font-weight="bold" text-anchor="middle" fill="#000" stroke="#000" stroke-width="0.22">Control</text>
<text x="233.8" y="266.1" font-family="'Liberation Serif', serif" font-size="7" font-weight="bold" text-anchor="middle" fill="#000" stroke="#000" stroke-width="0.22">Sclpfn1</text>
<text x="175.2" y="219.5" font-family="'Liberation Serif', serif" font-size="7.7" font-weight="bold" text-anchor="middle" fill="#000" transform="rotate(-90 175.2 219.5)" stroke="#000" stroke-width="0.22">Cell No of migrated cells</text>
<line x1="283.5" y1="171.2" x2="283.5" y2="255.2" stroke="#111" stroke-width="1"/>
<line x1="283.6" y1="255.5" x2="410" y2="255.5" stroke="#111" stroke-width="1"/>
<line x1="280.8" y1="255.5" x2="283.6" y2="255.5" stroke="#222" stroke-width="1"/>
<text x="280.3" y="257" font-family="'Liberation Serif', serif" font-size="5.4" font-weight="bold" text-anchor="end" fill="#000" stroke="#000" stroke-width="0.22">0.0</text>
<line x1="280.8" y1="238.5" x2="283.6" y2="238.5" stroke="#222" stroke-width="1"/>
<text x="280.3" y="240.26" font-family="'Liberation Serif', serif" font-size="5.4" font-weight="bold" text-anchor="end" fill="#000" stroke="#000" stroke-width="0.22">0.2</text>
<line x1="280.8" y1="221.5" x2="283.6" y2="221.5" stroke="#222" stroke-width="1"/>
<text x="280.3" y="223.52" font-family="'Liberation Serif', serif" font-size="5.4" font-weight="bold" text-anchor="end" fill="#000" stroke="#000" stroke-width="0.22">0.4</text>
<line x1="280.8" y1="204.5" x2="283.6" y2="204.5" stroke="#222" stroke-width="1"/>
<text x="280.3" y="206.78" font-family="'Liberation Serif', serif" font-size="5.4" font-weight="bold" text-anchor="end" fill="#000" stroke="#000" stroke-width="0.22">0.6</text>
<line x1="280.8" y1="188.5" x2="283.6" y2="188.5" stroke="#222" stroke-width="1"/>
<text x="280.3" y="190.04" font-family="'Liberation Serif', serif" font-size="5.4" font-weight="bold" text-anchor="end" fill="#000" stroke="#000" stroke-width="0.22">0.8</text>
<line x1="280.8" y1="171.5" x2="283.6" y2="171.5" stroke="#222" stroke-width="1"/>
<text x="280.3" y="173.3" font-family="'Liberation Serif', serif" font-size="5.4" font-weight="bold" text-anchor="end" fill="#000" stroke="#000" stroke-width="0.22">1.0</text>
<line x1="298.75" y1="255" x2="298.75" y2="256.4" stroke="#000" stroke-width="0.5"/>
<line x1="330.5" y1="255" x2="330.5" y2="256.4" stroke="#000" stroke-width="0.5"/>
<line x1="362.6" y1="255" x2="362.6" y2="256.4" stroke="#000" stroke-width="0.5"/>
<line x1="394" y1="255" x2="394" y2="256.4" stroke="#000" stroke-width="0.5"/>
<rect x="288" y="241.25" width="10.75" height="13.95" fill="#000"/>
<line x1="293.5" y1="241.25" x2="293.5" y2="239.3" stroke="#000" stroke-width="1"/>
<line x1="290.88" y1="239.5" x2="295.88" y2="239.5" stroke="#000" stroke-width="1.1"/>
<rect x="319.5" y="192" width="11" height="63.2" fill="#000"/>
<line x1="325.5" y1="192" x2="325.5" y2="187.5" stroke="#000" stroke-width="1"/>
<line x1="322.5" y1="187.5" x2="327.5" y2="187.5" stroke="#000" stroke-width="1.1"/>
<rect x="351.25" y="244.3" width="11.25" height="10.9" fill="#000"/>
<line x1="356.5" y1="244.3" x2="356.5" y2="242.3" stroke="#000" stroke-width="1"/>
<line x1="354.38" y1="242.5" x2="359.38" y2="242.5" stroke="#000" stroke-width="1.1"/>
<rect x="299.1" y="240.35" width="10.05" height="14.85" fill="#8c8c8c" stroke="#3a3a3a" stroke-width="0.7"/>
<line x1="304.5" y1="240" x2="304.5" y2="236.2" stroke="#000" stroke-width="1"/>
<line x1="301.62" y1="236.5" x2="306.62" y2="236.5" stroke="#000" stroke-width="1.1"/>
<rect x="330.85" y="209.55" width="10.05" height="45.65" fill="#8c8c8c" stroke="#3a3a3a" stroke-width="0.7"/>
<line x1="335.5" y1="209.2" x2="335.5" y2="202.4" stroke="#000" stroke-width="1"/>
<line x1="333.38" y1="202.5" x2="338.38" y2="202.5" stroke="#000" stroke-width="1.1"/>
<rect x="362.85" y="247.65" width="9.8" height="7.55" fill="#8c8c8c" stroke="#3a3a3a" stroke-width="0.7"/>
<line x1="367.5" y1="247.3" x2="367.5" y2="245" stroke="#000" stroke-width="1"/>
<line x1="365.25" y1="245.5" x2="370.25" y2="245.5" stroke="#000" stroke-width="1.1"/>
<line x1="383" y1="254.5" x2="394" y2="254.5" stroke="#000" stroke-width="1"/>
<line x1="394" y1="254.5" x2="405" y2="254.5" stroke="#555" stroke-width="1"/>
<text x="293.5" y="237.1" font-family="'Liberation Serif', serif" font-size="5.8" font-weight="bold" text-anchor="middle" fill="#000" stroke="#000" stroke-width="0.22">0.16</text>
<text x="305.1" y="233.9" font-family="'Liberation Serif', serif" font-size="5.8" font-weight="bold" text-anchor="middle" fill="#000" stroke="#000" stroke-width="0.22">0.18</text>
<text x="325" y="184.8" font-family="'Liberation Serif', serif" font-size="5.8" font-weight="bold" text-anchor="middle" fill="#000" stroke="#000" stroke-width="0.22">0.75</text>
<text x="336.9" y="199.3" font-family="'Liberation Serif', serif" font-size="5.8" font-weight="bold" text-anchor="middle" fill="#000" stroke="#000" stroke-width="0.22">0.55</text>
<text x="356.6" y="240.5" font-family="'Liberation Serif', serif" font-size="5.8" font-weight="bold" text-anchor="middle" fill="#000" stroke="#000" stroke-width="0.22">0.13</text>
<text x="368.2" y="243.5" font-family="'Liberation Serif', serif" font-size="5.8" font-weight="bold" text-anchor="middle" fill="#000" stroke="#000" stroke-width="0.22">0.09</text>
<text x="388.6" y="250.7" font-family="'Liberation Serif', serif" font-size="5.8" font-weight="bold" text-anchor="middle" fill="#000" stroke="#000" stroke-width="0.22">0.0019</text>
<text x="401.5" y="244.7" font-family="'Liberation Serif', serif" font-size="5.8" font-weight="bold" text-anchor="middle" fill="#000" stroke="#000" stroke-width="0.22">0.0022</text>
<text x="299.5" y="266.3" font-family="'Liberation Serif', serif" font-size="6.8" font-weight="bold" text-anchor="middle" fill="#000" stroke="#000" stroke-width="0.22">BM</text>
<text x="331.8" y="266.3" font-family="'Liberation Serif', serif" font-size="6.8" font-weight="bold" text-anchor="middle" fill="#000" stroke="#000" stroke-width="0.22">SP</text>
<text x="362.6" y="266.3" font-family="'Liberation Serif', serif" font-size="6.8" font-weight="bold" text-anchor="middle" fill="#000" stroke="#000" stroke-width="0.22">LV</text>
<text x="396.7" y="266.3" font-family="'Liberation Serif', serif" font-size="6.8" font-weight="bold" text-anchor="middle" fill="#000" stroke="#000" stroke-width="0.22">LT-HSC(BM)</text>
<rect x="368" y="175.8" width="6.5" height="4.7" fill="#000"/>
<rect x="368" y="184.3" width="6.5" height="4.5" fill="#8c8c8c" stroke="#3a3a3a" stroke-width="0.6"/>
<text x="375.6" y="181.2" font-family="'Liberation Serif', serif" font-size="6.7" font-weight="bold" text-anchor="start" fill="#000" stroke="#000" stroke-width="0.22">Control</text>
<text x="375.6" y="189" font-family="'Liberation Serif', serif" font-size="6.7" font-weight="bold" text-anchor="start" fill="#000" stroke="#000" stroke-width="0.22">Sclpfn1</text>
<text x="267.9" y="213.4" font-family="'Liberation Serif', serif" font-size="7.3" font-weight="bold" text-anchor="middle" fill="#000" transform="rotate(-90 267.9 213.4)" stroke="#000" stroke-width="0.22">% Homing Cells</text>
<rect x="453.9" y="220" width="43.3" height="8" fill="#8e8e8e" stroke="#555" stroke-width="0.6"/>
<rect x="453.9" y="230.8" width="43.3" height="9.9" fill="#606060" stroke="#404040" stroke-width="0.6"/>
<rect x="453.9" y="243.2" width="43.3" height="7.6" fill="#9a9a9a" stroke="#555" stroke-width="0.6"/>
<ellipse cx="459.5" cy="224.3" rx="4.5" ry="1.0" fill="#444"/>
<rect x="484.7" y="221.4" width="12" height="4.9" rx="2.4" fill="#080808"/>
<path d="M454,232.2 L462,232.0 Q469,233 468.6,236.5 Q468,240.4 461,240.4 L454,240.4 Z" fill="#050505"/>
<ellipse cx="491" cy="234.4" rx="6" ry="0.9" fill="#222"/>
<rect x="468.8" y="245" width="13.4" height="5.3" rx="2.6" fill="#050505"/>
<rect x="484.7" y="244.6" width="12.3" height="5.4" rx="2.4" fill="#050505"/>
<text x="450.8" y="227" font-family="'Liberation Serif', serif" font-size="6.2" font-weight="bold" text-anchor="end" fill="#000" stroke="#000" stroke-width="0.22">GNA13</text>
<text x="450.8" y="238.8" font-family="'Liberation Serif', serif" font-size="6.2" font-weight="bold" text-anchor="end" fill="#000" stroke="#000" stroke-width="0.22">Pfn1</text>
<text x="450.8" y="248.9" font-family="'Liberation Serif', serif" font-size="6.2" font-weight="bold" text-anchor="end" fill="#000" stroke="#000" stroke-width="0.22">IgG-Light</text>
<text x="439.6" y="256.6" font-family="'Liberation Serif', serif" font-size="6.2" font-weight="bold" text-anchor="middle" fill="#000" stroke="#000" stroke-width="0.22">Chain</text>
<text x="459.6" y="218.8" font-family="'Liberation Serif', serif" font-size="6.3" font-weight="bold" text-anchor="start" fill="#000" transform="rotate(-38 459.6 218.8)" stroke="#000" stroke-width="0.22">5% Input</text>
<text x="474.4" y="218.8" font-family="'Liberation Serif', serif" font-size="6.3" font-weight="bold" text-anchor="start" fill="#000" transform="rotate(-38 474.4 218.8)" stroke="#000" stroke-width="0.22">CoIP-Ctrl</text>
<text x="491" y="220" font-family="'Liberation Serif', serif" font-size="6.3" font-weight="bold" text-anchor="start" fill="#000" transform="rotate(-43 491 220)" stroke="#000" stroke-width="0.22">CoIP-GNA13</text>
<line x1="25.5" y1="288.5" x2="25.5" y2="375" stroke="#000" stroke-width="1"/>
<line x1="25.1" y1="375.5" x2="108.8" y2="375.5" stroke="#000" stroke-width="1"/>
<line x1="22.6" y1="374.5" x2="25.1" y2="374.5" stroke="#222" stroke-width="1"/>
<text x="21.8" y="376.4" font-family="'Liberation Serif', serif" font-size="5.2" font-weight="bold" text-anchor="end" fill="#000" stroke="#000" stroke-width="0.22">0.00</text>
<line x1="22.6" y1="360.5" x2="25.1" y2="360.5" stroke="#222" stroke-width="1"/>
<text x="21.8" y="362.1" font-family="'Liberation Serif', serif" font-size="5.2" font-weight="bold" text-anchor="end" fill="#000" stroke="#000" stroke-width="0.22">0.02</text>
<line x1="22.6" y1="346.5" x2="25.1" y2="346.5" stroke="#222" stroke-width="1"/>
<text x="21.8" y="347.8" font-family="'Liberation Serif', serif" font-size="5.2" font-weight="bold" text-anchor="end" fill="#000" stroke="#000" stroke-width="0.22">0.04</text>
<line x1="22.6" y1="331.5" x2="25.1" y2="331.5" stroke="#222" stroke-width="1"/>
<text x="21.8" y="333.5" font-family="'Liberation Serif', serif" font-size="5.2" font-weight="bold" text-anchor="end" fill="#000" stroke="#000" stroke-width="0.22">0.06</text>
<line x1="22.6" y1="317.5" x2="25.1" y2="317.5" stroke="#222" stroke-width="1"/>
<text x="21.8" y="319.2" font-family="'Liberation Serif', serif" font-size="5.2" font-weight="bold" text-anchor="end" fill="#000" stroke="#000" stroke-width="0.22">0.08</text>
<line x1="22.6" y1="303.5" x2="25.1" y2="303.5" stroke="#222" stroke-width="1"/>
<text x="21.8" y="304.9" font-family="'Liberation Serif', serif" font-size="5.2" font-weight="bold" text-anchor="end" fill="#000" stroke="#000" stroke-width="0.22">0.10</text>
<line x1="22.6" y1="288.5" x2="25.1" y2="288.5" stroke="#222" stroke-width="1"/>
<text x="21.8" y="290.6" font-family="'Liberation Serif', serif" font-size="5.2" font-weight="bold" text-anchor="end" fill="#000" stroke="#000" stroke-width="0.22">0.12</text>
<line x1="66.4" y1="374.6" x2="66.4" y2="375.9" stroke="#000" stroke-width="0.5"/>
<line x1="108.8" y1="374.6" x2="108.8" y2="375.9" stroke="#000" stroke-width="0.5"/>
<rect x="32.3" y="339.1" width="13.7" height="35.5" fill="#000"/>
<line x1="39.5" y1="339.1" x2="39.5" y2="335" stroke="#000" stroke-width="1"/>
<line x1="35.6" y1="335.5" x2="42.6" y2="335.5" stroke="#000" stroke-width="1.2"/>
<rect x="46.35" y="310.35" width="12.9" height="64.25" fill="#8c8c8c" stroke="#3a3a3a" stroke-width="0.7"/>
<line x1="52.5" y1="310" x2="52.5" y2="295.75" stroke="#000" stroke-width="1"/>
<line x1="49.3" y1="295.5" x2="56.3" y2="295.5" stroke="#000" stroke-width="1.2"/>
<rect x="73.75" y="357.5" width="13.75" height="17.1" fill="#000"/>
<line x1="80.5" y1="357.5" x2="80.5" y2="353.75" stroke="#000" stroke-width="1"/>
<line x1="77.1" y1="353.5" x2="84.1" y2="353.5" stroke="#000" stroke-width="1.2"/>
<rect x="87.85" y="365.85" width="13.8" height="8.75" fill="#8c8c8c" stroke="#3a3a3a" stroke-width="0.7"/>
<line x1="94.5" y1="365.5" x2="94.5" y2="364.3" stroke="#000" stroke-width="1"/>
<line x1="91.25" y1="364.5" x2="98.25" y2="364.5" stroke="#000" stroke-width="1.2"/>
<polygon points="53,288.49 53.86,290.22 55.77,290.5 54.38,291.85 54.71,293.76 53,292.86 51.29,293.76 51.62,291.85 50.23,290.5 52.14,290.22" fill="#000"/>
<polygon points="95,356.69 95.86,358.42 97.77,358.7 96.38,360.05 96.71,361.96 95,361.06 93.29,361.96 93.62,360.05 92.23,358.7 94.14,358.42" fill="#000"/>
<rect x="78.3" y="292" width="6.7" height="5" fill="#000"/>
<rect x="78.3" y="301.3" width="6.7" height="4.5" fill="#8c8c8c" stroke="#3a3a3a" stroke-width="0.6"/>
<text x="86.3" y="297.4" font-family="'Liberation Serif', serif" font-size="6.7" font-weight="bold" text-anchor="start" fill="#000" stroke="#000" stroke-width="0.22">Control</text>
<text x="86.3" y="305.5" font-family="'Liberation Serif', serif" font-size="6.7" font-weight="bold" text-anchor="start" fill="#000" stroke="#000" stroke-width="0.22">Sclpfn1</text>
<text x="46.7" y="383.6" font-family="'Liberation Serif', serif" font-size="7.3" font-weight="bold" text-anchor="middle" fill="#000" stroke="#000" stroke-width="0.22">BM</text>
<text x="86.7" y="383.6" font-family="'Liberation Serif', serif" font-size="7.3" font-weight="bold" text-anchor="middle" fill="#000" stroke="#000" stroke-width="0.22">Spleen</text>
<text x="7.7" y="332.7" font-family="'Liberation Serif', serif" font-size="7.7" font-weight="bold" text-anchor="middle" fill="#000" transform="rotate(-90 7.7 332.7)" stroke="#000" stroke-width="0.22">% LT-HSC Cells</text>
<line x1="153.5" y1="289" x2="153.5" y2="375.2" stroke="#555" stroke-width="1"/>
<line x1="153.8" y1="375.5" x2="237.5" y2="375.5" stroke="#000" stroke-width="1"/>
<line x1="150" y1="375.5" x2="153.8" y2="375.5" stroke="#222" stroke-width="1"/>
<text x="149.7" y="376.7" font-family="'Liberation Serif', serif" font-size="5.6" font-weight="bold" text-anchor="end" fill="#000" stroke="#000" stroke-width="0.22">0</text>
<line x1="150" y1="353.5" x2="153.8" y2="353.5" stroke="#222" stroke-width="1"/>
<text x="149.7" y="355.23" font-family="'Liberation Serif', serif" font-size="5.6" font-weight="bold" text-anchor="end" fill="#000" stroke="#000" stroke-width="0.22">20</text>
<line x1="150" y1="332.5" x2="153.8" y2="332.5" stroke="#222" stroke-width="1"/>
<text x="149.7" y="333.75" font-family="'Liberation Serif', serif" font-size="5.6" font-weight="bold" text-anchor="end" fill="#000" stroke="#000" stroke-width="0.22">40</text>
<line x1="150" y1="310.5" x2="153.8" y2="310.5" stroke="#222" stroke-width="1"/>
<text x="149.7" y="312.27" font-family="'Liberation Serif', serif" font-size="5.6" font-weight="bold" text-anchor="end" fill="#000" stroke="#000" stroke-width="0.22">60</text>
<line x1="150" y1="289.5" x2="153.8" y2="289.5" stroke="#222" stroke-width="1"/>
<text x="149.7" y="290.8" font-family="'Liberation Serif', serif" font-size="5.6" font-weight="bold" text-anchor="end" fill="#000" stroke="#000" stroke-width="0.22">80</text>
<line x1="195.6" y1="375.2" x2="195.6" y2="376.5" stroke="#000" stroke-width="0.5"/>
<line x1="237.5" y1="375.2" x2="237.5" y2="376.5" stroke="#000" stroke-width="0.5"/>
<rect x="159.5" y="333" width="14.25" height="42.2" fill="#000"/>
<line x1="166.5" y1="333" x2="166.5" y2="329.5" stroke="#000" stroke-width="1"/>
<line x1="163.1" y1="329.5" x2="170.1" y2="329.5" stroke="#000" stroke-width="1.2"/>
<rect x="174.1" y="311.6" width="13.55" height="63.6" fill="#8c8c8c" stroke="#3a3a3a" stroke-width="0.7"/>
<line x1="180.5" y1="311.25" x2="180.5" y2="304.5" stroke="#000" stroke-width="1"/>
<line x1="177.4" y1="304.5" x2="184.4" y2="304.5" stroke="#000" stroke-width="1.2"/>
<rect x="201.25" y="323" width="13.75" height="52.2" fill="#000"/>
<line x1="208.5" y1="323" x2="208.5" y2="318.75" stroke="#000" stroke-width="1"/>
<line x1="204.6" y1="318.5" x2="211.6" y2="318.5" stroke="#000" stroke-width="1.2"/>
<rect x="215.35" y="322.85" width="13.55" height="52.35" fill="#8c8c8c" stroke="#3a3a3a" stroke-width="0.7"/>
<line x1="222.5" y1="322.5" x2="222.5" y2="317.5" stroke="#000" stroke-width="1"/>
<line x1="218.6" y1="317.5" x2="225.6" y2="317.5" stroke="#000" stroke-width="1.2"/>
<line x1="161.2" y1="301.5" x2="187.2" y2="301.5" stroke="#000" stroke-width="1"/>
<line x1="203" y1="313.5" x2="228.8" y2="313.5" stroke="#000" stroke-width="1"/>
<line x1="174.5" y1="301.3" x2="174.5" y2="295" stroke="#000" stroke-width="1"/>
<line x1="174.5" y1="295.5" x2="215" y2="295.5" stroke="#000" stroke-width="1"/>
<line x1="215.5" y1="295" x2="215.5" y2="313" stroke="#000" stroke-width="1"/>
<polygon points="194.5,289.6 195.32,291.27 197.16,291.53 195.83,292.83 196.15,294.67 194.5,293.8 192.85,294.67 193.17,292.83 191.84,291.53 193.68,291.27" fill="#000"/>
<rect x="230" y="292" width="6.3" height="4.3" fill="#000"/>
<rect x="230" y="300" width="6.3" height="4.3" fill="#8c8c8c" stroke="#3a3a3a" stroke-width="0.6"/>
<text x="237.3" y="296.7" font-family="'Liberation Serif', serif" font-size="6.6" font-weight="bold" text-anchor="start" fill="#000" stroke="#000" stroke-width="0.22">G0</text>
<text x="237.3" y="304.7" font-family="'Liberation Serif', serif" font-size="6.6" font-weight="bold" text-anchor="start" fill="#000" stroke="#000" stroke-width="0.22">G1</text>
<text x="175" y="383.6" font-family="'Liberation Serif', serif" font-size="7.4" font-weight="bold" text-anchor="middle" fill="#000" stroke="#000" stroke-width="0.22">Control</text>
<text x="214.4" y="383.6" font-family="'Liberation Serif', serif" font-size="7.4" font-weight="bold" text-anchor="middle" fill="#000" stroke="#000" stroke-width="0.22">EGR1</text>
<text x="139" y="332" font-family="'Liberation Serif', serif" font-size="7.8" font-weight="bold" text-anchor="middle" fill="#000" transform="rotate(-90 139 332)" stroke="#000" stroke-width="0.22">% in LT-HSC Cells</text>
<line x1="287.5" y1="290.3" x2="287.5" y2="373.7" stroke="#a8a8a8" stroke-width="1"/>
<line x1="287" y1="373.5" x2="351.3" y2="373.5" stroke="#909090" stroke-width="1"/>
<line x1="285" y1="373.5" x2="287" y2="373.5" stroke="#999" stroke-width="1"/>
<text x="284.4" y="375.5" font-family="'Liberation Serif', serif" font-size="5.3" font-weight="bold" text-anchor="end" fill="#000" stroke="#000" stroke-width="0.22">0</text>
<line x1="285" y1="359.5" x2="287" y2="359.5" stroke="#999" stroke-width="1"/>
<text x="284.4" y="361.63" font-family="'Liberation Serif', serif" font-size="5.3" font-weight="bold" text-anchor="end" fill="#000" stroke="#000" stroke-width="0.22">4</text>
<line x1="285" y1="345.5" x2="287" y2="345.5" stroke="#999" stroke-width="1"/>
<text x="284.4" y="347.77" font-family="'Liberation Serif', serif" font-size="5.3" font-weight="bold" text-anchor="end" fill="#000" stroke="#000" stroke-width="0.22">8</text>
<line x1="285" y1="332.5" x2="287" y2="332.5" stroke="#999" stroke-width="1"/>
<text x="284.4" y="333.9" font-family="'Liberation Serif', serif" font-size="5.3" font-weight="bold" text-anchor="end" fill="#000" stroke="#000" stroke-width="0.22">12</text>
<line x1="285" y1="318.5" x2="287" y2="318.5" stroke="#999" stroke-width="1"/>
<text x="284.4" y="320.03" font-family="'Liberation Serif', serif" font-size="5.3" font-weight="bold" text-anchor="end" fill="#000" stroke="#000" stroke-width="0.22">16</text>
<line x1="285" y1="304.5" x2="287" y2="304.5" stroke="#999" stroke-width="1"/>
<text x="284.4" y="306.17" font-family="'Liberation Serif', serif" font-size="5.3" font-weight="bold" text-anchor="end" fill="#000" stroke="#000" stroke-width="0.22">20</text>
<line x1="285" y1="290.5" x2="287" y2="290.5" stroke="#999" stroke-width="1"/>
<text x="284.4" y="292.3" font-family="'Liberation Serif', serif" font-size="5.3" font-weight="bold" text-anchor="end" fill="#000" stroke="#000" stroke-width="0.22">24</text>
<line x1="323.8" y1="373.6" x2="323.8" y2="375.2" stroke="#999" stroke-width="0.5"/>
<line x1="351.3" y1="373.6" x2="351.3" y2="375.2" stroke="#999" stroke-width="0.5"/>
<rect x="298.2" y="354.8" width="10.1" height="18.8" fill="#000"/>
<line x1="303.5" y1="354.8" x2="303.5" y2="349.2" stroke="#999" stroke-width="1"/>
<rect x="308.65" y="358.55" width="10" height="15.05" fill="#8c8c8c" stroke="#3a3a3a" stroke-width="0.7"/>
<line x1="313.5" y1="358.2" x2="313.5" y2="349" stroke="#999" stroke-width="1"/>
<rect x="326.75" y="359.5" width="10.75" height="14.1" fill="#000"/>
<line x1="332.5" y1="359.5" x2="332.5" y2="357.5" stroke="#999" stroke-width="1"/>
<rect x="337.85" y="316.1" width="9.8" height="57.5" fill="#8c8c8c" stroke="#3a3a3a" stroke-width="0.7"/>
<line x1="342.5" y1="315.75" x2="342.5" y2="302" stroke="#999" stroke-width="1"/>
<polygon points="343,295.4 343.82,297.07 345.66,297.33 344.33,298.63 344.65,300.47 343,299.6 341.35,300.47 341.67,298.63 340.34,297.33 342.18,297.07" fill="#000"/>
<rect x="292.5" y="292" width="6.8" height="5" fill="#000"/>
<rect x="292.5" y="300.5" width="6.8" height="4.5" fill="#8c8c8c" stroke="#3a3a3a" stroke-width="0.6"/>
<text x="300.5" y="297.4" font-family="'Liberation Serif', serif" font-size="6.7" font-weight="bold" text-anchor="start" fill="#000" stroke="#000" stroke-width="0.22">Control</text>
<text x="300.5" y="305.4" font-family="'Liberation Serif', serif" font-size="6.7" font-weight="bold" text-anchor="start" fill="#000" stroke="#000" stroke-width="0.22">Sclpfn1</text>
<text x="309.1" y="382.8" font-family="'Liberation Serif', serif" font-size="7.4" font-weight="bold" text-anchor="middle" fill="#000" stroke="#000" stroke-width="0.22">4 days</text>
<text x="338.3" y="382.8" font-family="'Liberation Serif', serif" font-size="7.4" font-weight="bold" text-anchor="middle" fill="#000" stroke="#000" stroke-width="0.22">16 days</text>
<text x="271.8" y="330.9" font-family="'Liberation Sans', sans-serif" font-size="7.1" font-weight="bold" text-anchor="middle" fill="#000" transform="rotate(-90 271.8 330.9)" stroke="#000" stroke-width="0.22">% Apoptotic HSCs</text>
<line x1="391.5" y1="289.8" x2="391.5" y2="375.8" stroke="#555" stroke-width="1"/>
<line x1="391.3" y1="375.5" x2="452.5" y2="375.5" stroke="#000" stroke-width="1"/>
<line x1="388.8" y1="375.5" x2="391.6" y2="375.5" stroke="#222" stroke-width="1"/>
<text x="388.6" y="377.7" font-family="'Liberation Serif', serif" font-size="5.9" font-weight="bold" text-anchor="end" fill="#000" stroke="#000" stroke-width="0.22">0</text>
<line x1="388.8" y1="361.5" x2="391.6" y2="361.5" stroke="#222" stroke-width="1"/>
<text x="388.6" y="363.4" font-family="'Liberation Serif', serif" font-size="5.9" font-weight="bold" text-anchor="end" fill="#000" stroke="#000" stroke-width="0.22">2</text>
<line x1="388.8" y1="347.5" x2="391.6" y2="347.5" stroke="#222" stroke-width="1"/>
<text x="388.6" y="349.1" font-family="'Liberation Serif', serif" font-size="5.9" font-weight="bold" text-anchor="end" fill="#000" stroke="#000" stroke-width="0.22">4</text>
<line x1="388.8" y1="332.5" x2="391.6" y2="332.5" stroke="#222" stroke-width="1"/>
<text x="388.6" y="334.8" font-family="'Liberation Serif', serif" font-size="5.9" font-weight="bold" text-anchor="end" fill="#000" stroke="#000" stroke-width="0.22">6</text>
<line x1="388.8" y1="318.5" x2="391.6" y2="318.5" stroke="#222" stroke-width="1"/>
<text x="388.6" y="320.5" font-family="'Liberation Serif', serif" font-size="5.9" font-weight="bold" text-anchor="end" fill="#000" stroke="#000" stroke-width="0.22">8</text>
<line x1="388.8" y1="304.5" x2="391.6" y2="304.5" stroke="#222" stroke-width="1"/>
<text x="388.6" y="306.2" font-family="'Liberation Serif', serif" font-size="5.9" font-weight="bold" text-anchor="end" fill="#000" stroke="#000" stroke-width="0.22">10</text>
<line x1="388.8" y1="290.5" x2="391.6" y2="290.5" stroke="#222" stroke-width="1"/>
<text x="388.6" y="291.9" font-family="'Liberation Serif', serif" font-size="5.9" font-weight="bold" text-anchor="end" fill="#000" stroke="#000" stroke-width="0.22">12</text>
<line x1="421.9" y1="375.8" x2="421.9" y2="377.1" stroke="#000" stroke-width="0.5"/>
<line x1="452.5" y1="375.8" x2="452.5" y2="377.1" stroke="#000" stroke-width="0.5"/>
<rect x="399.5" y="306.25" width="16.75" height="69.55" fill="#000"/>
<line x1="407.5" y1="306.25" x2="407.5" y2="298" stroke="#000" stroke-width="1.3"/>
<line x1="403.75" y1="298.5" x2="412.05" y2="298.5" stroke="#000" stroke-width="1.4"/>
<rect x="427.35" y="347.85" width="16.05" height="27.95" fill="#8c8c8c" stroke="#3a3a3a" stroke-width="0.7"/>
<line x1="435.5" y1="347.5" x2="435.5" y2="343.75" stroke="#000" stroke-width="1.3"/>
<line x1="431.25" y1="343.5" x2="439.55" y2="343.5" stroke="#000" stroke-width="1.4"/>
<polygon points="435.75,335.89 436.61,337.62 438.52,337.9 437.13,339.25 437.46,341.16 435.75,340.26 434.04,341.16 434.37,339.25 432.98,337.9 434.89,337.62" fill="#000"/>
<rect x="423.8" y="292.5" width="6.7" height="5.5" fill="#000"/>
<rect x="423.8" y="301.3" width="6.7" height="5" fill="#8c8c8c" stroke="#3a3a3a" stroke-width="0.6"/>
<text x="432" y="298.2" font-family="'Liberation Serif', serif" font-size="6.7" font-weight="bold" text-anchor="start" fill="#000" stroke="#000" stroke-width="0.22">Control</text>
<text x="432" y="306.2" font-family="'Liberation Serif', serif" font-size="6.7" font-weight="bold" text-anchor="start" fill="#000" stroke="#000" stroke-width="0.22">Sclpfn1</text>
<text x="375.8" y="330.8" font-family="'Liberation Serif', serif" font-size="7.4" font-weight="bold" text-anchor="middle" fill="#000" transform="rotate(-90 375.8 330.8)" stroke="#000" stroke-width="0.22">% Apoptotic LT-HSCs</text>
</g>
</svg>
</body></html>
